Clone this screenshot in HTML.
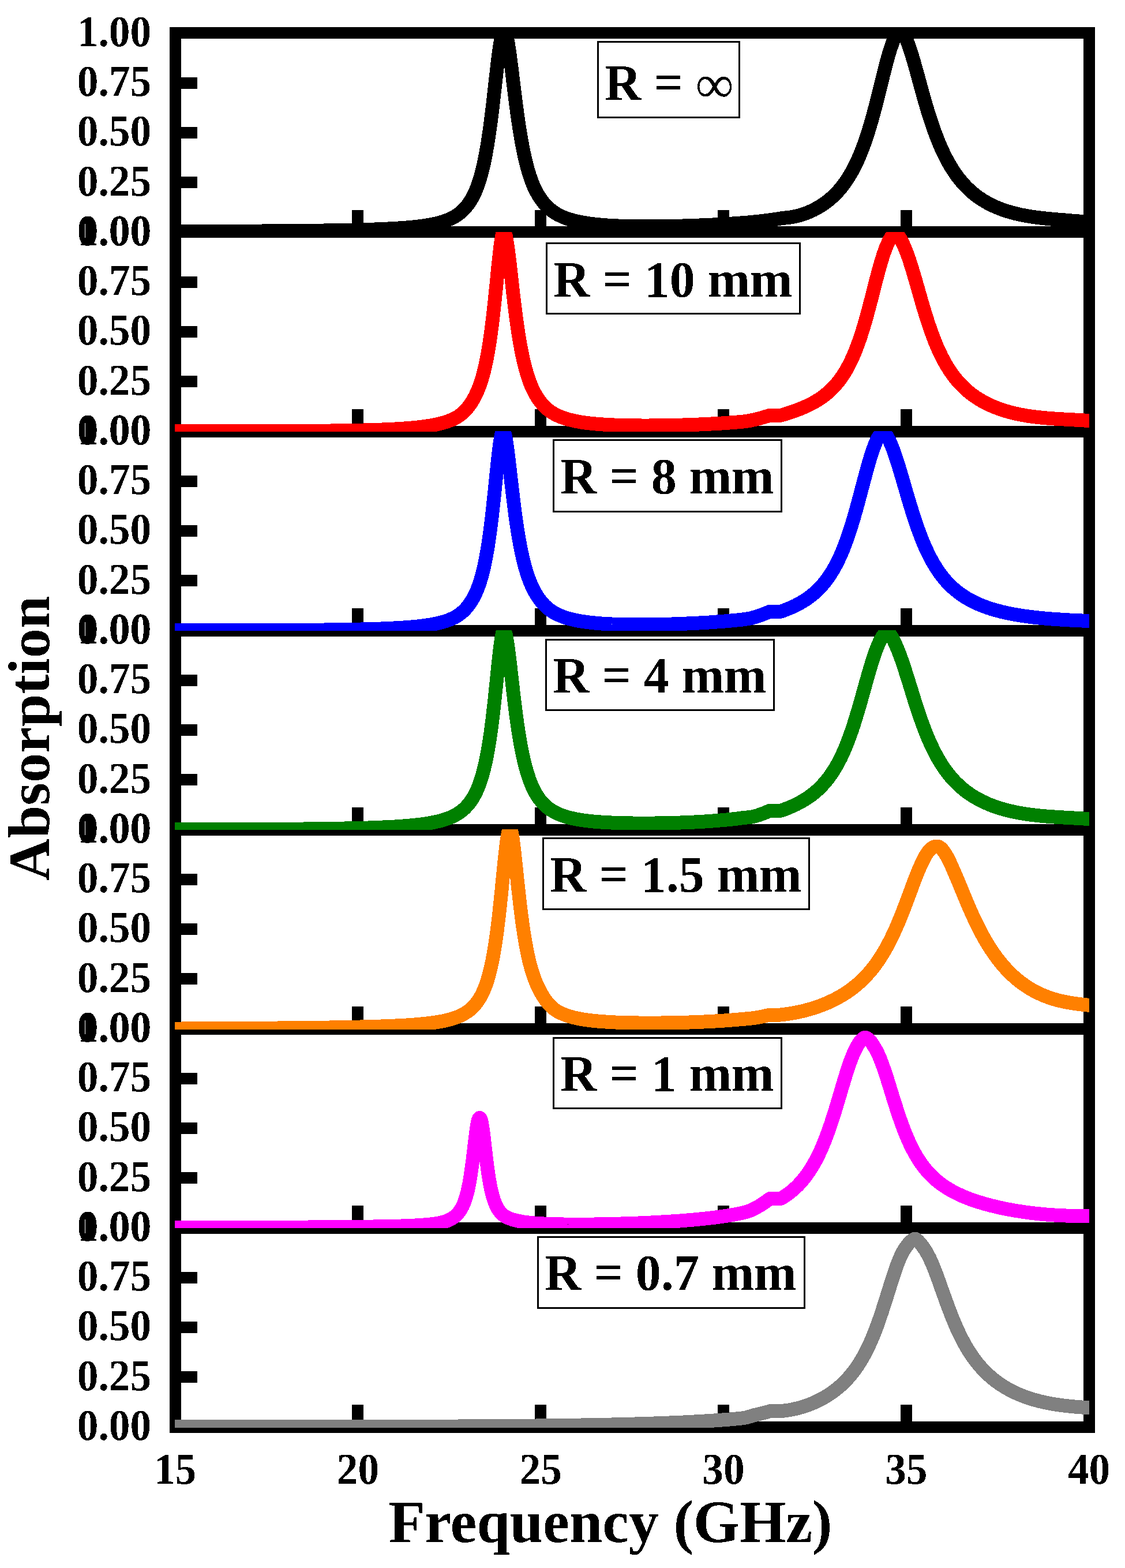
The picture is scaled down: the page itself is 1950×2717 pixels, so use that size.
<!DOCTYPE html>
<html lang="en"><head><meta charset="utf-8"><title>Absorption vs Frequency</title>
<style>html,body{margin:0;padding:0;background:#fff}svg{display:block}text{font-family:"Liberation Serif",serif;font-weight:bold;fill:#000}</style>
</head><body>
<svg width="1950" height="2717" viewBox="0 0 1950 2717">
<rect width="1950" height="2717" fill="#fff"/>
<defs>
<filter id="bin" x="-5%" y="-5%" width="110%" height="110%"><feComponentTransfer><feFuncA type="discrete" tableValues="0 1"/></feComponentTransfer></filter>
<clipPath id="c0"><rect x="303" y="57" width="1585" height="346"/></clipPath>
<clipPath id="c1"><rect x="303" y="402" width="1585" height="346"/></clipPath>
<clipPath id="c2"><rect x="303" y="747" width="1585" height="346"/></clipPath>
<clipPath id="c3"><rect x="303" y="1092" width="1585" height="346"/></clipPath>
<clipPath id="c4"><rect x="303" y="1437" width="1585" height="347"/></clipPath>
<clipPath id="c5"><rect x="303" y="1782" width="1585" height="346"/></clipPath>
<clipPath id="c6"><rect x="303" y="2127" width="1585" height="347"/></clipPath>
</defs>
<g fill="#000" shape-rendering="crispEdges">
<rect x="294" y="47" width="20" height="2436"/>
<rect x="1878" y="47" width="20" height="2436"/>
<rect x="294" y="47" width="1604" height="20"/>
<rect x="294" y="392" width="1604" height="20"/>
<rect x="314" y="134" width="28" height="20"/>
<rect x="314" y="220" width="28" height="20"/>
<rect x="314" y="306" width="28" height="20"/>
<rect x="610" y="364" width="20" height="30"/>
<rect x="927" y="364" width="20" height="30"/>
<rect x="1244" y="364" width="20" height="30"/>
<rect x="1561" y="364" width="20" height="30"/>
<rect x="294" y="738" width="1604" height="20"/>
<rect x="314" y="479" width="28" height="20"/>
<rect x="314" y="565" width="28" height="20"/>
<rect x="314" y="651" width="28" height="20"/>
<rect x="610" y="709" width="20" height="30"/>
<rect x="927" y="709" width="20" height="30"/>
<rect x="1244" y="709" width="20" height="30"/>
<rect x="1561" y="709" width="20" height="30"/>
<rect x="294" y="1083" width="1604" height="20"/>
<rect x="314" y="824" width="28" height="20"/>
<rect x="314" y="910" width="28" height="20"/>
<rect x="314" y="996" width="28" height="20"/>
<rect x="610" y="1054" width="20" height="30"/>
<rect x="927" y="1054" width="20" height="30"/>
<rect x="1244" y="1054" width="20" height="30"/>
<rect x="1561" y="1054" width="20" height="30"/>
<rect x="294" y="1428" width="1604" height="20"/>
<rect x="314" y="1169" width="28" height="20"/>
<rect x="314" y="1255" width="28" height="20"/>
<rect x="314" y="1341" width="28" height="20"/>
<rect x="610" y="1399" width="20" height="30"/>
<rect x="927" y="1399" width="20" height="30"/>
<rect x="1244" y="1399" width="20" height="30"/>
<rect x="1561" y="1399" width="20" height="30"/>
<rect x="294" y="1773" width="1604" height="20"/>
<rect x="314" y="1514" width="28" height="20"/>
<rect x="314" y="1600" width="28" height="20"/>
<rect x="314" y="1686" width="28" height="20"/>
<rect x="610" y="1744" width="20" height="30"/>
<rect x="927" y="1744" width="20" height="30"/>
<rect x="1244" y="1744" width="20" height="30"/>
<rect x="1561" y="1744" width="20" height="30"/>
<rect x="294" y="2118" width="1604" height="20"/>
<rect x="314" y="1859" width="28" height="20"/>
<rect x="314" y="1945" width="28" height="20"/>
<rect x="314" y="2031" width="28" height="20"/>
<rect x="610" y="2089" width="20" height="30"/>
<rect x="927" y="2089" width="20" height="30"/>
<rect x="1244" y="2089" width="20" height="30"/>
<rect x="1561" y="2089" width="20" height="30"/>
<rect x="294" y="2463" width="1604" height="20"/>
<rect x="314" y="2204" width="28" height="20"/>
<rect x="314" y="2290" width="28" height="20"/>
<rect x="314" y="2376" width="28" height="20"/>
<rect x="610" y="2434" width="20" height="30"/>
<rect x="927" y="2434" width="20" height="30"/>
<rect x="1244" y="2434" width="20" height="30"/>
<rect x="1561" y="2434" width="20" height="30"/>
</g>
<g fill="none" stroke-width="24" stroke-linejoin="round" stroke-linecap="butt" shape-rendering="crispEdges">
<g clip-path="url(#c0)"><path stroke="#000000" d="M298.0,401.1 L304.0,401.1 L305.3,401.1 L306.5,401.1 L307.8,401.1 L309.1,401.1 L310.3,401.1 L311.6,401.1 L312.9,401.1 L314.1,401.1 L315.4,401.1 L316.7,401.0 L317.9,401.0 L319.2,401.0 L320.5,401.0 L321.7,401.0 L323.0,401.0 L324.3,401.0 L325.5,401.0 L326.8,401.0 L328.1,401.0 L329.3,401.0 L330.6,401.0 L331.9,401.0 L333.1,401.0 L334.4,401.0 L335.7,401.0 L336.9,401.0 L338.2,401.0 L339.5,401.0 L340.7,401.0 L342.0,401.0 L343.3,401.0 L344.6,401.0 L345.8,401.0 L347.1,401.0 L348.4,400.9 L349.6,400.9 L350.9,400.9 L352.2,400.9 L353.4,400.9 L354.7,400.9 L356.0,400.9 L357.2,400.9 L358.5,400.9 L359.8,400.9 L361.0,400.9 L362.3,400.9 L363.6,400.9 L364.8,400.9 L366.1,400.9 L367.4,400.9 L368.6,400.9 L369.9,400.9 L371.2,400.9 L372.4,400.9 L373.7,400.9 L375.0,400.8 L376.2,400.8 L377.5,400.8 L378.8,400.8 L380.0,400.8 L381.3,400.8 L382.6,400.8 L383.8,400.8 L385.1,400.8 L386.4,400.8 L387.6,400.8 L388.9,400.8 L390.2,400.8 L391.4,400.8 L392.7,400.8 L394.0,400.8 L395.2,400.8 L396.5,400.8 L397.8,400.8 L399.0,400.7 L400.3,400.7 L401.6,400.7 L402.8,400.7 L404.1,400.7 L405.4,400.7 L406.6,400.7 L407.9,400.7 L409.2,400.7 L410.4,400.7 L411.7,400.7 L413.0,400.7 L414.2,400.7 L415.5,400.7 L416.8,400.7 L418.0,400.7 L419.3,400.7 L420.6,400.6 L421.8,400.6 L423.1,400.6 L424.4,400.6 L425.7,400.6 L426.9,400.6 L428.2,400.6 L429.5,400.6 L430.7,400.6 L432.0,400.6 L433.3,400.6 L434.5,400.6 L435.8,400.6 L437.1,400.6 L438.3,400.5 L439.6,400.5 L440.9,400.5 L442.1,400.5 L443.4,400.5 L444.7,400.5 L445.9,400.5 L447.2,400.5 L448.5,400.5 L449.7,400.5 L451.0,400.5 L452.3,400.5 L453.5,400.5 L454.8,400.5 L456.1,400.4 L457.3,400.4 L458.6,400.4 L459.9,400.4 L461.1,400.4 L462.4,400.4 L463.7,400.4 L464.9,400.4 L466.2,400.4 L467.5,400.4 L468.7,400.4 L470.0,400.4 L471.3,400.3 L472.5,400.3 L473.8,400.3 L475.1,400.3 L476.3,400.3 L477.6,400.3 L478.9,400.3 L480.1,400.3 L481.4,400.3 L482.7,400.3 L483.9,400.3 L485.2,400.2 L486.5,400.2 L487.7,400.2 L489.0,400.2 L490.3,400.2 L491.5,400.2 L492.8,400.2 L494.1,400.2 L495.3,400.2 L496.6,400.2 L497.9,400.1 L499.1,400.1 L500.4,400.1 L501.7,400.1 L503.0,400.1 L504.2,400.1 L505.5,400.1 L506.8,400.1 L508.0,400.1 L509.3,400.0 L510.6,400.0 L511.8,400.0 L513.1,400.0 L514.4,400.0 L515.6,400.0 L516.9,400.0 L518.2,400.0 L519.4,399.9 L520.7,399.9 L522.0,399.9 L523.2,399.9 L524.5,399.9 L525.8,399.9 L527.0,399.9 L528.3,399.9 L529.6,399.8 L530.8,399.8 L532.1,399.8 L533.4,399.8 L534.6,399.8 L535.9,399.8 L537.2,399.8 L538.4,399.7 L539.7,399.7 L541.0,399.7 L542.2,399.7 L543.5,399.7 L544.8,399.7 L546.0,399.7 L547.3,399.6 L548.6,399.6 L549.8,399.6 L551.1,399.6 L552.4,399.6 L553.6,399.6 L554.9,399.5 L556.2,399.5 L557.4,399.5 L558.7,399.5 L560.0,399.5 L561.2,399.5 L562.5,399.4 L563.8,399.4 L565.0,399.4 L566.3,399.4 L567.6,399.4 L568.8,399.3 L570.1,399.3 L571.4,399.3 L572.6,399.3 L573.9,399.3 L575.2,399.2 L576.4,399.2 L577.7,399.2 L579.0,399.2 L580.2,399.2 L581.5,399.1 L582.8,399.1 L584.1,399.1 L585.3,399.1 L586.6,399.1 L587.9,399.0 L589.1,399.0 L590.4,399.0 L591.7,399.0 L592.9,398.9 L594.2,398.9 L595.5,398.9 L596.7,398.9 L598.0,398.8 L599.3,398.8 L600.5,398.8 L601.8,398.8 L603.1,398.7 L604.3,398.7 L605.6,398.7 L606.9,398.7 L608.1,398.6 L609.4,398.6 L610.7,398.6 L611.9,398.5 L613.2,398.5 L614.5,398.5 L615.7,398.5 L617.0,398.4 L618.3,398.4 L619.5,398.4 L620.8,398.3 L622.1,398.3 L623.3,398.3 L624.6,398.2 L625.9,398.2 L627.1,398.2 L628.4,398.1 L629.7,398.1 L630.9,398.1 L632.2,398.0 L633.5,398.0 L634.7,398.0 L636.0,397.9 L637.3,397.9 L638.5,397.8 L639.8,397.8 L641.1,397.8 L642.3,397.7 L643.6,397.7 L644.9,397.6 L646.1,397.6 L647.4,397.5 L648.7,397.5 L649.9,397.5 L651.2,397.4 L652.5,397.4 L653.7,397.3 L655.0,397.3 L656.3,397.2 L657.5,397.2 L658.8,397.1 L660.1,397.1 L661.4,397.0 L662.6,397.0 L663.9,396.9 L665.2,396.8 L666.4,396.8 L667.7,396.7 L669.0,396.7 L670.2,396.6 L671.5,396.6 L672.8,396.5 L674.0,396.4 L675.3,396.4 L676.6,396.3 L677.8,396.2 L679.1,396.2 L680.4,396.1 L681.6,396.0 L682.9,396.0 L684.2,395.9 L685.4,395.8 L686.7,395.7 L688.0,395.7 L689.2,395.6 L690.5,395.5 L691.8,395.4 L693.0,395.3 L694.3,395.2 L695.6,395.2 L696.8,395.1 L698.1,395.0 L699.4,394.9 L700.6,394.8 L701.9,394.7 L703.2,394.6 L704.4,394.5 L705.7,394.4 L707.0,394.3 L708.2,394.2 L709.5,394.1 L710.8,393.9 L712.0,393.8 L713.3,393.7 L714.6,393.6 L715.8,393.5 L717.1,393.3 L718.4,393.2 L719.6,393.1 L720.9,392.9 L722.2,392.8 L723.4,392.7 L724.7,392.5 L726.0,392.4 L727.2,392.2 L728.5,392.0 L729.8,391.9 L731.0,391.7 L732.3,391.5 L733.6,391.4 L734.8,391.2 L736.1,391.0 L737.4,390.8 L738.6,390.6 L739.9,390.4 L741.2,390.2 L742.5,390.0 L743.7,389.8 L745.0,389.5 L746.3,389.3 L747.5,389.1 L748.8,388.8 L750.1,388.6 L751.3,388.3 L752.6,388.0 L753.9,387.8 L755.1,387.5 L756.4,387.2 L757.7,386.9 L758.9,386.6 L760.2,386.2 L761.5,385.9 L762.7,385.6 L764.0,385.2 L765.3,384.8 L766.5,384.5 L767.8,384.1 L769.1,383.7 L770.3,383.2 L771.6,382.8 L772.9,382.3 L774.1,381.9 L775.4,381.4 L776.7,380.9 L777.9,380.4 L779.2,379.8 L780.5,379.3 L781.7,378.7 L783.0,378.1 L784.3,377.4 L785.5,376.8 L786.8,376.1 L788.1,375.4 L789.3,374.6 L790.6,373.8 L791.9,373.0 L793.1,372.1 L794.4,371.2 L795.7,370.3 L796.9,369.3 L798.2,368.2 L799.5,367.1 L800.7,366.0 L802.0,364.8 L803.3,363.6 L804.5,362.3 L805.8,360.9 L807.1,359.5 L808.3,358.0 L809.6,356.4 L810.9,354.8 L812.1,353.0 L813.4,351.2 L814.7,349.3 L815.9,347.3 L817.2,345.2 L818.5,342.9 L819.8,340.6 L821.0,338.1 L822.3,335.5 L823.6,332.7 L824.8,329.8 L826.1,326.7 L827.4,323.4 L828.6,319.9 L829.9,316.2 L831.2,312.3 L832.4,308.1 L833.7,303.7 L835.0,299.0 L836.2,294.0 L837.5,288.6 L838.8,283.0 L840.0,277.0 L841.3,270.6 L842.6,263.9 L843.8,256.7 L845.1,249.1 L846.4,241.1 L847.6,232.7 L848.9,223.8 L850.2,214.5 L851.4,204.7 L852.7,194.5 L854.0,184.0 L855.2,173.1 L856.5,162.0 L857.8,150.7 L859.0,139.4 L860.3,128.1 L861.6,117.0 L862.8,106.3 L864.1,96.1 L865.4,86.7 L866.6,78.2 L867.9,70.9 L869.2,64.7 L870.4,60.0 L871.7,56.7 L873.0,54.9 L874.2,54.5 L875.5,55.7 L876.8,58.4 L878.0,62.6 L879.3,68.1 L880.6,74.8 L881.8,82.5 L883.1,91.1 L884.4,100.3 L885.6,110.1 L886.9,120.2 L888.2,130.6 L889.4,141.0 L890.7,151.4 L892.0,161.8 L893.2,171.9 L894.5,181.8 L895.8,191.4 L897.0,200.6 L898.3,209.5 L899.6,218.1 L900.9,226.3 L902.1,234.1 L903.4,241.5 L904.7,248.5 L905.9,255.3 L907.2,261.6 L908.5,267.7 L909.7,273.4 L911.0,278.8 L912.3,283.9 L913.5,288.8 L914.8,293.4 L916.1,297.7 L917.3,301.8 L918.6,305.7 L919.9,309.4 L921.1,312.9 L922.4,316.2 L923.7,319.4 L924.9,322.4 L926.2,325.2 L927.5,327.9 L928.7,330.5 L930.0,332.9 L931.3,335.2 L932.5,337.4 L933.8,339.5 L935.1,341.5 L936.3,343.4 L937.6,345.3 L938.9,347.0 L940.1,348.7 L941.4,350.3 L942.7,351.8 L943.9,353.3 L945.2,354.7 L946.5,356.1 L947.7,357.4 L949.0,358.6 L950.3,359.8 L951.5,361.0 L952.8,362.1 L954.1,363.1 L955.3,364.1 L956.6,365.1 L957.9,366.1 L959.1,367.0 L960.4,367.8 L961.7,368.7 L962.9,369.5 L964.2,370.2 L965.5,371.0 L966.7,371.7 L968.0,372.3 L969.3,373.0 L970.5,373.6 L971.8,374.2 L973.1,374.8 L974.3,375.4 L975.6,375.9 L976.9,376.5 L978.2,377.0 L979.4,377.5 L980.7,377.9 L982.0,378.4 L983.2,378.8 L984.5,379.3 L985.8,379.7 L987.0,380.1 L988.3,380.5 L989.6,380.9 L990.8,381.2 L992.1,381.6 L993.4,381.9 L994.6,382.3 L995.9,382.6 L997.2,382.9 L998.4,383.2 L999.7,383.5 L1001.0,383.8 L1002.2,384.1 L1003.5,384.3 L1004.8,384.6 L1006.0,384.9 L1007.3,385.1 L1008.6,385.3 L1009.8,385.6 L1011.1,385.8 L1012.4,386.0 L1013.6,386.2 L1014.9,386.4 L1016.2,386.6 L1017.4,386.8 L1018.7,387.0 L1020.0,387.2 L1021.2,387.4 L1022.5,387.5 L1023.8,387.7 L1025.0,387.9 L1026.3,388.0 L1027.6,388.2 L1028.8,388.3 L1030.1,388.5 L1031.4,388.6 L1032.6,388.8 L1033.9,388.9 L1035.2,389.0 L1036.4,389.2 L1037.7,389.3 L1039.0,389.4 L1040.2,389.5 L1041.5,389.6 L1042.8,389.7 L1044.0,389.8 L1045.3,389.9 L1046.6,390.0 L1047.8,390.1 L1049.1,390.2 L1050.4,390.3 L1051.6,390.4 L1052.9,390.5 L1054.2,390.6 L1055.4,390.7 L1056.7,390.7 L1058.0,390.8 L1059.3,390.9 L1060.5,391.0 L1061.8,391.0 L1063.1,391.1 L1064.3,391.2 L1065.6,391.2 L1066.9,391.3 L1068.1,391.3 L1069.4,391.4 L1070.7,391.4 L1071.9,391.5 L1073.2,391.6 L1074.5,391.6 L1075.7,391.6 L1077.0,391.7 L1078.3,391.7 L1079.5,391.8 L1080.8,391.8 L1082.1,391.9 L1083.3,391.9 L1084.6,391.9 L1085.9,392.0 L1087.1,392.0 L1088.4,392.0 L1089.7,392.1 L1090.9,392.1 L1092.2,392.1 L1093.5,392.1 L1094.7,392.2 L1096.0,392.2 L1097.3,392.2 L1098.5,392.2 L1099.8,392.2 L1101.1,392.3 L1102.3,392.3 L1103.6,392.3 L1104.9,392.3 L1106.1,392.3 L1107.4,392.3 L1108.7,392.3 L1109.9,392.4 L1111.2,392.4 L1112.5,392.4 L1113.7,392.4 L1115.0,392.4 L1116.3,392.4 L1117.5,392.4 L1118.8,392.4 L1120.1,392.4 L1121.3,392.4 L1122.6,392.4 L1123.9,392.4 L1125.1,392.4 L1126.4,392.4 L1127.7,392.4 L1128.9,392.4 L1130.2,392.4 L1131.5,392.4 L1132.7,392.4 L1134.0,392.4 L1135.3,392.4 L1136.6,392.3 L1137.8,392.3 L1139.1,392.3 L1140.4,392.3 L1141.6,392.3 L1142.9,392.3 L1144.2,392.3 L1145.4,392.3 L1146.7,392.2 L1148.0,392.2 L1149.2,392.2 L1150.5,392.2 L1151.8,392.2 L1153.0,392.1 L1154.3,392.1 L1155.6,392.1 L1156.8,392.1 L1158.1,392.1 L1159.4,392.0 L1160.6,392.0 L1161.9,392.0 L1163.2,392.0 L1164.4,391.9 L1165.7,391.9 L1167.0,391.9 L1168.2,391.9 L1169.5,391.8 L1170.8,391.8 L1172.0,391.8 L1173.3,391.7 L1174.6,391.7 L1175.8,391.7 L1177.1,391.6 L1178.4,391.6 L1179.6,391.6 L1180.9,391.5 L1182.2,391.5 L1183.4,391.5 L1184.7,391.4 L1186.0,391.4 L1187.2,391.4 L1188.5,391.3 L1189.8,391.3 L1191.0,391.3 L1192.3,391.2 L1193.6,391.2 L1194.8,391.1 L1196.1,391.1 L1197.4,391.1 L1198.6,391.0 L1199.9,391.0 L1201.2,390.9 L1202.4,390.9 L1203.7,390.8 L1205.0,390.8 L1206.2,390.7 L1207.5,390.7 L1208.8,390.6 L1210.0,390.6 L1211.3,390.5 L1212.6,390.5 L1213.8,390.4 L1215.1,390.4 L1216.4,390.3 L1217.7,390.3 L1218.9,390.2 L1220.2,390.2 L1221.5,390.1 L1222.7,390.1 L1224.0,390.0 L1225.3,390.0 L1226.5,389.9 L1227.8,389.9 L1229.1,389.8 L1230.3,389.7 L1231.6,389.7 L1232.9,389.6 L1234.1,389.6 L1235.4,389.5 L1236.7,389.4 L1237.9,389.4 L1239.2,389.3 L1240.5,389.2 L1241.7,389.2 L1243.0,389.1 L1244.3,389.0 L1245.5,389.0 L1246.8,388.9 L1248.1,388.8 L1249.3,388.8 L1250.6,388.7 L1251.9,388.6 L1253.1,388.5 L1254.4,388.5 L1255.7,388.4 L1256.9,388.3 L1258.2,388.2 L1259.5,388.2 L1260.7,388.1 L1262.0,388.0 L1263.3,387.9 L1264.5,387.9 L1265.8,387.8 L1267.1,387.7 L1268.3,387.6 L1269.6,387.5 L1270.9,387.4 L1272.1,387.3 L1273.4,387.3 L1274.7,387.2 L1275.9,387.1 L1277.2,387.0 L1278.5,386.9 L1279.7,386.8 L1281.0,386.7 L1282.3,386.6 L1283.5,386.5 L1284.8,386.4 L1286.1,386.3 L1287.3,386.2 L1288.6,386.1 L1289.9,386.0 L1291.1,385.9 L1292.4,385.8 L1293.7,385.7 L1295.0,385.6 L1296.2,385.5 L1297.5,385.4 L1298.8,385.2 L1300.0,385.1 L1301.3,385.0 L1302.6,384.9 L1303.8,384.8 L1305.1,384.7 L1306.4,384.5 L1307.6,384.4 L1308.9,384.3 L1310.2,384.2 L1311.4,384.0 L1312.7,383.9 L1314.0,383.8 L1315.2,383.6 L1316.5,383.5 L1317.8,383.3 L1319.0,383.2 L1320.3,383.1 L1321.6,382.9 L1322.8,382.8 L1324.1,382.6 L1325.4,382.5 L1326.6,382.3 L1327.9,382.1 L1329.2,382.0 L1330.4,381.8 L1331.7,381.7 L1333.0,381.5 L1334.2,381.3 L1335.5,381.1 L1336.8,381.0 L1338.0,380.8 L1339.3,380.6 L1340.6,380.4 L1341.8,380.2 L1343.1,380.0 L1344.4,379.9 L1345.6,379.7 L1346.9,379.5 L1348.2,379.2 L1349.4,379.0 L1350.7,378.8 L1352.0,378.6 L1353.2,378.4 L1354.5,378.2 L1355.8,377.9 L1357.0,377.9 L1358.3,377.8 L1359.6,377.7 L1360.8,377.6 L1362.1,377.4 L1363.4,377.3 L1364.6,377.2 L1365.9,377.0 L1367.2,376.8 L1368.4,376.7 L1369.7,376.5 L1371.0,376.3 L1372.2,376.1 L1373.5,375.9 L1374.8,375.6 L1376.1,375.4 L1377.3,375.1 L1378.6,374.9 L1379.9,374.6 L1381.1,374.3 L1382.4,374.0 L1383.7,373.7 L1384.9,373.4 L1386.2,373.1 L1387.5,372.7 L1388.7,372.3 L1390.0,371.9 L1391.3,371.5 L1392.5,371.1 L1393.8,370.7 L1395.1,370.2 L1396.3,369.7 L1397.6,369.2 L1398.9,368.7 L1400.1,368.2 L1401.4,367.7 L1402.7,367.2 L1403.9,366.6 L1405.2,366.1 L1406.5,365.5 L1407.7,364.9 L1409.0,364.3 L1410.3,363.7 L1411.5,363.0 L1412.8,362.4 L1414.1,361.7 L1415.3,361.0 L1416.6,360.3 L1417.9,359.6 L1419.1,358.9 L1420.4,358.1 L1421.7,357.3 L1422.9,356.6 L1424.2,355.7 L1425.5,354.9 L1426.7,354.1 L1428.0,353.2 L1429.3,352.3 L1430.5,351.4 L1431.8,350.5 L1433.1,349.5 L1434.3,348.5 L1435.6,347.5 L1436.9,346.5 L1438.1,345.4 L1439.4,344.4 L1440.7,343.3 L1441.9,342.1 L1443.2,341.0 L1444.5,339.8 L1445.7,338.6 L1447.0,337.3 L1448.3,336.1 L1449.5,334.8 L1450.8,333.4 L1452.1,332.1 L1453.4,330.6 L1454.6,329.2 L1455.9,327.7 L1457.2,326.2 L1458.4,324.7 L1459.7,323.1 L1461.0,321.4 L1462.2,319.8 L1463.5,318.1 L1464.8,316.3 L1466.0,314.5 L1467.3,312.6 L1468.6,310.7 L1469.8,308.8 L1471.1,306.8 L1472.4,304.7 L1473.6,302.6 L1474.9,300.5 L1476.2,298.2 L1477.4,296.0 L1478.7,293.6 L1480.0,291.2 L1481.2,288.7 L1482.5,286.2 L1483.8,283.6 L1485.0,280.9 L1486.3,278.2 L1487.6,275.4 L1488.8,272.5 L1490.1,269.5 L1491.4,266.4 L1492.6,263.3 L1493.9,260.1 L1495.2,256.8 L1496.4,253.4 L1497.7,250.0 L1499.0,246.4 L1500.2,242.8 L1501.5,239.0 L1502.8,235.2 L1504.0,231.3 L1505.3,227.3 L1506.6,223.2 L1507.8,219.0 L1509.1,214.7 L1510.4,210.4 L1511.6,205.9 L1512.9,201.4 L1514.2,196.8 L1515.4,192.1 L1516.7,187.3 L1518.0,182.5 L1519.2,177.6 L1520.5,172.6 L1521.8,167.6 L1523.0,162.5 L1524.3,157.4 L1525.6,152.3 L1526.8,147.1 L1528.1,142.0 L1529.4,136.8 L1530.6,131.7 L1531.9,126.6 L1533.2,121.6 L1534.5,116.6 L1535.7,111.7 L1537.0,106.9 L1538.3,102.2 L1539.5,97.7 L1540.8,93.3 L1542.1,89.1 L1543.3,85.1 L1544.6,81.3 L1545.9,77.6 L1547.1,74.1 L1548.4,70.9 L1549.7,67.9 L1550.9,65.3 L1552.2,63.0 L1553.5,61.0 L1554.7,59.3 L1556.0,57.9 L1557.3,56.9 L1558.5,56.2 L1559.8,55.9 L1561.1,55.8 L1562.3,56.2 L1563.6,57.1 L1564.9,58.2 L1566.1,59.8 L1567.4,61.6 L1568.7,63.8 L1569.9,66.2 L1571.2,68.9 L1572.5,71.8 L1573.7,75.0 L1575.0,78.4 L1576.3,82.0 L1577.5,85.8 L1578.8,89.7 L1580.1,93.7 L1581.3,97.8 L1582.6,102.0 L1583.9,106.4 L1585.1,110.8 L1586.4,115.3 L1587.7,119.8 L1588.9,124.4 L1590.2,129.0 L1591.5,133.6 L1592.7,138.3 L1594.0,142.9 L1595.3,147.5 L1596.5,152.1 L1597.8,156.7 L1599.1,161.3 L1600.3,165.8 L1601.6,170.2 L1602.9,174.7 L1604.1,179.0 L1605.4,183.3 L1606.7,187.6 L1607.9,191.8 L1609.2,195.9 L1610.5,199.9 L1611.8,203.9 L1613.0,207.8 L1614.3,211.7 L1615.6,215.4 L1616.8,219.1 L1618.1,222.7 L1619.4,226.3 L1620.6,229.8 L1621.9,233.2 L1623.2,236.5 L1624.4,239.8 L1625.7,243.0 L1627.0,246.1 L1628.2,249.1 L1629.5,252.1 L1630.8,255.0 L1632.0,257.9 L1633.3,260.7 L1634.6,263.4 L1635.8,266.0 L1637.1,268.6 L1638.4,271.2 L1639.6,273.7 L1640.9,276.1 L1642.2,278.5 L1643.4,280.8 L1644.7,283.0 L1646.0,285.2 L1647.2,287.4 L1648.5,289.5 L1649.8,291.5 L1651.0,293.6 L1652.3,295.5 L1653.6,297.4 L1654.8,299.3 L1656.1,301.1 L1657.4,302.9 L1658.6,304.7 L1659.9,306.4 L1661.2,308.1 L1662.4,309.7 L1663.7,311.3 L1665.0,312.8 L1666.2,314.4 L1667.5,315.8 L1668.8,317.3 L1670.0,318.7 L1671.3,320.1 L1672.6,321.5 L1673.8,322.8 L1675.1,324.1 L1676.4,325.4 L1677.6,326.6 L1678.9,327.8 L1680.2,329.0 L1681.4,330.2 L1682.7,331.3 L1684.0,332.4 L1685.2,333.5 L1686.5,334.6 L1687.8,335.6 L1689.0,336.7 L1690.3,337.7 L1691.6,338.6 L1692.9,339.6 L1694.1,340.5 L1695.4,341.5 L1696.7,342.4 L1697.9,343.2 L1699.2,344.1 L1700.5,344.9 L1701.7,345.8 L1703.0,346.6 L1704.3,347.4 L1705.5,348.1 L1706.8,348.9 L1708.1,349.6 L1709.3,350.4 L1710.6,351.1 L1711.9,351.8 L1713.1,352.5 L1714.4,353.1 L1715.7,353.8 L1716.9,354.4 L1718.2,355.1 L1719.5,355.7 L1720.7,356.3 L1722.0,356.9 L1723.3,357.5 L1724.5,358.0 L1725.8,358.6 L1727.1,359.1 L1728.3,359.7 L1729.6,360.2 L1730.9,360.7 L1732.1,361.2 L1733.4,361.7 L1734.7,362.2 L1735.9,362.7 L1737.2,363.1 L1738.5,363.6 L1739.7,364.0 L1741.0,364.4 L1742.3,364.9 L1743.5,365.3 L1744.8,365.7 L1746.1,366.1 L1747.3,366.5 L1748.6,366.9 L1749.9,367.2 L1751.1,367.6 L1752.4,368.0 L1753.7,368.3 L1754.9,368.7 L1756.2,369.0 L1757.5,369.3 L1758.7,369.7 L1760.0,370.0 L1761.3,370.3 L1762.5,370.6 L1763.8,370.9 L1765.1,371.2 L1766.3,371.5 L1767.6,371.7 L1768.9,372.0 L1770.2,372.3 L1771.4,372.5 L1772.7,372.8 L1774.0,373.0 L1775.2,373.3 L1776.5,373.5 L1777.8,373.8 L1779.0,374.0 L1780.3,374.2 L1781.6,374.4 L1782.8,374.7 L1784.1,374.9 L1785.4,375.1 L1786.6,375.3 L1787.9,375.5 L1789.2,375.7 L1790.4,375.9 L1791.7,376.0 L1793.0,376.2 L1794.2,376.4 L1795.5,376.6 L1796.8,376.7 L1798.0,376.9 L1799.3,377.1 L1800.6,377.2 L1801.8,377.4 L1803.1,377.5 L1804.4,377.7 L1805.6,377.8 L1806.9,378.0 L1808.2,378.1 L1809.4,378.3 L1810.7,378.4 L1812.0,378.5 L1813.2,378.7 L1814.5,378.8 L1815.8,378.9 L1817.0,379.1 L1818.3,379.2 L1819.6,379.3 L1820.8,379.4 L1822.1,379.5 L1823.4,379.7 L1824.6,379.8 L1825.9,379.9 L1827.2,380.0 L1828.4,380.1 L1829.7,380.2 L1831.0,380.3 L1832.2,380.4 L1833.5,380.5 L1834.8,380.6 L1836.0,380.7 L1837.3,380.8 L1838.6,380.9 L1839.8,381.0 L1841.1,381.1 L1842.4,381.2 L1843.6,381.3 L1844.9,381.4 L1846.2,381.5 L1847.4,381.6 L1848.7,381.8 L1850.0,381.9 L1851.3,382.0 L1852.5,382.1 L1853.8,382.2 L1855.1,382.3 L1856.3,382.4 L1857.6,382.5 L1858.9,382.6 L1860.1,382.7 L1861.4,382.8 L1862.7,382.9 L1863.9,383.0 L1865.2,383.1 L1866.5,383.2 L1867.7,383.3 L1869.0,383.4 L1870.3,383.6 L1871.5,383.7 L1872.8,383.8 L1874.1,383.9 L1875.3,384.0 L1876.6,384.2 L1877.9,384.3 L1879.1,384.4 L1880.4,384.6 L1881.7,384.7 L1882.9,384.8 L1884.2,385.0 L1885.5,385.1 L1886.7,385.3 L1888.0,385.4 L1892.0,385.4"/></g>
<g clip-path="url(#c1)"><path stroke="#ff0000" d="M298.0,747.0 L304.0,747.0 L305.3,747.0 L306.5,747.0 L307.8,747.0 L309.1,747.0 L310.3,747.0 L311.6,747.0 L312.9,747.0 L314.1,747.0 L315.4,747.0 L316.7,747.0 L317.9,747.0 L319.2,747.0 L320.5,747.0 L321.7,747.0 L323.0,747.0 L324.3,747.0 L325.5,747.0 L326.8,747.0 L328.1,747.0 L329.3,747.0 L330.6,747.0 L331.9,747.0 L333.1,747.0 L334.4,747.0 L335.7,747.0 L336.9,747.0 L338.2,747.0 L339.5,747.0 L340.7,747.0 L342.0,747.1 L343.3,747.1 L344.6,747.1 L345.8,747.1 L347.1,747.1 L348.4,747.1 L349.6,747.1 L350.9,747.1 L352.2,747.1 L353.4,747.1 L354.7,747.1 L356.0,747.1 L357.2,747.1 L358.5,747.1 L359.8,747.1 L361.0,747.1 L362.3,747.1 L363.6,747.1 L364.8,747.1 L366.1,747.1 L367.4,747.1 L368.6,747.1 L369.9,747.1 L371.2,747.1 L372.4,747.1 L373.7,747.1 L375.0,747.1 L376.2,747.1 L377.5,747.1 L378.8,747.1 L380.0,747.1 L381.3,747.1 L382.6,747.1 L383.8,747.1 L385.1,747.1 L386.4,747.1 L387.6,747.1 L388.9,747.1 L390.2,747.1 L391.4,747.1 L392.7,747.1 L394.0,747.1 L395.2,747.1 L396.5,747.1 L397.8,747.1 L399.0,747.1 L400.3,747.1 L401.6,747.1 L402.8,747.1 L404.1,747.1 L405.4,747.1 L406.6,747.1 L407.9,747.1 L409.2,747.1 L410.4,747.1 L411.7,747.1 L413.0,747.1 L414.2,747.1 L415.5,747.1 L416.8,747.1 L418.0,747.1 L419.3,747.1 L420.6,747.1 L421.8,747.1 L423.1,747.1 L424.4,747.1 L425.7,747.1 L426.9,747.1 L428.2,747.1 L429.5,747.1 L430.7,747.1 L432.0,747.1 L433.3,747.1 L434.5,747.1 L435.8,747.1 L437.1,747.1 L438.3,747.1 L439.6,747.1 L440.9,747.1 L442.1,747.1 L443.4,747.1 L444.7,747.1 L445.9,747.1 L447.2,747.1 L448.5,747.1 L449.7,747.1 L451.0,747.1 L452.3,747.1 L453.5,747.1 L454.8,747.1 L456.1,747.1 L457.3,747.1 L458.6,747.1 L459.9,747.1 L461.1,747.1 L462.4,747.1 L463.7,747.1 L464.9,747.1 L466.2,747.1 L467.5,747.1 L468.7,747.1 L470.0,747.1 L471.3,747.1 L472.5,747.1 L473.8,747.1 L475.1,747.1 L476.3,747.1 L477.6,747.1 L478.9,747.1 L480.1,747.1 L481.4,747.1 L482.7,747.1 L483.9,747.1 L485.2,747.1 L486.5,747.0 L487.7,747.0 L489.0,747.0 L490.3,747.0 L491.5,747.0 L492.8,747.0 L494.1,747.0 L495.3,747.0 L496.6,747.0 L497.9,747.0 L499.1,747.0 L500.4,747.0 L501.7,747.0 L503.0,747.0 L504.2,747.0 L505.5,747.0 L506.8,747.0 L508.0,747.0 L509.3,747.0 L510.6,747.0 L511.8,746.9 L513.1,746.9 L514.4,746.9 L515.6,746.9 L516.9,746.9 L518.2,746.9 L519.4,746.9 L520.7,746.9 L522.0,746.9 L523.2,746.9 L524.5,746.9 L525.8,746.9 L527.0,746.9 L528.3,746.9 L529.6,746.9 L530.8,746.8 L532.1,746.8 L533.4,746.8 L534.6,746.8 L535.9,746.8 L537.2,746.8 L538.4,746.8 L539.7,746.8 L541.0,746.8 L542.2,746.8 L543.5,746.8 L544.8,746.7 L546.0,746.7 L547.3,746.7 L548.6,746.7 L549.8,746.7 L551.1,746.7 L552.4,746.7 L553.6,746.7 L554.9,746.7 L556.2,746.6 L557.4,746.6 L558.7,746.6 L560.0,746.6 L561.2,746.6 L562.5,746.6 L563.8,746.6 L565.0,746.6 L566.3,746.5 L567.6,746.5 L568.8,746.5 L570.1,746.5 L571.4,746.5 L572.6,746.5 L573.9,746.5 L575.2,746.4 L576.4,746.4 L577.7,746.4 L579.0,746.4 L580.2,746.4 L581.5,746.4 L582.8,746.4 L584.1,746.3 L585.3,746.3 L586.6,746.3 L587.9,746.3 L589.1,746.3 L590.4,746.2 L591.7,746.2 L592.9,746.2 L594.2,746.2 L595.5,746.2 L596.7,746.2 L598.0,746.1 L599.3,746.1 L600.5,746.1 L601.8,746.1 L603.1,746.0 L604.3,746.0 L605.6,746.0 L606.9,746.0 L608.1,746.0 L609.4,745.9 L610.7,745.9 L611.9,745.9 L613.2,745.9 L614.5,745.8 L615.7,745.8 L617.0,745.8 L618.3,745.8 L619.5,745.7 L620.8,745.7 L622.1,745.7 L623.3,745.7 L624.6,745.6 L625.9,745.6 L627.1,745.6 L628.4,745.5 L629.7,745.5 L630.9,745.5 L632.2,745.4 L633.5,745.4 L634.7,745.4 L636.0,745.3 L637.3,745.3 L638.5,745.3 L639.8,745.2 L641.1,745.2 L642.3,745.2 L643.6,745.1 L644.9,745.1 L646.1,745.1 L647.4,745.0 L648.7,745.0 L649.9,744.9 L651.2,744.9 L652.5,744.9 L653.7,744.8 L655.0,744.8 L656.3,744.7 L657.5,744.7 L658.8,744.6 L660.1,744.6 L661.4,744.5 L662.6,744.5 L663.9,744.4 L665.2,744.4 L666.4,744.3 L667.7,744.3 L669.0,744.2 L670.2,744.2 L671.5,744.1 L672.8,744.1 L674.0,744.0 L675.3,743.9 L676.6,743.9 L677.8,743.8 L679.1,743.8 L680.4,743.7 L681.6,743.6 L682.9,743.6 L684.2,743.5 L685.4,743.4 L686.7,743.4 L688.0,743.3 L689.2,743.2 L690.5,743.1 L691.8,743.1 L693.0,743.0 L694.3,742.9 L695.6,742.8 L696.8,742.7 L698.1,742.7 L699.4,742.6 L700.6,742.5 L701.9,742.4 L703.2,742.3 L704.4,742.2 L705.7,742.1 L707.0,742.0 L708.2,741.9 L709.5,741.8 L710.8,741.7 L712.0,741.6 L713.3,741.5 L714.6,741.4 L715.8,741.3 L717.1,741.1 L718.4,741.0 L719.6,740.9 L720.9,740.8 L722.2,740.6 L723.4,740.5 L724.7,740.4 L726.0,740.2 L727.2,740.1 L728.5,739.9 L729.8,739.8 L731.0,739.6 L732.3,739.5 L733.6,739.3 L734.8,739.1 L736.1,739.0 L737.4,738.8 L738.6,738.6 L739.9,738.4 L741.2,738.2 L742.5,738.1 L743.7,737.8 L745.0,737.6 L746.3,737.4 L747.5,737.2 L748.8,737.0 L750.1,736.8 L751.3,736.5 L752.6,736.3 L753.9,736.0 L755.1,735.8 L756.4,735.5 L757.7,735.2 L758.9,734.9 L760.2,734.6 L761.5,734.3 L762.7,734.0 L764.0,733.7 L765.3,733.4 L766.5,733.0 L767.8,732.7 L769.1,732.3 L770.3,731.9 L771.6,731.6 L772.9,731.2 L774.1,730.7 L775.4,730.3 L776.7,729.9 L777.9,729.4 L779.2,728.9 L780.5,728.4 L781.7,727.9 L783.0,727.4 L784.3,726.8 L785.5,726.2 L786.8,725.6 L788.1,725.0 L789.3,724.3 L790.6,723.7 L791.9,723.0 L793.1,722.2 L794.4,721.4 L795.7,720.6 L796.9,719.7 L798.2,718.7 L799.5,717.7 L800.7,716.7 L802.0,715.6 L803.3,714.4 L804.5,713.2 L805.8,711.9 L807.1,710.6 L808.3,709.2 L809.6,707.7 L810.9,706.2 L812.1,704.6 L813.4,702.9 L814.7,701.1 L815.9,699.3 L817.2,697.4 L818.5,695.4 L819.8,693.3 L821.0,691.1 L822.3,688.8 L823.6,686.3 L824.8,683.8 L826.1,681.1 L827.4,678.3 L828.6,675.3 L829.9,672.2 L831.2,668.8 L832.4,665.3 L833.7,661.5 L835.0,657.5 L836.2,653.3 L837.5,648.7 L838.8,643.9 L840.0,638.7 L841.3,633.1 L842.6,627.2 L843.8,620.9 L845.1,614.2 L846.4,607.0 L847.6,599.4 L848.9,591.2 L850.2,582.5 L851.4,573.3 L852.7,563.5 L854.0,553.2 L855.2,542.3 L856.5,531.0 L857.8,519.1 L859.0,506.9 L860.3,494.4 L861.6,481.7 L862.8,469.0 L864.1,456.6 L865.4,444.6 L866.6,433.4 L867.9,423.3 L869.2,414.7 L870.4,407.8 L871.7,403.0 L873.0,400.8 L874.2,401.4 L875.5,404.2 L876.8,409.0 L878.0,415.4 L879.3,423.2 L880.6,432.1 L881.8,442.0 L883.1,452.5 L884.4,463.4 L885.6,474.7 L886.9,486.0 L888.2,497.2 L889.4,508.3 L890.7,519.2 L892.0,529.7 L893.2,539.9 L894.5,549.6 L895.8,559.0 L897.0,567.9 L898.3,576.3 L899.6,584.4 L900.9,592.0 L902.1,599.2 L903.4,606.0 L904.7,612.4 L905.9,618.4 L907.2,624.1 L908.5,629.5 L909.7,634.6 L911.0,639.4 L912.3,643.9 L913.5,648.2 L914.8,652.2 L916.1,656.0 L917.3,659.6 L918.6,663.0 L919.9,666.2 L921.1,669.2 L922.4,672.1 L923.7,674.8 L924.9,677.4 L926.2,679.9 L927.5,682.2 L928.7,684.5 L930.0,686.6 L931.3,688.6 L932.5,690.6 L933.8,692.4 L935.1,694.2 L936.3,695.9 L937.6,697.5 L938.9,699.0 L940.1,700.5 L941.4,701.9 L942.7,703.2 L943.9,704.5 L945.2,705.8 L946.5,706.9 L947.7,708.1 L949.0,709.2 L950.3,710.2 L951.5,711.2 L952.8,712.1 L954.1,713.0 L955.3,713.9 L956.6,714.7 L957.9,715.5 L959.1,716.3 L960.4,717.0 L961.7,717.7 L962.9,718.4 L964.2,719.0 L965.5,719.6 L966.7,720.2 L968.0,720.8 L969.3,721.3 L970.5,721.9 L971.8,722.4 L973.1,722.9 L974.3,723.3 L975.6,723.8 L976.9,724.2 L978.2,724.7 L979.4,725.1 L980.7,725.5 L982.0,725.9 L983.2,726.2 L984.5,726.6 L985.8,727.0 L987.0,727.3 L988.3,727.6 L989.6,727.9 L990.8,728.2 L992.1,728.5 L993.4,728.8 L994.6,729.1 L995.9,729.4 L997.2,729.6 L998.4,729.9 L999.7,730.1 L1001.0,730.4 L1002.2,730.6 L1003.5,730.8 L1004.8,731.1 L1006.0,731.3 L1007.3,731.5 L1008.6,731.7 L1009.8,731.9 L1011.1,732.1 L1012.4,732.2 L1013.6,732.4 L1014.9,732.6 L1016.2,732.8 L1017.4,732.9 L1018.7,733.1 L1020.0,733.2 L1021.2,733.4 L1022.5,733.5 L1023.8,733.7 L1025.0,733.8 L1026.3,733.9 L1027.6,734.1 L1028.8,734.2 L1030.1,734.3 L1031.4,734.4 L1032.6,734.5 L1033.9,734.6 L1035.2,734.8 L1036.4,734.9 L1037.7,735.0 L1039.0,735.1 L1040.2,735.1 L1041.5,735.2 L1042.8,735.3 L1044.0,735.4 L1045.3,735.5 L1046.6,735.6 L1047.8,735.7 L1049.1,735.7 L1050.4,735.8 L1051.6,735.9 L1052.9,736.0 L1054.2,736.0 L1055.4,736.1 L1056.7,736.2 L1058.0,736.2 L1059.3,736.3 L1060.5,736.3 L1061.8,736.4 L1063.1,736.4 L1064.3,736.5 L1065.6,736.6 L1066.9,736.6 L1068.1,736.6 L1069.4,736.7 L1070.7,736.7 L1071.9,736.8 L1073.2,736.8 L1074.5,736.9 L1075.7,736.9 L1077.0,736.9 L1078.3,737.0 L1079.5,737.0 L1080.8,737.0 L1082.1,737.1 L1083.3,737.1 L1084.6,737.1 L1085.9,737.1 L1087.1,737.2 L1088.4,737.2 L1089.7,737.2 L1090.9,737.2 L1092.2,737.3 L1093.5,737.3 L1094.7,737.3 L1096.0,737.3 L1097.3,737.3 L1098.5,737.4 L1099.8,737.4 L1101.1,737.4 L1102.3,737.4 L1103.6,737.4 L1104.9,737.4 L1106.1,737.4 L1107.4,737.4 L1108.7,737.4 L1109.9,737.4 L1111.2,737.5 L1112.5,737.5 L1113.7,737.5 L1115.0,737.5 L1116.3,737.5 L1117.5,737.5 L1118.8,737.5 L1120.1,737.5 L1121.3,737.5 L1122.6,737.5 L1123.9,737.5 L1125.1,737.5 L1126.4,737.4 L1127.7,737.4 L1128.9,737.4 L1130.2,737.4 L1131.5,737.4 L1132.7,737.4 L1134.0,737.4 L1135.3,737.4 L1136.6,737.4 L1137.8,737.4 L1139.1,737.4 L1140.4,737.3 L1141.6,737.3 L1142.9,737.3 L1144.2,737.3 L1145.4,737.3 L1146.7,737.3 L1148.0,737.2 L1149.2,737.2 L1150.5,737.2 L1151.8,737.2 L1153.0,737.2 L1154.3,737.2 L1155.6,737.1 L1156.8,737.1 L1158.1,737.1 L1159.4,737.1 L1160.6,737.0 L1161.9,737.0 L1163.2,737.0 L1164.4,737.0 L1165.7,736.9 L1167.0,736.9 L1168.2,736.9 L1169.5,736.8 L1170.8,736.8 L1172.0,736.8 L1173.3,736.8 L1174.6,736.7 L1175.8,736.7 L1177.1,736.7 L1178.4,736.6 L1179.6,736.6 L1180.9,736.6 L1182.2,736.5 L1183.4,736.5 L1184.7,736.4 L1186.0,736.4 L1187.2,736.4 L1188.5,736.3 L1189.8,736.3 L1191.0,736.2 L1192.3,736.2 L1193.6,736.2 L1194.8,736.1 L1196.1,736.1 L1197.4,736.0 L1198.6,736.0 L1199.9,735.9 L1201.2,735.9 L1202.4,735.9 L1203.7,735.8 L1205.0,735.8 L1206.2,735.7 L1207.5,735.7 L1208.8,735.6 L1210.0,735.6 L1211.3,735.5 L1212.6,735.4 L1213.8,735.4 L1215.1,735.3 L1216.4,735.3 L1217.7,735.2 L1218.9,735.2 L1220.2,735.1 L1221.5,735.1 L1222.7,735.0 L1224.0,734.9 L1225.3,734.9 L1226.5,734.8 L1227.8,734.8 L1229.1,734.7 L1230.3,734.6 L1231.6,734.6 L1232.9,734.5 L1234.1,734.4 L1235.4,734.4 L1236.7,734.3 L1237.9,734.2 L1239.2,734.2 L1240.5,734.1 L1241.7,734.0 L1243.0,733.9 L1244.3,733.9 L1245.5,733.8 L1246.8,733.7 L1248.1,733.6 L1249.3,733.6 L1250.6,733.5 L1251.9,733.4 L1253.1,733.3 L1254.4,733.2 L1255.7,733.1 L1256.9,733.1 L1258.2,733.0 L1259.5,732.9 L1260.7,732.8 L1262.0,732.7 L1263.3,732.6 L1264.5,732.5 L1265.8,732.4 L1267.1,732.3 L1268.3,732.2 L1269.6,732.1 L1270.9,732.0 L1272.1,731.9 L1273.4,731.8 L1274.7,731.7 L1275.9,731.6 L1277.2,731.5 L1278.5,731.4 L1279.7,731.3 L1281.0,731.2 L1282.3,731.1 L1283.5,731.0 L1284.8,730.9 L1286.1,730.8 L1287.3,730.6 L1288.6,730.5 L1289.9,730.4 L1291.1,730.2 L1292.4,730.0 L1293.7,729.8 L1295.0,729.7 L1296.2,729.5 L1297.5,729.3 L1298.8,729.0 L1300.0,728.8 L1301.3,728.5 L1302.6,728.3 L1303.8,728.0 L1305.1,727.7 L1306.4,727.4 L1307.6,727.1 L1308.9,726.8 L1310.2,726.5 L1311.4,726.2 L1312.7,725.9 L1314.0,725.6 L1315.2,725.3 L1316.5,724.9 L1317.8,724.6 L1319.0,724.3 L1320.3,723.9 L1321.6,723.6 L1322.8,723.2 L1324.1,722.9 L1325.4,722.5 L1326.6,722.1 L1327.9,721.7 L1329.2,721.3 L1330.4,720.9 L1331.7,720.5 L1333.0,720.1 L1334.2,719.7 L1335.5,719.7 L1336.8,719.7 L1338.0,719.7 L1339.3,719.7 L1340.6,719.7 L1341.8,719.7 L1343.1,719.7 L1344.4,719.7 L1345.6,719.7 L1346.9,719.7 L1348.2,719.7 L1349.4,719.7 L1350.7,719.7 L1352.0,719.7 L1353.2,719.7 L1354.5,719.4 L1355.8,719.1 L1357.0,718.7 L1358.3,718.3 L1359.6,717.9 L1360.8,717.5 L1362.1,717.1 L1363.4,716.7 L1364.6,716.3 L1365.9,715.9 L1367.2,715.5 L1368.4,715.1 L1369.7,714.7 L1371.0,714.3 L1372.2,713.8 L1373.5,713.4 L1374.8,713.0 L1376.1,712.5 L1377.3,712.1 L1378.6,711.6 L1379.9,711.2 L1381.1,710.7 L1382.4,710.2 L1383.7,709.7 L1384.9,709.2 L1386.2,708.7 L1387.5,708.2 L1388.7,707.7 L1390.0,707.2 L1391.3,706.7 L1392.5,706.1 L1393.8,705.6 L1395.1,705.0 L1396.3,704.5 L1397.6,703.9 L1398.9,703.3 L1400.1,702.7 L1401.4,702.1 L1402.7,701.5 L1403.9,700.8 L1405.2,700.2 L1406.5,699.5 L1407.7,698.9 L1409.0,698.2 L1410.3,697.5 L1411.5,696.8 L1412.8,696.1 L1414.1,695.3 L1415.3,694.6 L1416.6,693.8 L1417.9,693.0 L1419.1,692.2 L1420.4,691.4 L1421.7,690.5 L1422.9,689.7 L1424.2,688.8 L1425.5,687.9 L1426.7,687.0 L1428.0,686.0 L1429.3,685.0 L1430.5,684.0 L1431.8,683.0 L1433.1,682.0 L1434.3,680.9 L1435.6,679.8 L1436.9,678.7 L1438.1,677.5 L1439.4,676.4 L1440.7,675.2 L1441.9,673.9 L1443.2,672.6 L1444.5,671.3 L1445.7,670.0 L1447.0,668.6 L1448.3,667.2 L1449.5,665.7 L1450.8,664.2 L1452.1,662.7 L1453.4,661.1 L1454.6,659.4 L1455.9,657.7 L1457.2,656.0 L1458.4,654.2 L1459.7,652.4 L1461.0,650.5 L1462.2,648.6 L1463.5,646.6 L1464.8,644.5 L1466.0,642.4 L1467.3,640.2 L1468.6,638.0 L1469.8,635.7 L1471.1,633.3 L1472.4,630.8 L1473.6,628.3 L1474.9,625.7 L1476.2,623.0 L1477.4,620.3 L1478.7,617.4 L1480.0,614.5 L1481.2,611.5 L1482.5,608.4 L1483.8,605.2 L1485.0,601.9 L1486.3,598.6 L1487.6,595.1 L1488.8,591.6 L1490.1,587.9 L1491.4,584.2 L1492.6,580.3 L1493.9,576.4 L1495.2,572.4 L1496.4,568.3 L1497.7,564.1 L1499.0,559.8 L1500.2,555.4 L1501.5,550.9 L1502.8,546.4 L1504.0,541.7 L1505.3,537.0 L1506.6,532.3 L1507.8,527.5 L1509.1,522.6 L1510.4,517.7 L1511.6,512.8 L1512.9,507.8 L1514.2,502.8 L1515.4,497.9 L1516.7,492.9 L1518.0,488.0 L1519.2,483.1 L1520.5,478.3 L1521.8,473.5 L1523.0,468.9 L1524.3,464.3 L1525.6,459.8 L1526.8,455.4 L1528.1,451.1 L1529.4,447.0 L1530.6,443.1 L1531.9,439.3 L1533.2,435.6 L1534.5,432.1 L1535.7,428.8 L1537.0,425.7 L1538.3,422.8 L1539.5,420.0 L1540.8,417.4 L1542.1,415.1 L1543.3,412.9 L1544.6,410.9 L1545.9,409.1 L1547.1,407.5 L1548.4,406.2 L1549.7,405.1 L1550.9,404.4 L1552.2,404.0 L1553.5,404.6 L1554.7,405.6 L1556.0,407.0 L1557.3,408.5 L1558.5,410.3 L1559.8,412.3 L1561.1,414.4 L1562.3,416.8 L1563.6,419.2 L1564.9,421.9 L1566.1,424.6 L1567.4,427.4 L1568.7,430.3 L1569.9,433.4 L1571.2,436.6 L1572.5,439.9 L1573.7,443.4 L1575.0,447.0 L1576.3,450.7 L1577.5,454.6 L1578.8,458.5 L1580.1,462.5 L1581.3,466.7 L1582.6,470.9 L1583.9,475.1 L1585.1,479.4 L1586.4,483.8 L1587.7,488.2 L1588.9,492.6 L1590.2,497.1 L1591.5,501.5 L1592.7,506.0 L1594.0,510.4 L1595.3,514.8 L1596.5,519.2 L1597.8,523.6 L1599.1,527.9 L1600.3,532.2 L1601.6,536.5 L1602.9,540.6 L1604.1,544.8 L1605.4,548.8 L1606.7,552.8 L1607.9,556.7 L1609.2,560.6 L1610.5,564.4 L1611.8,568.1 L1613.0,571.7 L1614.3,575.3 L1615.6,578.8 L1616.8,582.2 L1618.1,585.5 L1619.4,588.8 L1620.6,592.0 L1621.9,595.1 L1623.2,598.1 L1624.4,601.1 L1625.7,604.0 L1627.0,606.8 L1628.2,609.5 L1629.5,612.2 L1630.8,614.8 L1632.0,617.4 L1633.3,619.9 L1634.6,622.3 L1635.8,624.7 L1637.1,627.0 L1638.4,629.3 L1639.6,631.5 L1640.9,633.6 L1642.2,635.7 L1643.4,637.7 L1644.7,639.7 L1646.0,641.7 L1647.2,643.6 L1648.5,645.4 L1649.8,647.2 L1651.0,649.0 L1652.3,650.7 L1653.6,652.4 L1654.8,654.0 L1656.1,655.6 L1657.4,657.2 L1658.6,658.7 L1659.9,660.2 L1661.2,661.6 L1662.4,663.0 L1663.7,664.4 L1665.0,665.8 L1666.2,667.1 L1667.5,668.4 L1668.8,669.7 L1670.0,670.9 L1671.3,672.1 L1672.6,673.3 L1673.8,674.5 L1675.1,675.6 L1676.4,676.7 L1677.6,677.8 L1678.9,678.9 L1680.2,679.9 L1681.4,680.9 L1682.7,681.9 L1684.0,682.9 L1685.2,683.9 L1686.5,684.8 L1687.8,685.7 L1689.0,686.6 L1690.3,687.5 L1691.6,688.4 L1692.9,689.2 L1694.1,690.0 L1695.4,690.8 L1696.7,691.6 L1697.9,692.4 L1699.2,693.2 L1700.5,693.9 L1701.7,694.7 L1703.0,695.4 L1704.3,696.1 L1705.5,696.8 L1706.8,697.4 L1708.1,698.1 L1709.3,698.8 L1710.6,699.4 L1711.9,700.0 L1713.1,700.6 L1714.4,701.2 L1715.7,701.8 L1716.9,702.4 L1718.2,703.0 L1719.5,703.5 L1720.7,704.1 L1722.0,704.6 L1723.3,705.1 L1724.5,705.6 L1725.8,706.2 L1727.1,706.6 L1728.3,707.1 L1729.6,707.6 L1730.9,708.1 L1732.1,708.5 L1733.4,709.0 L1734.7,709.4 L1735.9,709.9 L1737.2,710.3 L1738.5,710.7 L1739.7,711.1 L1741.0,711.5 L1742.3,711.9 L1743.5,712.3 L1744.8,712.6 L1746.1,713.0 L1747.3,713.4 L1748.6,713.7 L1749.9,714.1 L1751.1,714.4 L1752.4,714.7 L1753.7,715.1 L1754.9,715.4 L1756.2,715.7 L1757.5,716.0 L1758.7,716.3 L1760.0,716.6 L1761.3,716.9 L1762.5,717.1 L1763.8,717.4 L1765.1,717.7 L1766.3,717.9 L1767.6,718.2 L1768.9,718.5 L1770.2,718.7 L1771.4,718.9 L1772.7,719.2 L1774.0,719.4 L1775.2,719.6 L1776.5,719.8 L1777.8,720.1 L1779.0,720.3 L1780.3,720.5 L1781.6,720.7 L1782.8,720.9 L1784.1,721.1 L1785.4,721.3 L1786.6,721.4 L1787.9,721.6 L1789.2,721.8 L1790.4,722.0 L1791.7,722.1 L1793.0,722.3 L1794.2,722.4 L1795.5,722.6 L1796.8,722.7 L1798.0,722.9 L1799.3,723.0 L1800.6,723.2 L1801.8,723.3 L1803.1,723.4 L1804.4,723.6 L1805.6,723.7 L1806.9,723.8 L1808.2,723.9 L1809.4,724.1 L1810.7,724.2 L1812.0,724.3 L1813.2,724.4 L1814.5,724.5 L1815.8,724.6 L1817.0,724.7 L1818.3,724.8 L1819.6,724.9 L1820.8,725.0 L1822.1,725.1 L1823.4,725.2 L1824.6,725.3 L1825.9,725.4 L1827.2,725.5 L1828.4,725.5 L1829.7,725.6 L1831.0,725.7 L1832.2,725.8 L1833.5,725.9 L1834.8,725.9 L1836.0,726.0 L1837.3,726.1 L1838.6,726.2 L1839.8,726.2 L1841.1,726.3 L1842.4,726.4 L1843.6,726.5 L1844.9,726.5 L1846.2,726.6 L1847.4,726.7 L1848.7,726.7 L1850.0,726.8 L1851.3,726.9 L1852.5,726.9 L1853.8,727.0 L1855.1,727.1 L1856.3,727.1 L1857.6,727.2 L1858.9,727.3 L1860.1,727.3 L1861.4,727.4 L1862.7,727.5 L1863.9,727.6 L1865.2,727.6 L1866.5,727.7 L1867.7,727.8 L1869.0,727.9 L1870.3,727.9 L1871.5,728.0 L1872.8,728.1 L1874.1,728.2 L1875.3,728.3 L1876.6,728.3 L1877.9,728.4 L1879.1,728.5 L1880.4,728.6 L1881.7,728.7 L1882.9,728.8 L1884.2,728.9 L1885.5,729.0 L1886.7,729.1 L1888.0,729.2 L1892.0,729.2"/></g>
<g clip-path="url(#c2)"><path stroke="#0000ff" d="M298.0,1092.0 L304.0,1092.0 L305.3,1092.0 L306.5,1092.0 L307.8,1092.0 L309.1,1092.0 L310.3,1092.1 L311.6,1092.1 L312.9,1092.1 L314.1,1092.1 L315.4,1092.1 L316.7,1092.1 L317.9,1092.1 L319.2,1092.1 L320.5,1092.1 L321.7,1092.1 L323.0,1092.1 L324.3,1092.1 L325.5,1092.1 L326.8,1092.1 L328.1,1092.1 L329.3,1092.1 L330.6,1092.1 L331.9,1092.1 L333.1,1092.1 L334.4,1092.1 L335.7,1092.1 L336.9,1092.1 L338.2,1092.1 L339.5,1092.1 L340.7,1092.1 L342.0,1092.1 L343.3,1092.1 L344.6,1092.1 L345.8,1092.1 L347.1,1092.1 L348.4,1092.1 L349.6,1092.1 L350.9,1092.1 L352.2,1092.1 L353.4,1092.1 L354.7,1092.1 L356.0,1092.1 L357.2,1092.1 L358.5,1092.1 L359.8,1092.1 L361.0,1092.1 L362.3,1092.1 L363.6,1092.1 L364.8,1092.1 L366.1,1092.1 L367.4,1092.1 L368.6,1092.1 L369.9,1092.1 L371.2,1092.1 L372.4,1092.1 L373.7,1092.1 L375.0,1092.1 L376.2,1092.1 L377.5,1092.1 L378.8,1092.1 L380.0,1092.1 L381.3,1092.1 L382.6,1092.1 L383.8,1092.1 L385.1,1092.1 L386.4,1092.1 L387.6,1092.1 L388.9,1092.1 L390.2,1092.1 L391.4,1092.1 L392.7,1092.1 L394.0,1092.1 L395.2,1092.1 L396.5,1092.1 L397.8,1092.1 L399.0,1092.1 L400.3,1092.1 L401.6,1092.1 L402.8,1092.1 L404.1,1092.1 L405.4,1092.1 L406.6,1092.1 L407.9,1092.1 L409.2,1092.1 L410.4,1092.1 L411.7,1092.1 L413.0,1092.1 L414.2,1092.1 L415.5,1092.1 L416.8,1092.1 L418.0,1092.1 L419.3,1092.1 L420.6,1092.1 L421.8,1092.1 L423.1,1092.1 L424.4,1092.1 L425.7,1092.1 L426.9,1092.1 L428.2,1092.1 L429.5,1092.1 L430.7,1092.1 L432.0,1092.1 L433.3,1092.1 L434.5,1092.1 L435.8,1092.1 L437.1,1092.1 L438.3,1092.1 L439.6,1092.1 L440.9,1092.1 L442.1,1092.1 L443.4,1092.1 L444.7,1092.1 L445.9,1092.1 L447.2,1092.1 L448.5,1092.1 L449.7,1092.1 L451.0,1092.1 L452.3,1092.0 L453.5,1092.0 L454.8,1092.0 L456.1,1092.0 L457.3,1092.0 L458.6,1092.0 L459.9,1092.0 L461.1,1092.0 L462.4,1092.0 L463.7,1092.0 L464.9,1092.0 L466.2,1092.0 L467.5,1092.0 L468.7,1092.0 L470.0,1092.0 L471.3,1092.0 L472.5,1092.0 L473.8,1092.0 L475.1,1092.0 L476.3,1092.0 L477.6,1092.0 L478.9,1092.0 L480.1,1092.0 L481.4,1092.0 L482.7,1092.0 L483.9,1092.0 L485.2,1092.0 L486.5,1092.0 L487.7,1091.9 L489.0,1091.9 L490.3,1091.9 L491.5,1091.9 L492.8,1091.9 L494.1,1091.9 L495.3,1091.9 L496.6,1091.9 L497.9,1091.9 L499.1,1091.9 L500.4,1091.9 L501.7,1091.9 L503.0,1091.9 L504.2,1091.9 L505.5,1091.9 L506.8,1091.9 L508.0,1091.9 L509.3,1091.8 L510.6,1091.8 L511.8,1091.8 L513.1,1091.8 L514.4,1091.8 L515.6,1091.8 L516.9,1091.8 L518.2,1091.8 L519.4,1091.8 L520.7,1091.8 L522.0,1091.8 L523.2,1091.8 L524.5,1091.8 L525.8,1091.8 L527.0,1091.7 L528.3,1091.7 L529.6,1091.7 L530.8,1091.7 L532.1,1091.7 L533.4,1091.7 L534.6,1091.7 L535.9,1091.7 L537.2,1091.7 L538.4,1091.7 L539.7,1091.7 L541.0,1091.6 L542.2,1091.6 L543.5,1091.6 L544.8,1091.6 L546.0,1091.6 L547.3,1091.6 L548.6,1091.6 L549.8,1091.6 L551.1,1091.6 L552.4,1091.6 L553.6,1091.5 L554.9,1091.5 L556.2,1091.5 L557.4,1091.5 L558.7,1091.5 L560.0,1091.5 L561.2,1091.5 L562.5,1091.5 L563.8,1091.4 L565.0,1091.4 L566.3,1091.4 L567.6,1091.4 L568.8,1091.4 L570.1,1091.4 L571.4,1091.4 L572.6,1091.3 L573.9,1091.3 L575.2,1091.3 L576.4,1091.3 L577.7,1091.3 L579.0,1091.3 L580.2,1091.3 L581.5,1091.2 L582.8,1091.2 L584.1,1091.2 L585.3,1091.2 L586.6,1091.2 L587.9,1091.1 L589.1,1091.1 L590.4,1091.1 L591.7,1091.1 L592.9,1091.1 L594.2,1091.1 L595.5,1091.0 L596.7,1091.0 L598.0,1091.0 L599.3,1091.0 L600.5,1091.0 L601.8,1090.9 L603.1,1090.9 L604.3,1090.9 L605.6,1090.9 L606.9,1090.8 L608.1,1090.8 L609.4,1090.8 L610.7,1090.8 L611.9,1090.8 L613.2,1090.7 L614.5,1090.7 L615.7,1090.7 L617.0,1090.7 L618.3,1090.6 L619.5,1090.6 L620.8,1090.6 L622.1,1090.6 L623.3,1090.5 L624.6,1090.5 L625.9,1090.5 L627.1,1090.4 L628.4,1090.4 L629.7,1090.4 L630.9,1090.3 L632.2,1090.3 L633.5,1090.3 L634.7,1090.3 L636.0,1090.2 L637.3,1090.2 L638.5,1090.2 L639.8,1090.1 L641.1,1090.1 L642.3,1090.0 L643.6,1090.0 L644.9,1090.0 L646.1,1089.9 L647.4,1089.9 L648.7,1089.9 L649.9,1089.8 L651.2,1089.8 L652.5,1089.7 L653.7,1089.7 L655.0,1089.7 L656.3,1089.6 L657.5,1089.6 L658.8,1089.5 L660.1,1089.5 L661.4,1089.4 L662.6,1089.4 L663.9,1089.3 L665.2,1089.3 L666.4,1089.2 L667.7,1089.2 L669.0,1089.1 L670.2,1089.1 L671.5,1089.0 L672.8,1089.0 L674.0,1088.9 L675.3,1088.9 L676.6,1088.8 L677.8,1088.7 L679.1,1088.7 L680.4,1088.6 L681.6,1088.6 L682.9,1088.5 L684.2,1088.4 L685.4,1088.4 L686.7,1088.3 L688.0,1088.2 L689.2,1088.1 L690.5,1088.1 L691.8,1088.0 L693.0,1087.9 L694.3,1087.8 L695.6,1087.8 L696.8,1087.7 L698.1,1087.6 L699.4,1087.5 L700.6,1087.4 L701.9,1087.3 L703.2,1087.3 L704.4,1087.2 L705.7,1087.1 L707.0,1087.0 L708.2,1086.9 L709.5,1086.8 L710.8,1086.7 L712.0,1086.6 L713.3,1086.5 L714.6,1086.3 L715.8,1086.2 L717.1,1086.1 L718.4,1086.0 L719.6,1085.9 L720.9,1085.7 L722.2,1085.6 L723.4,1085.5 L724.7,1085.4 L726.0,1085.2 L727.2,1085.1 L728.5,1084.9 L729.8,1084.8 L731.0,1084.6 L732.3,1084.5 L733.6,1084.3 L734.8,1084.1 L736.1,1084.0 L737.4,1083.8 L738.6,1083.6 L739.9,1083.4 L741.2,1083.2 L742.5,1083.1 L743.7,1082.9 L745.0,1082.6 L746.3,1082.4 L747.5,1082.2 L748.8,1082.0 L750.1,1081.8 L751.3,1081.5 L752.6,1081.3 L753.9,1081.0 L755.1,1080.8 L756.4,1080.5 L757.7,1080.2 L758.9,1079.9 L760.2,1079.6 L761.5,1079.3 L762.7,1079.0 L764.0,1078.7 L765.3,1078.4 L766.5,1078.0 L767.8,1077.7 L769.1,1077.3 L770.3,1076.9 L771.6,1076.5 L772.9,1076.1 L774.1,1075.7 L775.4,1075.2 L776.7,1074.8 L777.9,1074.3 L779.2,1073.8 L780.5,1073.3 L781.7,1072.7 L783.0,1072.2 L784.3,1071.6 L785.5,1071.0 L786.8,1070.4 L788.1,1069.8 L789.3,1069.1 L790.6,1068.4 L791.9,1067.6 L793.1,1066.8 L794.4,1066.0 L795.7,1065.1 L796.9,1064.2 L798.2,1063.2 L799.5,1062.2 L800.7,1061.1 L802.0,1060.0 L803.3,1058.9 L804.5,1057.6 L805.8,1056.3 L807.1,1055.0 L808.3,1053.6 L809.6,1052.1 L810.9,1050.5 L812.1,1048.9 L813.4,1047.2 L814.7,1045.4 L815.9,1043.5 L817.2,1041.5 L818.5,1039.4 L819.8,1037.2 L821.0,1034.9 L822.3,1032.5 L823.6,1029.9 L824.8,1027.1 L826.1,1024.3 L827.4,1021.2 L828.6,1018.0 L829.9,1014.5 L831.2,1010.9 L832.4,1007.0 L833.7,1002.8 L835.0,998.4 L836.2,993.6 L837.5,988.6 L838.8,983.2 L840.0,977.5 L841.3,971.3 L842.6,964.7 L843.8,957.7 L845.1,950.3 L846.4,942.3 L847.6,933.9 L848.9,924.9 L850.2,915.4 L851.4,905.3 L852.7,894.8 L854.0,883.7 L855.2,872.1 L856.5,860.2 L857.8,847.9 L859.0,835.5 L860.3,823.0 L861.6,810.6 L862.8,798.6 L864.1,787.1 L865.4,776.6 L866.6,767.2 L867.9,759.3 L869.2,753.0 L870.4,748.7 L871.7,746.5 L873.0,746.7 L874.2,749.4 L875.5,754.1 L876.8,760.5 L878.0,768.3 L879.3,777.2 L880.6,787.0 L881.8,797.4 L883.1,808.2 L884.4,819.2 L885.6,830.3 L886.9,841.4 L888.2,852.2 L889.4,862.9 L890.7,873.2 L892.0,883.1 L893.2,892.7 L894.5,901.8 L895.8,910.6 L897.0,918.9 L898.3,926.8 L899.6,934.2 L900.9,941.3 L902.1,948.0 L903.4,954.4 L904.7,960.4 L905.9,966.0 L907.2,971.4 L908.5,976.4 L909.7,981.2 L911.0,985.7 L912.3,990.0 L913.5,994.0 L914.8,997.8 L916.1,1001.4 L917.3,1004.8 L918.6,1008.1 L919.9,1011.1 L921.1,1014.0 L922.4,1016.8 L923.7,1019.4 L924.9,1021.9 L926.2,1024.3 L927.5,1026.6 L928.7,1028.8 L930.0,1030.9 L931.3,1032.9 L932.5,1034.8 L933.8,1036.6 L935.1,1038.4 L936.3,1040.1 L937.6,1041.7 L938.9,1043.2 L940.1,1044.7 L941.4,1046.2 L942.7,1047.5 L943.9,1048.9 L945.2,1050.1 L946.5,1051.3 L947.7,1052.5 L949.0,1053.6 L950.3,1054.7 L951.5,1055.7 L952.8,1056.7 L954.1,1057.6 L955.3,1058.5 L956.6,1059.3 L957.9,1060.1 L959.1,1060.9 L960.4,1061.6 L961.7,1062.3 L962.9,1063.0 L964.2,1063.7 L965.5,1064.3 L966.7,1064.9 L968.0,1065.5 L969.3,1066.0 L970.5,1066.6 L971.8,1067.1 L973.1,1067.6 L974.3,1068.1 L975.6,1068.6 L976.9,1069.0 L978.2,1069.5 L979.4,1069.9 L980.7,1070.3 L982.0,1070.7 L983.2,1071.1 L984.5,1071.5 L985.8,1071.8 L987.0,1072.2 L988.3,1072.5 L989.6,1072.9 L990.8,1073.2 L992.1,1073.5 L993.4,1073.8 L994.6,1074.1 L995.9,1074.4 L997.2,1074.6 L998.4,1074.9 L999.7,1075.1 L1001.0,1075.4 L1002.2,1075.6 L1003.5,1075.9 L1004.8,1076.1 L1006.0,1076.3 L1007.3,1076.5 L1008.6,1076.7 L1009.8,1076.9 L1011.1,1077.1 L1012.4,1077.3 L1013.6,1077.5 L1014.9,1077.7 L1016.2,1077.8 L1017.4,1078.0 L1018.7,1078.2 L1020.0,1078.3 L1021.2,1078.5 L1022.5,1078.6 L1023.8,1078.8 L1025.0,1078.9 L1026.3,1079.1 L1027.6,1079.2 L1028.8,1079.3 L1030.1,1079.4 L1031.4,1079.6 L1032.6,1079.7 L1033.9,1079.8 L1035.2,1079.9 L1036.4,1080.0 L1037.7,1080.1 L1039.0,1080.2 L1040.2,1080.3 L1041.5,1080.4 L1042.8,1080.5 L1044.0,1080.6 L1045.3,1080.7 L1046.6,1080.7 L1047.8,1080.8 L1049.1,1080.9 L1050.4,1081.0 L1051.6,1081.0 L1052.9,1081.1 L1054.2,1081.2 L1055.4,1081.2 L1056.7,1081.3 L1058.0,1081.4 L1059.3,1081.4 L1060.5,1081.5 L1061.8,1081.5 L1063.1,1081.6 L1064.3,1081.6 L1065.6,1081.7 L1066.9,1081.7 L1068.1,1081.8 L1069.4,1081.8 L1070.7,1081.9 L1071.9,1081.9 L1073.2,1081.9 L1074.5,1082.0 L1075.7,1082.0 L1077.0,1082.0 L1078.3,1082.1 L1079.5,1082.1 L1080.8,1082.1 L1082.1,1082.1 L1083.3,1082.2 L1084.6,1082.2 L1085.9,1082.2 L1087.1,1082.2 L1088.4,1082.2 L1089.7,1082.3 L1090.9,1082.3 L1092.2,1082.3 L1093.5,1082.3 L1094.7,1082.3 L1096.0,1082.3 L1097.3,1082.3 L1098.5,1082.4 L1099.8,1082.4 L1101.1,1082.4 L1102.3,1082.4 L1103.6,1082.4 L1104.9,1082.4 L1106.1,1082.4 L1107.4,1082.4 L1108.7,1082.4 L1109.9,1082.4 L1111.2,1082.4 L1112.5,1082.4 L1113.7,1082.4 L1115.0,1082.4 L1116.3,1082.4 L1117.5,1082.3 L1118.8,1082.3 L1120.1,1082.3 L1121.3,1082.3 L1122.6,1082.3 L1123.9,1082.3 L1125.1,1082.3 L1126.4,1082.3 L1127.7,1082.3 L1128.9,1082.2 L1130.2,1082.2 L1131.5,1082.2 L1132.7,1082.2 L1134.0,1082.2 L1135.3,1082.1 L1136.6,1082.1 L1137.8,1082.1 L1139.1,1082.1 L1140.4,1082.1 L1141.6,1082.0 L1142.9,1082.0 L1144.2,1082.0 L1145.4,1082.0 L1146.7,1081.9 L1148.0,1081.9 L1149.2,1081.9 L1150.5,1081.8 L1151.8,1081.8 L1153.0,1081.8 L1154.3,1081.7 L1155.6,1081.7 L1156.8,1081.7 L1158.1,1081.6 L1159.4,1081.6 L1160.6,1081.6 L1161.9,1081.5 L1163.2,1081.5 L1164.4,1081.5 L1165.7,1081.4 L1167.0,1081.4 L1168.2,1081.3 L1169.5,1081.3 L1170.8,1081.3 L1172.0,1081.2 L1173.3,1081.2 L1174.6,1081.1 L1175.8,1081.1 L1177.1,1081.0 L1178.4,1081.0 L1179.6,1080.9 L1180.9,1080.9 L1182.2,1080.8 L1183.4,1080.8 L1184.7,1080.7 L1186.0,1080.7 L1187.2,1080.6 L1188.5,1080.6 L1189.8,1080.5 L1191.0,1080.5 L1192.3,1080.4 L1193.6,1080.4 L1194.8,1080.3 L1196.1,1080.3 L1197.4,1080.2 L1198.6,1080.1 L1199.9,1080.1 L1201.2,1080.0 L1202.4,1080.0 L1203.7,1079.9 L1205.0,1079.8 L1206.2,1079.8 L1207.5,1079.7 L1208.8,1079.6 L1210.0,1079.6 L1211.3,1079.5 L1212.6,1079.4 L1213.8,1079.4 L1215.1,1079.3 L1216.4,1079.2 L1217.7,1079.2 L1218.9,1079.1 L1220.2,1079.0 L1221.5,1078.9 L1222.7,1078.9 L1224.0,1078.8 L1225.3,1078.7 L1226.5,1078.6 L1227.8,1078.6 L1229.1,1078.5 L1230.3,1078.4 L1231.6,1078.3 L1232.9,1078.2 L1234.1,1078.1 L1235.4,1078.1 L1236.7,1078.0 L1237.9,1077.9 L1239.2,1077.8 L1240.5,1077.7 L1241.7,1077.6 L1243.0,1077.5 L1244.3,1077.4 L1245.5,1077.3 L1246.8,1077.2 L1248.1,1077.2 L1249.3,1077.1 L1250.6,1077.0 L1251.9,1076.9 L1253.1,1076.8 L1254.4,1076.7 L1255.7,1076.5 L1256.9,1076.4 L1258.2,1076.3 L1259.5,1076.2 L1260.7,1076.1 L1262.0,1076.0 L1263.3,1075.9 L1264.5,1075.8 L1265.8,1075.7 L1267.1,1075.5 L1268.3,1075.4 L1269.6,1075.3 L1270.9,1075.2 L1272.1,1075.1 L1273.4,1074.9 L1274.7,1074.8 L1275.9,1074.7 L1277.2,1074.5 L1278.5,1074.4 L1279.7,1074.3 L1281.0,1074.1 L1282.3,1074.0 L1283.5,1073.9 L1284.8,1073.7 L1286.1,1073.6 L1287.3,1073.4 L1288.6,1073.3 L1289.9,1073.1 L1291.1,1072.9 L1292.4,1072.8 L1293.7,1072.6 L1295.0,1072.4 L1296.2,1072.2 L1297.5,1072.0 L1298.8,1071.8 L1300.0,1071.5 L1301.3,1071.2 L1302.6,1070.9 L1303.8,1070.6 L1305.1,1070.2 L1306.4,1069.9 L1307.6,1069.5 L1308.9,1069.1 L1310.2,1068.8 L1311.4,1068.4 L1312.7,1068.0 L1314.0,1067.6 L1315.2,1067.2 L1316.5,1066.7 L1317.8,1066.3 L1319.0,1065.8 L1320.3,1065.4 L1321.6,1064.9 L1322.8,1064.4 L1324.1,1063.9 L1325.4,1063.4 L1326.6,1062.9 L1327.9,1062.4 L1329.2,1061.9 L1330.4,1061.3 L1331.7,1060.8 L1333.0,1060.2 L1334.2,1059.7 L1335.5,1059.7 L1336.8,1059.7 L1338.0,1059.7 L1339.3,1059.7 L1340.6,1059.7 L1341.8,1059.7 L1343.1,1059.7 L1344.4,1059.7 L1345.6,1059.7 L1346.9,1059.7 L1348.2,1059.7 L1349.4,1059.7 L1350.7,1059.7 L1352.0,1059.7 L1353.2,1059.7 L1354.5,1059.3 L1355.8,1058.8 L1357.0,1058.4 L1358.3,1057.9 L1359.6,1057.5 L1360.8,1057.0 L1362.1,1056.5 L1363.4,1056.0 L1364.6,1055.5 L1365.9,1055.0 L1367.2,1054.5 L1368.4,1054.0 L1369.7,1053.4 L1371.0,1052.9 L1372.2,1052.3 L1373.5,1051.8 L1374.8,1051.2 L1376.1,1050.6 L1377.3,1050.0 L1378.6,1049.4 L1379.9,1048.7 L1381.1,1048.1 L1382.4,1047.4 L1383.7,1046.8 L1384.9,1046.1 L1386.2,1045.4 L1387.5,1044.7 L1388.7,1043.9 L1390.0,1043.2 L1391.3,1042.4 L1392.5,1041.7 L1393.8,1040.9 L1395.1,1040.1 L1396.3,1039.2 L1397.6,1038.4 L1398.9,1037.5 L1400.1,1036.6 L1401.4,1035.7 L1402.7,1034.8 L1403.9,1033.9 L1405.2,1032.9 L1406.5,1031.9 L1407.7,1030.9 L1409.0,1029.8 L1410.3,1028.8 L1411.5,1027.7 L1412.8,1026.6 L1414.1,1025.4 L1415.3,1024.2 L1416.6,1023.0 L1417.9,1021.8 L1419.1,1020.5 L1420.4,1019.3 L1421.7,1017.9 L1422.9,1016.6 L1424.2,1015.2 L1425.5,1013.7 L1426.7,1012.3 L1428.0,1010.7 L1429.3,1009.2 L1430.5,1007.6 L1431.8,1006.0 L1433.1,1004.3 L1434.3,1002.6 L1435.6,1000.8 L1436.9,999.0 L1438.1,997.1 L1439.4,995.2 L1440.7,993.2 L1441.9,991.2 L1443.2,989.1 L1444.5,986.9 L1445.7,984.7 L1447.0,982.5 L1448.3,980.1 L1449.5,977.7 L1450.8,975.3 L1452.1,972.8 L1453.4,970.2 L1454.6,967.5 L1455.9,964.7 L1457.2,961.9 L1458.4,959.0 L1459.7,956.1 L1461.0,953.0 L1462.2,949.9 L1463.5,946.7 L1464.8,943.4 L1466.0,940.0 L1467.3,936.5 L1468.6,933.0 L1469.8,929.3 L1471.1,925.6 L1472.4,921.8 L1473.6,917.9 L1474.9,913.9 L1476.2,909.9 L1477.4,905.7 L1478.7,901.5 L1480.0,897.2 L1481.2,892.9 L1482.5,888.4 L1483.8,883.9 L1485.0,879.4 L1486.3,874.8 L1487.6,870.1 L1488.8,865.4 L1490.1,860.7 L1491.4,855.9 L1492.6,851.1 L1493.9,846.3 L1495.2,841.5 L1496.4,836.7 L1497.7,831.9 L1499.0,827.2 L1500.2,822.5 L1501.5,817.8 L1502.8,813.2 L1504.0,808.7 L1505.3,804.2 L1506.6,799.9 L1507.8,795.7 L1509.1,791.5 L1510.4,787.5 L1511.6,783.7 L1512.9,780.0 L1514.2,776.4 L1515.4,773.0 L1516.7,769.8 L1518.0,766.8 L1519.2,763.9 L1520.5,761.2 L1521.8,758.7 L1523.0,756.5 L1524.3,754.5 L1525.6,752.8 L1526.8,751.3 L1528.1,750.2 L1529.4,749.4 L1530.6,749.0 L1531.9,749.4 L1533.2,750.4 L1534.5,751.7 L1535.7,753.2 L1537.0,755.0 L1538.3,757.1 L1539.5,759.4 L1540.8,761.8 L1542.1,764.5 L1543.3,767.3 L1544.6,770.2 L1545.9,773.3 L1547.1,776.6 L1548.4,779.9 L1549.7,783.4 L1550.9,787.0 L1552.2,790.7 L1553.5,794.5 L1554.7,798.4 L1556.0,802.4 L1557.3,806.4 L1558.5,810.6 L1559.8,814.7 L1561.1,819.0 L1562.3,823.2 L1563.6,827.5 L1564.9,831.8 L1566.1,836.2 L1567.4,840.5 L1568.7,844.9 L1569.9,849.2 L1571.2,853.6 L1572.5,857.9 L1573.7,862.2 L1575.0,866.5 L1576.3,870.7 L1577.5,874.9 L1578.8,879.0 L1580.1,883.1 L1581.3,887.2 L1582.6,891.2 L1583.9,895.1 L1585.1,899.0 L1586.4,902.8 L1587.7,906.6 L1588.9,910.3 L1590.2,913.9 L1591.5,917.4 L1592.7,920.9 L1594.0,924.3 L1595.3,927.7 L1596.5,931.0 L1597.8,934.2 L1599.1,937.3 L1600.3,940.4 L1601.6,943.4 L1602.9,946.3 L1604.1,949.1 L1605.4,951.9 L1606.7,954.7 L1607.9,957.3 L1609.2,959.9 L1610.5,962.5 L1611.8,965.0 L1613.0,967.4 L1614.3,969.7 L1615.6,972.0 L1616.8,974.3 L1618.1,976.5 L1619.4,978.6 L1620.6,980.7 L1621.9,982.7 L1623.2,984.7 L1624.4,986.7 L1625.7,988.6 L1627.0,990.4 L1628.2,992.2 L1629.5,994.0 L1630.8,995.7 L1632.0,997.3 L1633.3,999.0 L1634.6,1000.6 L1635.8,1002.1 L1637.1,1003.6 L1638.4,1005.1 L1639.6,1006.6 L1640.9,1008.0 L1642.2,1009.4 L1643.4,1010.7 L1644.7,1012.0 L1646.0,1013.3 L1647.2,1014.6 L1648.5,1015.8 L1649.8,1017.0 L1651.0,1018.1 L1652.3,1019.3 L1653.6,1020.4 L1654.8,1021.5 L1656.1,1022.6 L1657.4,1023.6 L1658.6,1024.6 L1659.9,1025.6 L1661.2,1026.6 L1662.4,1027.6 L1663.7,1028.5 L1665.0,1029.4 L1666.2,1030.3 L1667.5,1031.2 L1668.8,1032.1 L1670.0,1032.9 L1671.3,1033.7 L1672.6,1034.5 L1673.8,1035.3 L1675.1,1036.1 L1676.4,1036.9 L1677.6,1037.6 L1678.9,1038.3 L1680.2,1039.0 L1681.4,1039.7 L1682.7,1040.4 L1684.0,1041.1 L1685.2,1041.7 L1686.5,1042.4 L1687.8,1043.0 L1689.0,1043.6 L1690.3,1044.2 L1691.6,1044.8 L1692.9,1045.4 L1694.1,1046.0 L1695.4,1046.6 L1696.7,1047.1 L1697.9,1047.7 L1699.2,1048.2 L1700.5,1048.7 L1701.7,1049.2 L1703.0,1049.7 L1704.3,1050.2 L1705.5,1050.7 L1706.8,1051.2 L1708.1,1051.6 L1709.3,1052.1 L1710.6,1052.5 L1711.9,1053.0 L1713.1,1053.4 L1714.4,1053.8 L1715.7,1054.2 L1716.9,1054.7 L1718.2,1055.1 L1719.5,1055.4 L1720.7,1055.8 L1722.0,1056.2 L1723.3,1056.6 L1724.5,1057.0 L1725.8,1057.3 L1727.1,1057.7 L1728.3,1058.0 L1729.6,1058.4 L1730.9,1058.7 L1732.1,1059.0 L1733.4,1059.4 L1734.7,1059.7 L1735.9,1060.0 L1737.2,1060.3 L1738.5,1060.6 L1739.7,1060.9 L1741.0,1061.2 L1742.3,1061.5 L1743.5,1061.8 L1744.8,1062.0 L1746.1,1062.3 L1747.3,1062.6 L1748.6,1062.8 L1749.9,1063.1 L1751.1,1063.4 L1752.4,1063.6 L1753.7,1063.9 L1754.9,1064.1 L1756.2,1064.3 L1757.5,1064.6 L1758.7,1064.8 L1760.0,1065.0 L1761.3,1065.2 L1762.5,1065.5 L1763.8,1065.7 L1765.1,1065.9 L1766.3,1066.1 L1767.6,1066.3 L1768.9,1066.5 L1770.2,1066.7 L1771.4,1066.9 L1772.7,1067.1 L1774.0,1067.3 L1775.2,1067.5 L1776.5,1067.6 L1777.8,1067.8 L1779.0,1068.0 L1780.3,1068.2 L1781.6,1068.3 L1782.8,1068.5 L1784.1,1068.7 L1785.4,1068.8 L1786.6,1069.0 L1787.9,1069.1 L1789.2,1069.3 L1790.4,1069.4 L1791.7,1069.6 L1793.0,1069.7 L1794.2,1069.9 L1795.5,1070.0 L1796.8,1070.1 L1798.0,1070.3 L1799.3,1070.4 L1800.6,1070.5 L1801.8,1070.7 L1803.1,1070.8 L1804.4,1070.9 L1805.6,1071.0 L1806.9,1071.2 L1808.2,1071.3 L1809.4,1071.4 L1810.7,1071.5 L1812.0,1071.6 L1813.2,1071.7 L1814.5,1071.8 L1815.8,1072.0 L1817.0,1072.1 L1818.3,1072.2 L1819.6,1072.3 L1820.8,1072.4 L1822.1,1072.5 L1823.4,1072.6 L1824.6,1072.7 L1825.9,1072.7 L1827.2,1072.8 L1828.4,1072.9 L1829.7,1073.0 L1831.0,1073.1 L1832.2,1073.2 L1833.5,1073.3 L1834.8,1073.4 L1836.0,1073.4 L1837.3,1073.5 L1838.6,1073.6 L1839.8,1073.7 L1841.1,1073.8 L1842.4,1073.8 L1843.6,1073.9 L1844.9,1074.0 L1846.2,1074.1 L1847.4,1074.1 L1848.7,1074.2 L1850.0,1074.3 L1851.3,1074.3 L1852.5,1074.4 L1853.8,1074.5 L1855.1,1074.5 L1856.3,1074.6 L1857.6,1074.7 L1858.9,1074.7 L1860.1,1074.8 L1861.4,1074.8 L1862.7,1074.9 L1863.9,1075.0 L1865.2,1075.0 L1866.5,1075.1 L1867.7,1075.1 L1869.0,1075.2 L1870.3,1075.3 L1871.5,1075.3 L1872.8,1075.4 L1874.1,1075.4 L1875.3,1075.5 L1876.6,1075.5 L1877.9,1075.6 L1879.1,1075.6 L1880.4,1075.7 L1881.7,1075.7 L1882.9,1075.8 L1884.2,1075.9 L1885.5,1075.9 L1886.7,1076.0 L1888.0,1076.0 L1892.0,1076.0"/></g>
<g clip-path="url(#c3)"><path stroke="#008000" d="M298.0,1437.2 L304.0,1437.2 L305.3,1437.2 L306.5,1437.2 L307.8,1437.2 L309.1,1437.2 L310.3,1437.2 L311.6,1437.2 L312.9,1437.2 L314.1,1437.2 L315.4,1437.2 L316.7,1437.2 L317.9,1437.2 L319.2,1437.2 L320.5,1437.2 L321.7,1437.2 L323.0,1437.2 L324.3,1437.2 L325.5,1437.2 L326.8,1437.2 L328.1,1437.2 L329.3,1437.2 L330.6,1437.2 L331.9,1437.2 L333.1,1437.2 L334.4,1437.2 L335.7,1437.2 L336.9,1437.2 L338.2,1437.2 L339.5,1437.2 L340.7,1437.2 L342.0,1437.2 L343.3,1437.2 L344.6,1437.2 L345.8,1437.2 L347.1,1437.2 L348.4,1437.2 L349.6,1437.2 L350.9,1437.2 L352.2,1437.2 L353.4,1437.2 L354.7,1437.2 L356.0,1437.2 L357.2,1437.2 L358.5,1437.2 L359.8,1437.2 L361.0,1437.2 L362.3,1437.2 L363.6,1437.2 L364.8,1437.2 L366.1,1437.2 L367.4,1437.2 L368.6,1437.2 L369.9,1437.2 L371.2,1437.2 L372.4,1437.2 L373.7,1437.2 L375.0,1437.2 L376.2,1437.1 L377.5,1437.1 L378.8,1437.1 L380.0,1437.1 L381.3,1437.1 L382.6,1437.1 L383.8,1437.1 L385.1,1437.1 L386.4,1437.1 L387.6,1437.1 L388.9,1437.1 L390.2,1437.1 L391.4,1437.1 L392.7,1437.1 L394.0,1437.1 L395.2,1437.1 L396.5,1437.1 L397.8,1437.1 L399.0,1437.1 L400.3,1437.1 L401.6,1437.1 L402.8,1437.1 L404.1,1437.1 L405.4,1437.1 L406.6,1437.1 L407.9,1437.1 L409.2,1437.1 L410.4,1437.1 L411.7,1437.1 L413.0,1437.1 L414.2,1437.1 L415.5,1437.1 L416.8,1437.1 L418.0,1437.1 L419.3,1437.1 L420.6,1437.1 L421.8,1437.0 L423.1,1437.0 L424.4,1437.0 L425.7,1437.0 L426.9,1437.0 L428.2,1437.0 L429.5,1437.0 L430.7,1437.0 L432.0,1437.0 L433.3,1437.0 L434.5,1437.0 L435.8,1437.0 L437.1,1437.0 L438.3,1437.0 L439.6,1437.0 L440.9,1437.0 L442.1,1437.0 L443.4,1437.0 L444.7,1437.0 L445.9,1437.0 L447.2,1437.0 L448.5,1437.0 L449.7,1436.9 L451.0,1436.9 L452.3,1436.9 L453.5,1436.9 L454.8,1436.9 L456.1,1436.9 L457.3,1436.9 L458.6,1436.9 L459.9,1436.9 L461.1,1436.9 L462.4,1436.9 L463.7,1436.9 L464.9,1436.9 L466.2,1436.9 L467.5,1436.9 L468.7,1436.9 L470.0,1436.9 L471.3,1436.8 L472.5,1436.8 L473.8,1436.8 L475.1,1436.8 L476.3,1436.8 L477.6,1436.8 L478.9,1436.8 L480.1,1436.8 L481.4,1436.8 L482.7,1436.8 L483.9,1436.8 L485.2,1436.8 L486.5,1436.8 L487.7,1436.8 L489.0,1436.7 L490.3,1436.7 L491.5,1436.7 L492.8,1436.7 L494.1,1436.7 L495.3,1436.7 L496.6,1436.7 L497.9,1436.7 L499.1,1436.7 L500.4,1436.7 L501.7,1436.7 L503.0,1436.7 L504.2,1436.6 L505.5,1436.6 L506.8,1436.6 L508.0,1436.6 L509.3,1436.6 L510.6,1436.6 L511.8,1436.6 L513.1,1436.6 L514.4,1436.6 L515.6,1436.6 L516.9,1436.5 L518.2,1436.5 L519.4,1436.5 L520.7,1436.5 L522.0,1436.5 L523.2,1436.5 L524.5,1436.5 L525.8,1436.5 L527.0,1436.5 L528.3,1436.4 L529.6,1436.4 L530.8,1436.4 L532.1,1436.4 L533.4,1436.4 L534.6,1436.4 L535.9,1436.4 L537.2,1436.4 L538.4,1436.3 L539.7,1436.3 L541.0,1436.3 L542.2,1436.3 L543.5,1436.3 L544.8,1436.3 L546.0,1436.3 L547.3,1436.2 L548.6,1436.2 L549.8,1436.2 L551.1,1436.2 L552.4,1436.2 L553.6,1436.2 L554.9,1436.2 L556.2,1436.1 L557.4,1436.1 L558.7,1436.1 L560.0,1436.1 L561.2,1436.1 L562.5,1436.1 L563.8,1436.0 L565.0,1436.0 L566.3,1436.0 L567.6,1436.0 L568.8,1436.0 L570.1,1435.9 L571.4,1435.9 L572.6,1435.9 L573.9,1435.9 L575.2,1435.9 L576.4,1435.9 L577.7,1435.8 L579.0,1435.8 L580.2,1435.8 L581.5,1435.8 L582.8,1435.8 L584.1,1435.7 L585.3,1435.7 L586.6,1435.7 L587.9,1435.7 L589.1,1435.6 L590.4,1435.6 L591.7,1435.6 L592.9,1435.6 L594.2,1435.5 L595.5,1435.5 L596.7,1435.5 L598.0,1435.5 L599.3,1435.4 L600.5,1435.4 L601.8,1435.4 L603.1,1435.4 L604.3,1435.3 L605.6,1435.3 L606.9,1435.3 L608.1,1435.3 L609.4,1435.2 L610.7,1435.2 L611.9,1435.2 L613.2,1435.1 L614.5,1435.1 L615.7,1435.1 L617.0,1435.1 L618.3,1435.0 L619.5,1435.0 L620.8,1435.0 L622.1,1434.9 L623.3,1434.9 L624.6,1434.9 L625.9,1434.8 L627.1,1434.8 L628.4,1434.8 L629.7,1434.7 L630.9,1434.7 L632.2,1434.6 L633.5,1434.6 L634.7,1434.6 L636.0,1434.5 L637.3,1434.5 L638.5,1434.5 L639.8,1434.4 L641.1,1434.4 L642.3,1434.3 L643.6,1434.3 L644.9,1434.2 L646.1,1434.2 L647.4,1434.2 L648.7,1434.1 L649.9,1434.1 L651.2,1434.0 L652.5,1434.0 L653.7,1433.9 L655.0,1433.9 L656.3,1433.8 L657.5,1433.8 L658.8,1433.7 L660.1,1433.7 L661.4,1433.6 L662.6,1433.6 L663.9,1433.5 L665.2,1433.4 L666.4,1433.4 L667.7,1433.3 L669.0,1433.3 L670.2,1433.2 L671.5,1433.1 L672.8,1433.1 L674.0,1433.0 L675.3,1433.0 L676.6,1432.9 L677.8,1432.8 L679.1,1432.7 L680.4,1432.7 L681.6,1432.6 L682.9,1432.5 L684.2,1432.5 L685.4,1432.4 L686.7,1432.3 L688.0,1432.2 L689.2,1432.1 L690.5,1432.1 L691.8,1432.0 L693.0,1431.9 L694.3,1431.8 L695.6,1431.7 L696.8,1431.6 L698.1,1431.5 L699.4,1431.4 L700.6,1431.4 L701.9,1431.3 L703.2,1431.2 L704.4,1431.0 L705.7,1430.9 L707.0,1430.8 L708.2,1430.7 L709.5,1430.6 L710.8,1430.5 L712.0,1430.4 L713.3,1430.3 L714.6,1430.1 L715.8,1430.0 L717.1,1429.9 L718.4,1429.8 L719.6,1429.6 L720.9,1429.5 L722.2,1429.4 L723.4,1429.2 L724.7,1429.1 L726.0,1428.9 L727.2,1428.8 L728.5,1428.6 L729.8,1428.5 L731.0,1428.3 L732.3,1428.1 L733.6,1427.9 L734.8,1427.8 L736.1,1427.6 L737.4,1427.4 L738.6,1427.2 L739.9,1427.0 L741.2,1426.8 L742.5,1426.6 L743.7,1426.4 L745.0,1426.2 L746.3,1426.0 L747.5,1425.7 L748.8,1425.5 L750.1,1425.2 L751.3,1425.0 L752.6,1424.7 L753.9,1424.5 L755.1,1424.2 L756.4,1423.9 L757.7,1423.6 L758.9,1423.3 L760.2,1423.0 L761.5,1422.7 L762.7,1422.4 L764.0,1422.0 L765.3,1421.7 L766.5,1421.3 L767.8,1421.0 L769.1,1420.6 L770.3,1420.2 L771.6,1419.8 L772.9,1419.4 L774.1,1418.9 L775.4,1418.5 L776.7,1418.0 L777.9,1417.5 L779.2,1417.0 L780.5,1416.5 L781.7,1416.0 L783.0,1415.4 L784.3,1414.8 L785.5,1414.2 L786.8,1413.6 L788.1,1413.0 L789.3,1412.3 L790.6,1411.6 L791.9,1410.9 L793.1,1410.1 L794.4,1409.3 L795.7,1408.5 L796.9,1407.6 L798.2,1406.7 L799.5,1405.7 L800.7,1404.7 L802.0,1403.7 L803.3,1402.6 L804.5,1401.5 L805.8,1400.3 L807.1,1399.0 L808.3,1397.7 L809.6,1396.3 L810.9,1394.9 L812.1,1393.4 L813.4,1391.8 L814.7,1390.1 L815.9,1388.4 L817.2,1386.5 L818.5,1384.6 L819.8,1382.6 L821.0,1380.4 L822.3,1378.1 L823.6,1375.7 L824.8,1373.2 L826.1,1370.5 L827.4,1367.7 L828.6,1364.7 L829.9,1361.6 L831.2,1358.2 L832.4,1354.6 L833.7,1350.8 L835.0,1346.8 L836.2,1342.5 L837.5,1337.9 L838.8,1333.0 L840.0,1327.8 L841.3,1322.2 L842.6,1316.3 L843.8,1310.0 L845.1,1303.3 L846.4,1296.1 L847.6,1288.5 L848.9,1280.3 L850.2,1271.7 L851.4,1262.5 L852.7,1252.8 L854.0,1242.6 L855.2,1231.9 L856.5,1220.6 L857.8,1208.9 L859.0,1196.9 L860.3,1184.5 L861.6,1172.0 L862.8,1159.6 L864.1,1147.3 L865.4,1135.5 L866.6,1124.5 L867.9,1114.6 L869.2,1106.0 L870.4,1099.2 L871.7,1094.4 L873.0,1092.1 L874.2,1092.7 L875.5,1095.4 L876.8,1099.9 L878.0,1106.1 L879.3,1113.6 L880.6,1122.3 L881.8,1131.9 L883.1,1142.1 L884.4,1152.9 L885.6,1164.0 L886.9,1175.1 L888.2,1186.3 L889.4,1197.3 L890.7,1208.2 L892.0,1218.7 L893.2,1228.9 L894.5,1238.6 L895.8,1248.0 L897.0,1257.0 L898.3,1265.5 L899.6,1273.6 L900.9,1281.3 L902.1,1288.5 L903.4,1295.4 L904.7,1301.9 L905.9,1308.0 L907.2,1313.8 L908.5,1319.3 L909.7,1324.4 L911.0,1329.3 L912.3,1333.9 L913.5,1338.2 L914.8,1342.3 L916.1,1346.2 L917.3,1349.8 L918.6,1353.3 L919.9,1356.5 L921.1,1359.6 L922.4,1362.5 L923.7,1365.3 L924.9,1367.9 L926.2,1370.4 L927.5,1372.8 L928.7,1375.0 L930.0,1377.1 L931.3,1379.2 L932.5,1381.1 L933.8,1382.9 L935.1,1384.7 L936.3,1386.3 L937.6,1387.9 L938.9,1389.4 L940.1,1390.9 L941.4,1392.2 L942.7,1393.5 L943.9,1394.8 L945.2,1396.0 L946.5,1397.1 L947.7,1398.2 L949.0,1399.2 L950.3,1400.2 L951.5,1401.2 L952.8,1402.1 L954.1,1402.9 L955.3,1403.8 L956.6,1404.6 L957.9,1405.3 L959.1,1406.1 L960.4,1406.8 L961.7,1407.4 L962.9,1408.1 L964.2,1408.7 L965.5,1409.3 L966.7,1409.9 L968.0,1410.5 L969.3,1411.0 L970.5,1411.5 L971.8,1412.0 L973.1,1412.5 L974.3,1413.0 L975.6,1413.4 L976.9,1413.9 L978.2,1414.3 L979.4,1414.7 L980.7,1415.1 L982.0,1415.5 L983.2,1415.8 L984.5,1416.2 L985.8,1416.5 L987.0,1416.8 L988.3,1417.2 L989.6,1417.5 L990.8,1417.8 L992.1,1418.1 L993.4,1418.3 L994.6,1418.6 L995.9,1418.9 L997.2,1419.1 L998.4,1419.4 L999.7,1419.6 L1001.0,1419.8 L1002.2,1420.1 L1003.5,1420.3 L1004.8,1420.5 L1006.0,1420.7 L1007.3,1420.9 L1008.6,1421.1 L1009.8,1421.3 L1011.1,1421.5 L1012.4,1421.6 L1013.6,1421.8 L1014.9,1422.0 L1016.2,1422.1 L1017.4,1422.3 L1018.7,1422.4 L1020.0,1422.6 L1021.2,1422.7 L1022.5,1422.9 L1023.8,1423.0 L1025.0,1423.1 L1026.3,1423.2 L1027.6,1423.4 L1028.8,1423.5 L1030.1,1423.6 L1031.4,1423.7 L1032.6,1423.8 L1033.9,1423.9 L1035.2,1424.0 L1036.4,1424.1 L1037.7,1424.2 L1039.0,1424.3 L1040.2,1424.4 L1041.5,1424.5 L1042.8,1424.6 L1044.0,1424.7 L1045.3,1424.7 L1046.6,1424.8 L1047.8,1424.9 L1049.1,1425.0 L1050.4,1425.0 L1051.6,1425.1 L1052.9,1425.2 L1054.2,1425.2 L1055.4,1425.3 L1056.7,1425.4 L1058.0,1425.4 L1059.3,1425.5 L1060.5,1425.5 L1061.8,1425.6 L1063.1,1425.6 L1064.3,1425.7 L1065.6,1425.7 L1066.9,1425.8 L1068.1,1425.8 L1069.4,1425.9 L1070.7,1425.9 L1071.9,1426.0 L1073.2,1426.0 L1074.5,1426.0 L1075.7,1426.1 L1077.0,1426.1 L1078.3,1426.1 L1079.5,1426.2 L1080.8,1426.2 L1082.1,1426.2 L1083.3,1426.3 L1084.6,1426.3 L1085.9,1426.3 L1087.1,1426.3 L1088.4,1426.3 L1089.7,1426.4 L1090.9,1426.4 L1092.2,1426.4 L1093.5,1426.4 L1094.7,1426.4 L1096.0,1426.5 L1097.3,1426.5 L1098.5,1426.5 L1099.8,1426.5 L1101.1,1426.5 L1102.3,1426.5 L1103.6,1426.5 L1104.9,1426.5 L1106.1,1426.5 L1107.4,1426.6 L1108.7,1426.6 L1109.9,1426.6 L1111.2,1426.6 L1112.5,1426.6 L1113.7,1426.6 L1115.0,1426.6 L1116.3,1426.6 L1117.5,1426.6 L1118.8,1426.6 L1120.1,1426.6 L1121.3,1426.6 L1122.6,1426.6 L1123.9,1426.6 L1125.1,1426.5 L1126.4,1426.5 L1127.7,1426.5 L1128.9,1426.5 L1130.2,1426.5 L1131.5,1426.5 L1132.7,1426.5 L1134.0,1426.5 L1135.3,1426.5 L1136.6,1426.4 L1137.8,1426.4 L1139.1,1426.4 L1140.4,1426.4 L1141.6,1426.4 L1142.9,1426.4 L1144.2,1426.3 L1145.4,1426.3 L1146.7,1426.3 L1148.0,1426.3 L1149.2,1426.3 L1150.5,1426.2 L1151.8,1426.2 L1153.0,1426.2 L1154.3,1426.2 L1155.6,1426.1 L1156.8,1426.1 L1158.1,1426.1 L1159.4,1426.0 L1160.6,1426.0 L1161.9,1426.0 L1163.2,1426.0 L1164.4,1425.9 L1165.7,1425.9 L1167.0,1425.9 L1168.2,1425.8 L1169.5,1425.8 L1170.8,1425.7 L1172.0,1425.7 L1173.3,1425.7 L1174.6,1425.6 L1175.8,1425.6 L1177.1,1425.5 L1178.4,1425.5 L1179.6,1425.5 L1180.9,1425.4 L1182.2,1425.4 L1183.4,1425.3 L1184.7,1425.3 L1186.0,1425.2 L1187.2,1425.2 L1188.5,1425.1 L1189.8,1425.1 L1191.0,1425.0 L1192.3,1425.0 L1193.6,1424.9 L1194.8,1424.9 L1196.1,1424.8 L1197.4,1424.8 L1198.6,1424.7 L1199.9,1424.6 L1201.2,1424.6 L1202.4,1424.5 L1203.7,1424.5 L1205.0,1424.4 L1206.2,1424.3 L1207.5,1424.3 L1208.8,1424.2 L1210.0,1424.1 L1211.3,1424.1 L1212.6,1424.0 L1213.8,1423.9 L1215.1,1423.8 L1216.4,1423.8 L1217.7,1423.7 L1218.9,1423.6 L1220.2,1423.5 L1221.5,1423.5 L1222.7,1423.4 L1224.0,1423.3 L1225.3,1423.2 L1226.5,1423.1 L1227.8,1423.1 L1229.1,1423.0 L1230.3,1422.9 L1231.6,1422.8 L1232.9,1422.7 L1234.1,1422.6 L1235.4,1422.5 L1236.7,1422.4 L1237.9,1422.3 L1239.2,1422.2 L1240.5,1422.1 L1241.7,1422.0 L1243.0,1421.9 L1244.3,1421.8 L1245.5,1421.7 L1246.8,1421.6 L1248.1,1421.5 L1249.3,1421.4 L1250.6,1421.3 L1251.9,1421.2 L1253.1,1421.1 L1254.4,1421.0 L1255.7,1420.8 L1256.9,1420.7 L1258.2,1420.6 L1259.5,1420.5 L1260.7,1420.4 L1262.0,1420.2 L1263.3,1420.1 L1264.5,1420.0 L1265.8,1419.8 L1267.1,1419.7 L1268.3,1419.6 L1269.6,1419.4 L1270.9,1419.3 L1272.1,1419.1 L1273.4,1419.0 L1274.7,1418.9 L1275.9,1418.7 L1277.2,1418.6 L1278.5,1418.4 L1279.7,1418.2 L1281.0,1418.1 L1282.3,1417.9 L1283.5,1417.8 L1284.8,1417.6 L1286.1,1417.4 L1287.3,1417.3 L1288.6,1417.1 L1289.9,1417.0 L1291.1,1416.8 L1292.4,1416.7 L1293.7,1416.6 L1295.0,1416.5 L1296.2,1416.4 L1297.5,1416.3 L1298.8,1416.1 L1300.0,1416.0 L1301.3,1415.8 L1302.6,1415.6 L1303.8,1415.4 L1305.1,1415.1 L1306.4,1414.8 L1307.6,1414.5 L1308.9,1414.2 L1310.2,1413.9 L1311.4,1413.5 L1312.7,1413.1 L1314.0,1412.7 L1315.2,1412.3 L1316.5,1411.8 L1317.8,1411.4 L1319.0,1410.9 L1320.3,1410.5 L1321.6,1410.0 L1322.8,1409.5 L1324.1,1409.0 L1325.4,1408.5 L1326.6,1408.0 L1327.9,1407.5 L1329.2,1407.0 L1330.4,1406.4 L1331.7,1405.9 L1333.0,1405.3 L1334.2,1404.7 L1335.5,1404.7 L1336.8,1404.7 L1338.0,1404.7 L1339.3,1404.7 L1340.6,1404.7 L1341.8,1404.7 L1343.1,1404.7 L1344.4,1404.7 L1345.6,1404.7 L1346.9,1404.7 L1348.2,1404.7 L1349.4,1404.7 L1350.7,1404.7 L1352.0,1404.7 L1353.2,1404.7 L1354.5,1404.3 L1355.8,1403.9 L1357.0,1403.5 L1358.3,1403.0 L1359.6,1402.5 L1360.8,1402.1 L1362.1,1401.6 L1363.4,1401.1 L1364.6,1400.6 L1365.9,1400.1 L1367.2,1399.6 L1368.4,1399.0 L1369.7,1398.5 L1371.0,1398.0 L1372.2,1397.4 L1373.5,1396.9 L1374.8,1396.3 L1376.1,1395.7 L1377.3,1395.1 L1378.6,1394.5 L1379.9,1393.9 L1381.1,1393.3 L1382.4,1392.6 L1383.7,1392.0 L1384.9,1391.3 L1386.2,1390.6 L1387.5,1390.0 L1388.7,1389.3 L1390.0,1388.5 L1391.3,1387.8 L1392.5,1387.1 L1393.8,1386.3 L1395.1,1385.5 L1396.3,1384.7 L1397.6,1383.9 L1398.9,1383.1 L1400.1,1382.3 L1401.4,1381.4 L1402.7,1380.5 L1403.9,1379.6 L1405.2,1378.7 L1406.5,1377.8 L1407.7,1376.8 L1409.0,1375.8 L1410.3,1374.8 L1411.5,1373.8 L1412.8,1372.7 L1414.1,1371.6 L1415.3,1370.5 L1416.6,1369.4 L1417.9,1368.3 L1419.1,1367.1 L1420.4,1365.9 L1421.7,1364.6 L1422.9,1363.4 L1424.2,1362.1 L1425.5,1360.7 L1426.7,1359.3 L1428.0,1357.9 L1429.3,1356.5 L1430.5,1355.0 L1431.8,1353.5 L1433.1,1352.0 L1434.3,1350.4 L1435.6,1348.7 L1436.9,1347.1 L1438.1,1345.4 L1439.4,1343.6 L1440.7,1341.8 L1441.9,1339.9 L1443.2,1338.0 L1444.5,1336.1 L1445.7,1334.1 L1447.0,1332.0 L1448.3,1329.9 L1449.5,1327.7 L1450.8,1325.5 L1452.1,1323.2 L1453.4,1320.8 L1454.6,1318.4 L1455.9,1315.9 L1457.2,1313.4 L1458.4,1310.8 L1459.7,1308.1 L1461.0,1305.4 L1462.2,1302.5 L1463.5,1299.6 L1464.8,1296.7 L1466.0,1293.6 L1467.3,1290.5 L1468.6,1287.3 L1469.8,1284.1 L1471.1,1280.7 L1472.4,1277.3 L1473.6,1273.8 L1474.9,1270.2 L1476.2,1266.6 L1477.4,1262.9 L1478.7,1259.0 L1480.0,1255.2 L1481.2,1251.2 L1482.5,1247.2 L1483.8,1243.1 L1485.0,1239.0 L1486.3,1234.7 L1487.6,1230.5 L1488.8,1226.2 L1490.1,1221.8 L1491.4,1217.4 L1492.6,1212.9 L1493.9,1208.4 L1495.2,1203.9 L1496.4,1199.4 L1497.7,1194.8 L1499.0,1190.3 L1500.2,1185.8 L1501.5,1181.2 L1502.8,1176.8 L1504.0,1172.3 L1505.3,1167.9 L1506.6,1163.5 L1507.8,1159.2 L1509.1,1154.9 L1510.4,1150.8 L1511.6,1146.7 L1512.9,1142.7 L1514.2,1138.9 L1515.4,1135.1 L1516.7,1131.5 L1518.0,1128.0 L1519.2,1124.6 L1520.5,1121.4 L1521.8,1118.4 L1523.0,1115.5 L1524.3,1112.7 L1525.6,1110.1 L1526.8,1107.6 L1528.1,1105.4 L1529.4,1103.3 L1530.6,1101.4 L1531.9,1099.8 L1533.2,1098.3 L1534.5,1097.1 L1535.7,1096.2 L1537.0,1095.6 L1538.3,1095.4 L1539.5,1096.1 L1540.8,1097.1 L1542.1,1098.5 L1543.3,1100.1 L1544.6,1101.9 L1545.9,1103.9 L1547.1,1106.1 L1548.4,1108.5 L1549.7,1111.0 L1550.9,1113.6 L1552.2,1116.4 L1553.5,1119.3 L1554.7,1122.2 L1556.0,1125.3 L1557.3,1128.4 L1558.5,1131.7 L1559.8,1135.0 L1561.1,1138.5 L1562.3,1142.0 L1563.6,1145.6 L1564.9,1149.3 L1566.1,1153.1 L1567.4,1156.9 L1568.7,1160.8 L1569.9,1164.8 L1571.2,1168.7 L1572.5,1172.8 L1573.7,1176.8 L1575.0,1180.9 L1576.3,1184.9 L1577.5,1189.0 L1578.8,1193.1 L1580.1,1197.2 L1581.3,1201.3 L1582.6,1205.3 L1583.9,1209.4 L1585.1,1213.4 L1586.4,1217.3 L1587.7,1221.3 L1588.9,1225.2 L1590.2,1229.1 L1591.5,1232.9 L1592.7,1236.6 L1594.0,1240.3 L1595.3,1244.0 L1596.5,1247.6 L1597.8,1251.2 L1599.1,1254.6 L1600.3,1258.1 L1601.6,1261.4 L1602.9,1264.8 L1604.1,1268.0 L1605.4,1271.2 L1606.7,1274.3 L1607.9,1277.4 L1609.2,1280.4 L1610.5,1283.3 L1611.8,1286.2 L1613.0,1289.0 L1614.3,1291.7 L1615.6,1294.4 L1616.8,1297.1 L1618.1,1299.6 L1619.4,1302.2 L1620.6,1304.6 L1621.9,1307.0 L1623.2,1309.4 L1624.4,1311.7 L1625.7,1313.9 L1627.0,1316.1 L1628.2,1318.3 L1629.5,1320.4 L1630.8,1322.4 L1632.0,1324.4 L1633.3,1326.4 L1634.6,1328.3 L1635.8,1330.2 L1637.1,1332.0 L1638.4,1333.8 L1639.6,1335.6 L1640.9,1337.3 L1642.2,1338.9 L1643.4,1340.6 L1644.7,1342.2 L1646.0,1343.7 L1647.2,1345.3 L1648.5,1346.8 L1649.8,1348.2 L1651.0,1349.7 L1652.3,1351.1 L1653.6,1352.4 L1654.8,1353.8 L1656.1,1355.1 L1657.4,1356.4 L1658.6,1357.6 L1659.9,1358.8 L1661.2,1360.1 L1662.4,1361.2 L1663.7,1362.4 L1665.0,1363.5 L1666.2,1364.6 L1667.5,1365.7 L1668.8,1366.8 L1670.0,1367.8 L1671.3,1368.8 L1672.6,1369.8 L1673.8,1370.8 L1675.1,1371.8 L1676.4,1372.7 L1677.6,1373.6 L1678.9,1374.5 L1680.2,1375.4 L1681.4,1376.3 L1682.7,1377.1 L1684.0,1377.9 L1685.2,1378.8 L1686.5,1379.6 L1687.8,1380.4 L1689.0,1381.1 L1690.3,1381.9 L1691.6,1382.6 L1692.9,1383.3 L1694.1,1384.1 L1695.4,1384.8 L1696.7,1385.4 L1697.9,1386.1 L1699.2,1386.8 L1700.5,1387.4 L1701.7,1388.1 L1703.0,1388.7 L1704.3,1389.3 L1705.5,1389.9 L1706.8,1390.5 L1708.1,1391.1 L1709.3,1391.6 L1710.6,1392.2 L1711.9,1392.7 L1713.1,1393.3 L1714.4,1393.8 L1715.7,1394.3 L1716.9,1394.8 L1718.2,1395.3 L1719.5,1395.8 L1720.7,1396.3 L1722.0,1396.7 L1723.3,1397.2 L1724.5,1397.6 L1725.8,1398.1 L1727.1,1398.5 L1728.3,1398.9 L1729.6,1399.4 L1730.9,1399.8 L1732.1,1400.2 L1733.4,1400.6 L1734.7,1401.0 L1735.9,1401.3 L1737.2,1401.7 L1738.5,1402.1 L1739.7,1402.4 L1741.0,1402.8 L1742.3,1403.1 L1743.5,1403.5 L1744.8,1403.8 L1746.1,1404.1 L1747.3,1404.4 L1748.6,1404.8 L1749.9,1405.1 L1751.1,1405.4 L1752.4,1405.7 L1753.7,1405.9 L1754.9,1406.2 L1756.2,1406.5 L1757.5,1406.8 L1758.7,1407.0 L1760.0,1407.3 L1761.3,1407.6 L1762.5,1407.8 L1763.8,1408.1 L1765.1,1408.3 L1766.3,1408.5 L1767.6,1408.8 L1768.9,1409.0 L1770.2,1409.2 L1771.4,1409.4 L1772.7,1409.6 L1774.0,1409.8 L1775.2,1410.0 L1776.5,1410.2 L1777.8,1410.4 L1779.0,1410.6 L1780.3,1410.8 L1781.6,1411.0 L1782.8,1411.2 L1784.1,1411.4 L1785.4,1411.5 L1786.6,1411.7 L1787.9,1411.9 L1789.2,1412.0 L1790.4,1412.2 L1791.7,1412.3 L1793.0,1412.5 L1794.2,1412.6 L1795.5,1412.8 L1796.8,1412.9 L1798.0,1413.0 L1799.3,1413.2 L1800.6,1413.3 L1801.8,1413.4 L1803.1,1413.6 L1804.4,1413.7 L1805.6,1413.8 L1806.9,1413.9 L1808.2,1414.0 L1809.4,1414.1 L1810.7,1414.3 L1812.0,1414.4 L1813.2,1414.5 L1814.5,1414.6 L1815.8,1414.7 L1817.0,1414.8 L1818.3,1414.9 L1819.6,1415.0 L1820.8,1415.1 L1822.1,1415.1 L1823.4,1415.2 L1824.6,1415.3 L1825.9,1415.4 L1827.2,1415.5 L1828.4,1415.6 L1829.7,1415.7 L1831.0,1415.7 L1832.2,1415.8 L1833.5,1415.9 L1834.8,1416.0 L1836.0,1416.1 L1837.3,1416.1 L1838.6,1416.2 L1839.8,1416.3 L1841.1,1416.4 L1842.4,1416.4 L1843.6,1416.5 L1844.9,1416.6 L1846.2,1416.6 L1847.4,1416.7 L1848.7,1416.8 L1850.0,1416.9 L1851.3,1416.9 L1852.5,1417.0 L1853.8,1417.1 L1855.1,1417.1 L1856.3,1417.2 L1857.6,1417.3 L1858.9,1417.3 L1860.1,1417.4 L1861.4,1417.5 L1862.7,1417.6 L1863.9,1417.6 L1865.2,1417.7 L1866.5,1417.8 L1867.7,1417.9 L1869.0,1417.9 L1870.3,1418.0 L1871.5,1418.1 L1872.8,1418.2 L1874.1,1418.3 L1875.3,1418.3 L1876.6,1418.4 L1877.9,1418.5 L1879.1,1418.6 L1880.4,1418.7 L1881.7,1418.8 L1882.9,1418.9 L1884.2,1419.0 L1885.5,1419.1 L1886.7,1419.2 L1888.0,1419.3 L1892.0,1419.3"/></g>
<g clip-path="url(#c4)"><path stroke="#ff8000" d="M298.0,1782.5 L304.0,1782.5 L305.3,1782.5 L306.5,1782.5 L307.8,1782.5 L309.1,1782.5 L310.3,1782.5 L311.6,1782.5 L312.9,1782.5 L314.1,1782.5 L315.4,1782.5 L316.7,1782.4 L317.9,1782.4 L319.2,1782.4 L320.5,1782.4 L321.7,1782.4 L323.0,1782.4 L324.3,1782.4 L325.5,1782.4 L326.8,1782.4 L328.1,1782.4 L329.3,1782.4 L330.6,1782.4 L331.9,1782.4 L333.1,1782.4 L334.4,1782.4 L335.7,1782.4 L336.9,1782.4 L338.2,1782.4 L339.5,1782.3 L340.7,1782.3 L342.0,1782.3 L343.3,1782.3 L344.6,1782.3 L345.8,1782.3 L347.1,1782.3 L348.4,1782.3 L349.6,1782.3 L350.9,1782.3 L352.2,1782.3 L353.4,1782.3 L354.7,1782.3 L356.0,1782.3 L357.2,1782.3 L358.5,1782.3 L359.8,1782.2 L361.0,1782.2 L362.3,1782.2 L363.6,1782.2 L364.8,1782.2 L366.1,1782.2 L367.4,1782.2 L368.6,1782.2 L369.9,1782.2 L371.2,1782.2 L372.4,1782.2 L373.7,1782.2 L375.0,1782.2 L376.2,1782.2 L377.5,1782.2 L378.8,1782.1 L380.0,1782.1 L381.3,1782.1 L382.6,1782.1 L383.8,1782.1 L385.1,1782.1 L386.4,1782.1 L387.6,1782.1 L388.9,1782.1 L390.2,1782.1 L391.4,1782.1 L392.7,1782.1 L394.0,1782.1 L395.2,1782.1 L396.5,1782.0 L397.8,1782.0 L399.0,1782.0 L400.3,1782.0 L401.6,1782.0 L402.8,1782.0 L404.1,1782.0 L405.4,1782.0 L406.6,1782.0 L407.9,1782.0 L409.2,1782.0 L410.4,1782.0 L411.7,1782.0 L413.0,1781.9 L414.2,1781.9 L415.5,1781.9 L416.8,1781.9 L418.0,1781.9 L419.3,1781.9 L420.6,1781.9 L421.8,1781.9 L423.1,1781.9 L424.4,1781.9 L425.7,1781.9 L426.9,1781.9 L428.2,1781.8 L429.5,1781.8 L430.7,1781.8 L432.0,1781.8 L433.3,1781.8 L434.5,1781.8 L435.8,1781.8 L437.1,1781.8 L438.3,1781.8 L439.6,1781.8 L440.9,1781.8 L442.1,1781.8 L443.4,1781.7 L444.7,1781.7 L445.9,1781.7 L447.2,1781.7 L448.5,1781.7 L449.7,1781.7 L451.0,1781.7 L452.3,1781.7 L453.5,1781.7 L454.8,1781.7 L456.1,1781.7 L457.3,1781.6 L458.6,1781.6 L459.9,1781.6 L461.1,1781.6 L462.4,1781.6 L463.7,1781.6 L464.9,1781.6 L466.2,1781.6 L467.5,1781.6 L468.7,1781.6 L470.0,1781.5 L471.3,1781.5 L472.5,1781.5 L473.8,1781.5 L475.1,1781.5 L476.3,1781.5 L477.6,1781.5 L478.9,1781.5 L480.1,1781.5 L481.4,1781.5 L482.7,1781.4 L483.9,1781.4 L485.2,1781.4 L486.5,1781.4 L487.7,1781.4 L489.0,1781.4 L490.3,1781.4 L491.5,1781.4 L492.8,1781.4 L494.1,1781.3 L495.3,1781.3 L496.6,1781.3 L497.9,1781.3 L499.1,1781.3 L500.4,1781.3 L501.7,1781.3 L503.0,1781.3 L504.2,1781.2 L505.5,1781.2 L506.8,1781.2 L508.0,1781.2 L509.3,1781.2 L510.6,1781.2 L511.8,1781.2 L513.1,1781.2 L514.4,1781.1 L515.6,1781.1 L516.9,1781.1 L518.2,1781.1 L519.4,1781.1 L520.7,1781.1 L522.0,1781.1 L523.2,1781.1 L524.5,1781.0 L525.8,1781.0 L527.0,1781.0 L528.3,1781.0 L529.6,1781.0 L530.8,1781.0 L532.1,1781.0 L533.4,1780.9 L534.6,1780.9 L535.9,1780.9 L537.2,1780.9 L538.4,1780.9 L539.7,1780.9 L541.0,1780.9 L542.2,1780.8 L543.5,1780.8 L544.8,1780.8 L546.0,1780.8 L547.3,1780.8 L548.6,1780.8 L549.8,1780.7 L551.1,1780.7 L552.4,1780.7 L553.6,1780.7 L554.9,1780.7 L556.2,1780.7 L557.4,1780.6 L558.7,1780.6 L560.0,1780.6 L561.2,1780.6 L562.5,1780.6 L563.8,1780.6 L565.0,1780.5 L566.3,1780.5 L567.6,1780.5 L568.8,1780.5 L570.1,1780.5 L571.4,1780.5 L572.6,1780.4 L573.9,1780.4 L575.2,1780.4 L576.4,1780.4 L577.7,1780.4 L579.0,1780.3 L580.2,1780.3 L581.5,1780.3 L582.8,1780.3 L584.1,1780.3 L585.3,1780.2 L586.6,1780.2 L587.9,1780.2 L589.1,1780.2 L590.4,1780.1 L591.7,1780.1 L592.9,1780.1 L594.2,1780.1 L595.5,1780.1 L596.7,1780.0 L598.0,1780.0 L599.3,1780.0 L600.5,1780.0 L601.8,1779.9 L603.1,1779.9 L604.3,1779.9 L605.6,1779.9 L606.9,1779.8 L608.1,1779.8 L609.4,1779.8 L610.7,1779.8 L611.9,1779.7 L613.2,1779.7 L614.5,1779.7 L615.7,1779.7 L617.0,1779.6 L618.3,1779.6 L619.5,1779.6 L620.8,1779.6 L622.1,1779.5 L623.3,1779.5 L624.6,1779.5 L625.9,1779.4 L627.1,1779.4 L628.4,1779.4 L629.7,1779.3 L630.9,1779.3 L632.2,1779.3 L633.5,1779.3 L634.7,1779.2 L636.0,1779.2 L637.3,1779.2 L638.5,1779.1 L639.8,1779.1 L641.1,1779.1 L642.3,1779.0 L643.6,1779.0 L644.9,1778.9 L646.1,1778.9 L647.4,1778.9 L648.7,1778.8 L649.9,1778.8 L651.2,1778.8 L652.5,1778.7 L653.7,1778.7 L655.0,1778.6 L656.3,1778.6 L657.5,1778.6 L658.8,1778.5 L660.1,1778.5 L661.4,1778.4 L662.6,1778.4 L663.9,1778.3 L665.2,1778.3 L666.4,1778.3 L667.7,1778.2 L669.0,1778.2 L670.2,1778.1 L671.5,1778.1 L672.8,1778.0 L674.0,1778.0 L675.3,1777.9 L676.6,1777.9 L677.8,1777.8 L679.1,1777.8 L680.4,1777.7 L681.6,1777.6 L682.9,1777.6 L684.2,1777.5 L685.4,1777.5 L686.7,1777.4 L688.0,1777.4 L689.2,1777.3 L690.5,1777.2 L691.8,1777.2 L693.0,1777.1 L694.3,1777.0 L695.6,1777.0 L696.8,1776.9 L698.1,1776.8 L699.4,1776.8 L700.6,1776.7 L701.9,1776.6 L703.2,1776.5 L704.4,1776.5 L705.7,1776.4 L707.0,1776.3 L708.2,1776.2 L709.5,1776.1 L710.8,1776.1 L712.0,1776.0 L713.3,1775.9 L714.6,1775.8 L715.8,1775.7 L717.1,1775.6 L718.4,1775.5 L719.6,1775.4 L720.9,1775.3 L722.2,1775.2 L723.4,1775.1 L724.7,1775.0 L726.0,1774.9 L727.2,1774.8 L728.5,1774.7 L729.8,1774.6 L731.0,1774.4 L732.3,1774.3 L733.6,1774.2 L734.8,1774.1 L736.1,1773.9 L737.4,1773.8 L738.6,1773.7 L739.9,1773.5 L741.2,1773.4 L742.5,1773.2 L743.7,1773.1 L745.0,1772.9 L746.3,1772.8 L747.5,1772.6 L748.8,1772.4 L750.1,1772.3 L751.3,1772.1 L752.6,1771.9 L753.9,1771.7 L755.1,1771.5 L756.4,1771.3 L757.7,1771.1 L758.9,1770.9 L760.2,1770.7 L761.5,1770.5 L762.7,1770.3 L764.0,1770.1 L765.3,1769.8 L766.5,1769.6 L767.8,1769.3 L769.1,1769.1 L770.3,1768.8 L771.6,1768.5 L772.9,1768.2 L774.1,1767.9 L775.4,1767.6 L776.7,1767.3 L777.9,1767.0 L779.2,1766.6 L780.5,1766.3 L781.7,1765.9 L783.0,1765.6 L784.3,1765.2 L785.5,1764.8 L786.8,1764.4 L788.1,1763.9 L789.3,1763.5 L790.6,1763.0 L791.9,1762.5 L793.1,1762.0 L794.4,1761.5 L795.7,1761.0 L796.9,1760.4 L798.2,1759.9 L799.5,1759.2 L800.7,1758.6 L802.0,1758.0 L803.3,1757.3 L804.5,1756.6 L805.8,1755.8 L807.1,1755.0 L808.3,1754.2 L809.6,1753.4 L810.9,1752.5 L812.1,1751.6 L813.4,1750.6 L814.7,1749.6 L815.9,1748.5 L817.2,1747.4 L818.5,1746.2 L819.8,1744.9 L821.0,1743.6 L822.3,1742.3 L823.6,1740.8 L824.8,1739.3 L826.1,1737.7 L827.4,1736.0 L828.6,1734.2 L829.9,1732.3 L831.2,1730.3 L832.4,1728.2 L833.7,1725.9 L835.0,1723.5 L836.2,1721.0 L837.5,1718.3 L838.8,1715.4 L840.0,1712.3 L841.3,1709.1 L842.6,1705.6 L843.8,1701.9 L845.1,1697.9 L846.4,1693.7 L847.6,1689.2 L848.9,1684.4 L850.2,1679.2 L851.4,1673.7 L852.7,1667.7 L854.0,1661.4 L855.2,1654.6 L856.5,1647.4 L857.8,1639.6 L859.0,1631.4 L860.3,1622.6 L861.6,1613.2 L862.8,1603.2 L864.1,1592.7 L865.4,1581.7 L866.6,1570.1 L867.9,1558.0 L869.2,1545.6 L870.4,1532.8 L871.7,1519.9 L873.0,1507.1 L874.2,1494.5 L875.5,1482.4 L876.8,1471.0 L878.0,1460.8 L879.3,1451.9 L880.6,1444.7 L881.8,1439.5 L883.1,1436.3 L884.4,1435.3 L885.6,1437.6 L886.9,1442.6 L888.2,1449.8 L889.4,1458.7 L890.7,1468.9 L892.0,1480.0 L893.2,1491.7 L894.5,1503.8 L895.8,1516.0 L897.0,1528.1 L898.3,1540.0 L899.6,1551.5 L900.9,1562.7 L902.1,1573.4 L903.4,1583.7 L904.7,1593.5 L905.9,1602.7 L907.2,1611.4 L908.5,1619.7 L909.7,1627.5 L911.0,1634.8 L912.3,1641.7 L913.5,1648.2 L914.8,1654.3 L916.1,1660.0 L917.3,1665.4 L918.6,1670.5 L919.9,1675.2 L921.1,1679.7 L922.4,1683.9 L923.7,1687.9 L924.9,1691.7 L926.2,1695.2 L927.5,1698.5 L928.7,1701.7 L930.0,1704.7 L931.3,1707.5 L932.5,1710.3 L933.8,1712.9 L935.1,1715.4 L936.3,1717.8 L937.6,1720.1 L938.9,1722.4 L940.1,1724.5 L941.4,1726.5 L942.7,1728.5 L943.9,1730.4 L945.2,1732.2 L946.5,1733.9 L947.7,1735.5 L949.0,1737.1 L950.3,1738.6 L951.5,1740.1 L952.8,1741.5 L954.1,1742.8 L955.3,1744.0 L956.6,1745.2 L957.9,1746.4 L959.1,1747.4 L960.4,1748.5 L961.7,1749.4 L962.9,1750.3 L964.2,1751.2 L965.5,1752.0 L966.7,1752.7 L968.0,1753.4 L969.3,1754.0 L970.5,1754.7 L971.8,1755.3 L973.1,1755.9 L974.3,1756.5 L975.6,1757.0 L976.9,1757.5 L978.2,1758.0 L979.4,1758.5 L980.7,1759.0 L982.0,1759.4 L983.2,1759.9 L984.5,1760.3 L985.8,1760.7 L987.0,1761.1 L988.3,1761.5 L989.6,1761.8 L990.8,1762.2 L992.1,1762.5 L993.4,1762.9 L994.6,1763.2 L995.9,1763.5 L997.2,1763.8 L998.4,1764.1 L999.7,1764.3 L1001.0,1764.6 L1002.2,1764.9 L1003.5,1765.1 L1004.8,1765.4 L1006.0,1765.6 L1007.3,1765.8 L1008.6,1766.1 L1009.8,1766.3 L1011.1,1766.5 L1012.4,1766.7 L1013.6,1766.9 L1014.9,1767.1 L1016.2,1767.3 L1017.4,1767.4 L1018.7,1767.6 L1020.0,1767.8 L1021.2,1767.9 L1022.5,1768.1 L1023.8,1768.3 L1025.0,1768.4 L1026.3,1768.5 L1027.6,1768.7 L1028.8,1768.8 L1030.1,1769.0 L1031.4,1769.1 L1032.6,1769.2 L1033.9,1769.3 L1035.2,1769.4 L1036.4,1769.6 L1037.7,1769.7 L1039.0,1769.8 L1040.2,1769.9 L1041.5,1770.0 L1042.8,1770.1 L1044.0,1770.2 L1045.3,1770.3 L1046.6,1770.4 L1047.8,1770.4 L1049.1,1770.5 L1050.4,1770.6 L1051.6,1770.7 L1052.9,1770.8 L1054.2,1770.8 L1055.4,1770.9 L1056.7,1771.0 L1058.0,1771.0 L1059.3,1771.1 L1060.5,1771.2 L1061.8,1771.2 L1063.1,1771.3 L1064.3,1771.4 L1065.6,1771.4 L1066.9,1771.5 L1068.1,1771.5 L1069.4,1771.6 L1070.7,1771.6 L1071.9,1771.7 L1073.2,1771.7 L1074.5,1771.8 L1075.7,1771.8 L1077.0,1771.8 L1078.3,1771.9 L1079.5,1771.9 L1080.8,1772.0 L1082.1,1772.0 L1083.3,1772.0 L1084.6,1772.1 L1085.9,1772.1 L1087.1,1772.1 L1088.4,1772.2 L1089.7,1772.2 L1090.9,1772.2 L1092.2,1772.2 L1093.5,1772.3 L1094.7,1772.3 L1096.0,1772.3 L1097.3,1772.3 L1098.5,1772.4 L1099.8,1772.4 L1101.1,1772.4 L1102.3,1772.4 L1103.6,1772.4 L1104.9,1772.4 L1106.1,1772.5 L1107.4,1772.5 L1108.7,1772.5 L1109.9,1772.5 L1111.2,1772.5 L1112.5,1772.5 L1113.7,1772.5 L1115.0,1772.5 L1116.3,1772.5 L1117.5,1772.5 L1118.8,1772.5 L1120.1,1772.6 L1121.3,1772.6 L1122.6,1772.6 L1123.9,1772.6 L1125.1,1772.6 L1126.4,1772.6 L1127.7,1772.6 L1128.9,1772.6 L1130.2,1772.6 L1131.5,1772.6 L1132.7,1772.5 L1134.0,1772.5 L1135.3,1772.5 L1136.6,1772.5 L1137.8,1772.5 L1139.1,1772.5 L1140.4,1772.5 L1141.6,1772.5 L1142.9,1772.5 L1144.2,1772.5 L1145.4,1772.5 L1146.7,1772.5 L1148.0,1772.4 L1149.2,1772.4 L1150.5,1772.4 L1151.8,1772.4 L1153.0,1772.4 L1154.3,1772.4 L1155.6,1772.4 L1156.8,1772.3 L1158.1,1772.3 L1159.4,1772.3 L1160.6,1772.3 L1161.9,1772.3 L1163.2,1772.2 L1164.4,1772.2 L1165.7,1772.2 L1167.0,1772.2 L1168.2,1772.1 L1169.5,1772.1 L1170.8,1772.1 L1172.0,1772.1 L1173.3,1772.0 L1174.6,1772.0 L1175.8,1772.0 L1177.1,1771.9 L1178.4,1771.9 L1179.6,1771.9 L1180.9,1771.9 L1182.2,1771.8 L1183.4,1771.8 L1184.7,1771.8 L1186.0,1771.7 L1187.2,1771.7 L1188.5,1771.6 L1189.8,1771.6 L1191.0,1771.6 L1192.3,1771.5 L1193.6,1771.5 L1194.8,1771.5 L1196.1,1771.4 L1197.4,1771.4 L1198.6,1771.3 L1199.9,1771.3 L1201.2,1771.2 L1202.4,1771.2 L1203.7,1771.1 L1205.0,1771.1 L1206.2,1771.1 L1207.5,1771.0 L1208.8,1771.0 L1210.0,1770.9 L1211.3,1770.9 L1212.6,1770.8 L1213.8,1770.7 L1215.1,1770.7 L1216.4,1770.6 L1217.7,1770.6 L1218.9,1770.5 L1220.2,1770.5 L1221.5,1770.4 L1222.7,1770.4 L1224.0,1770.3 L1225.3,1770.2 L1226.5,1770.2 L1227.8,1770.1 L1229.1,1770.0 L1230.3,1770.0 L1231.6,1769.9 L1232.9,1769.8 L1234.1,1769.8 L1235.4,1769.7 L1236.7,1769.6 L1237.9,1769.6 L1239.2,1769.5 L1240.5,1769.4 L1241.7,1769.4 L1243.0,1769.3 L1244.3,1769.2 L1245.5,1769.1 L1246.8,1769.0 L1248.1,1769.0 L1249.3,1768.9 L1250.6,1768.8 L1251.9,1768.7 L1253.1,1768.6 L1254.4,1768.6 L1255.7,1768.5 L1256.9,1768.4 L1258.2,1768.3 L1259.5,1768.2 L1260.7,1768.1 L1262.0,1768.0 L1263.3,1767.9 L1264.5,1767.8 L1265.8,1767.7 L1267.1,1767.6 L1268.3,1767.5 L1269.6,1767.4 L1270.9,1767.3 L1272.1,1767.2 L1273.4,1767.1 L1274.7,1767.0 L1275.9,1766.9 L1277.2,1766.8 L1278.5,1766.7 L1279.7,1766.6 L1281.0,1766.5 L1282.3,1766.4 L1283.5,1766.3 L1284.8,1766.1 L1286.1,1766.0 L1287.3,1765.9 L1288.6,1765.8 L1289.9,1765.7 L1291.1,1765.6 L1292.4,1765.4 L1293.7,1765.3 L1295.0,1765.2 L1296.2,1765.1 L1297.5,1765.0 L1298.8,1764.9 L1300.0,1764.8 L1301.3,1764.7 L1302.6,1764.5 L1303.8,1764.4 L1305.1,1764.2 L1306.4,1764.1 L1307.6,1763.9 L1308.9,1763.7 L1310.2,1763.5 L1311.4,1763.3 L1312.7,1763.1 L1314.0,1762.9 L1315.2,1762.6 L1316.5,1762.4 L1317.8,1762.1 L1319.0,1761.9 L1320.3,1761.6 L1321.6,1761.4 L1322.8,1761.1 L1324.1,1760.8 L1325.4,1760.6 L1326.6,1760.3 L1327.9,1760.0 L1329.2,1759.7 L1330.4,1759.4 L1331.7,1759.1 L1333.0,1758.8 L1334.2,1758.5 L1335.5,1758.5 L1336.8,1758.5 L1338.0,1758.5 L1339.3,1758.5 L1340.6,1758.5 L1341.8,1758.5 L1343.1,1758.5 L1344.4,1758.5 L1345.6,1758.5 L1346.9,1758.5 L1348.2,1758.5 L1349.4,1758.5 L1350.7,1758.5 L1352.0,1758.5 L1353.2,1758.5 L1354.5,1758.3 L1355.8,1758.1 L1357.0,1758.0 L1358.3,1757.8 L1359.6,1757.7 L1360.8,1757.5 L1362.1,1757.3 L1363.4,1757.2 L1364.6,1757.0 L1365.9,1756.8 L1367.2,1756.6 L1368.4,1756.4 L1369.7,1756.2 L1371.0,1756.0 L1372.2,1755.8 L1373.5,1755.6 L1374.8,1755.4 L1376.1,1755.2 L1377.3,1754.9 L1378.6,1754.7 L1379.9,1754.4 L1381.1,1754.2 L1382.4,1753.9 L1383.7,1753.7 L1384.9,1753.4 L1386.2,1753.1 L1387.5,1752.8 L1388.7,1752.5 L1390.0,1752.3 L1391.3,1752.0 L1392.5,1751.6 L1393.8,1751.3 L1395.1,1751.0 L1396.3,1750.7 L1397.6,1750.4 L1398.9,1750.0 L1400.1,1749.7 L1401.4,1749.3 L1402.7,1749.0 L1403.9,1748.6 L1405.2,1748.2 L1406.5,1747.9 L1407.7,1747.5 L1409.0,1747.1 L1410.3,1746.7 L1411.5,1746.3 L1412.8,1745.9 L1414.1,1745.5 L1415.3,1745.0 L1416.6,1744.6 L1417.9,1744.2 L1419.1,1743.7 L1420.4,1743.2 L1421.7,1742.8 L1422.9,1742.3 L1424.2,1741.8 L1425.5,1741.3 L1426.7,1740.8 L1428.0,1740.3 L1429.3,1739.8 L1430.5,1739.3 L1431.8,1738.8 L1433.1,1738.2 L1434.3,1737.7 L1435.6,1737.1 L1436.9,1736.6 L1438.1,1736.0 L1439.4,1735.4 L1440.7,1734.8 L1441.9,1734.2 L1443.2,1733.6 L1444.5,1733.0 L1445.7,1732.4 L1447.0,1731.7 L1448.3,1731.1 L1449.5,1730.4 L1450.8,1729.7 L1452.1,1729.0 L1453.4,1728.3 L1454.6,1727.6 L1455.9,1726.9 L1457.2,1726.2 L1458.4,1725.4 L1459.7,1724.7 L1461.0,1723.9 L1462.2,1723.1 L1463.5,1722.3 L1464.8,1721.5 L1466.0,1720.7 L1467.3,1719.9 L1468.6,1719.0 L1469.8,1718.1 L1471.1,1717.3 L1472.4,1716.4 L1473.6,1715.5 L1474.9,1714.5 L1476.2,1713.6 L1477.4,1712.6 L1478.7,1711.7 L1480.0,1710.7 L1481.2,1709.7 L1482.5,1708.6 L1483.8,1707.6 L1485.0,1706.5 L1486.3,1705.5 L1487.6,1704.4 L1488.8,1703.2 L1490.1,1702.1 L1491.4,1700.9 L1492.6,1699.8 L1493.9,1698.6 L1495.2,1697.3 L1496.4,1696.1 L1497.7,1694.8 L1499.0,1693.5 L1500.2,1692.2 L1501.5,1690.9 L1502.8,1689.5 L1504.0,1688.1 L1505.3,1686.7 L1506.6,1685.2 L1507.8,1683.8 L1509.1,1682.3 L1510.4,1680.7 L1511.6,1679.2 L1512.9,1677.6 L1514.2,1676.0 L1515.4,1674.3 L1516.7,1672.6 L1518.0,1670.9 L1519.2,1669.2 L1520.5,1667.4 L1521.8,1665.6 L1523.0,1663.7 L1524.3,1661.8 L1525.6,1659.9 L1526.8,1657.9 L1528.1,1655.9 L1529.4,1653.9 L1530.6,1651.8 L1531.9,1649.7 L1533.2,1647.5 L1534.5,1645.3 L1535.7,1643.1 L1537.0,1640.8 L1538.3,1638.5 L1539.5,1636.1 L1540.8,1633.7 L1542.1,1631.3 L1543.3,1628.8 L1544.6,1626.2 L1545.9,1623.6 L1547.1,1621.0 L1548.4,1618.3 L1549.7,1615.6 L1550.9,1612.8 L1552.2,1610.0 L1553.5,1607.1 L1554.7,1604.2 L1556.0,1601.3 L1557.3,1598.3 L1558.5,1595.3 L1559.8,1592.2 L1561.1,1589.1 L1562.3,1585.9 L1563.6,1582.8 L1564.9,1579.5 L1566.1,1576.3 L1567.4,1573.0 L1568.7,1569.7 L1569.9,1566.4 L1571.2,1563.0 L1572.5,1559.6 L1573.7,1556.2 L1575.0,1552.8 L1576.3,1549.4 L1577.5,1546.0 L1578.8,1542.6 L1580.1,1539.2 L1581.3,1535.8 L1582.6,1532.4 L1583.9,1529.0 L1585.1,1525.7 L1586.4,1522.4 L1587.7,1519.2 L1588.9,1516.0 L1590.2,1512.8 L1591.5,1509.7 L1592.7,1506.7 L1594.0,1503.8 L1595.3,1500.9 L1596.5,1498.2 L1597.8,1495.4 L1599.1,1492.7 L1600.3,1490.1 L1601.6,1487.6 L1602.9,1485.3 L1604.1,1483.0 L1605.4,1480.9 L1606.7,1479.0 L1607.9,1477.1 L1609.2,1475.4 L1610.5,1473.9 L1611.8,1472.5 L1613.0,1471.2 L1614.3,1470.1 L1615.6,1469.2 L1616.8,1468.4 L1618.1,1467.7 L1619.4,1467.2 L1620.6,1466.9 L1621.9,1466.6 L1623.2,1466.5 L1624.4,1466.5 L1625.7,1466.7 L1627.0,1467.1 L1628.2,1467.8 L1629.5,1468.6 L1630.8,1469.6 L1632.0,1470.8 L1633.3,1472.1 L1634.6,1473.6 L1635.8,1475.3 L1637.1,1477.1 L1638.4,1479.0 L1639.6,1481.1 L1640.9,1483.3 L1642.2,1485.6 L1643.4,1488.0 L1644.7,1490.5 L1646.0,1493.1 L1647.2,1495.8 L1648.5,1498.5 L1649.8,1501.3 L1651.0,1504.2 L1652.3,1507.1 L1653.6,1510.0 L1654.8,1512.9 L1656.1,1515.8 L1657.4,1518.8 L1658.6,1521.7 L1659.9,1524.8 L1661.2,1527.8 L1662.4,1530.8 L1663.7,1533.9 L1665.0,1537.0 L1666.2,1540.1 L1667.5,1543.2 L1668.8,1546.2 L1670.0,1549.3 L1671.3,1552.4 L1672.6,1555.4 L1673.8,1558.4 L1675.1,1561.5 L1676.4,1564.5 L1677.6,1567.4 L1678.9,1570.4 L1680.2,1573.3 L1681.4,1576.2 L1682.7,1579.1 L1684.0,1581.9 L1685.2,1584.7 L1686.5,1587.5 L1687.8,1590.3 L1689.0,1593.0 L1690.3,1595.7 L1691.6,1598.3 L1692.9,1600.9 L1694.1,1603.5 L1695.4,1606.0 L1696.7,1608.6 L1697.9,1611.0 L1699.2,1613.5 L1700.5,1615.9 L1701.7,1618.2 L1703.0,1620.6 L1704.3,1622.9 L1705.5,1625.1 L1706.8,1627.4 L1708.1,1629.6 L1709.3,1631.7 L1710.6,1633.8 L1711.9,1635.9 L1713.1,1638.0 L1714.4,1640.0 L1715.7,1642.0 L1716.9,1644.0 L1718.2,1645.9 L1719.5,1647.8 L1720.7,1649.7 L1722.0,1651.5 L1723.3,1653.3 L1724.5,1655.1 L1725.8,1656.9 L1727.1,1658.6 L1728.3,1660.3 L1729.6,1662.0 L1730.9,1663.6 L1732.1,1665.2 L1733.4,1666.8 L1734.7,1668.4 L1735.9,1669.9 L1737.2,1671.4 L1738.5,1672.9 L1739.7,1674.3 L1741.0,1675.8 L1742.3,1677.2 L1743.5,1678.6 L1744.8,1679.9 L1746.1,1681.3 L1747.3,1682.6 L1748.6,1683.9 L1749.9,1685.2 L1751.1,1686.4 L1752.4,1687.6 L1753.7,1688.9 L1754.9,1690.0 L1756.2,1691.2 L1757.5,1692.4 L1758.7,1693.5 L1760.0,1694.6 L1761.3,1695.7 L1762.5,1696.8 L1763.8,1697.8 L1765.1,1698.8 L1766.3,1699.9 L1767.6,1700.9 L1768.9,1701.8 L1770.2,1702.8 L1771.4,1703.7 L1772.7,1704.7 L1774.0,1705.6 L1775.2,1706.5 L1776.5,1707.4 L1777.8,1708.2 L1779.0,1709.1 L1780.3,1709.9 L1781.6,1710.7 L1782.8,1711.5 L1784.1,1712.3 L1785.4,1713.1 L1786.6,1713.8 L1787.9,1714.6 L1789.2,1715.3 L1790.4,1716.0 L1791.7,1716.7 L1793.0,1717.4 L1794.2,1718.1 L1795.5,1718.7 L1796.8,1719.4 L1798.0,1720.0 L1799.3,1720.6 L1800.6,1721.2 L1801.8,1721.8 L1803.1,1722.4 L1804.4,1723.0 L1805.6,1723.6 L1806.9,1724.1 L1808.2,1724.6 L1809.4,1725.2 L1810.7,1725.7 L1812.0,1726.2 L1813.2,1726.7 L1814.5,1727.1 L1815.8,1727.6 L1817.0,1728.1 L1818.3,1728.5 L1819.6,1729.0 L1820.8,1729.4 L1822.1,1729.8 L1823.4,1730.2 L1824.6,1730.6 L1825.9,1731.0 L1827.2,1731.4 L1828.4,1731.8 L1829.7,1732.1 L1831.0,1732.5 L1832.2,1732.8 L1833.5,1733.2 L1834.8,1733.5 L1836.0,1733.8 L1837.3,1734.1 L1838.6,1734.4 L1839.8,1734.7 L1841.1,1735.0 L1842.4,1735.3 L1843.6,1735.6 L1844.9,1735.8 L1846.2,1736.1 L1847.4,1736.3 L1848.7,1736.6 L1850.0,1736.8 L1851.3,1737.1 L1852.5,1737.3 L1853.8,1737.5 L1855.1,1737.7 L1856.3,1737.9 L1857.6,1738.1 L1858.9,1738.3 L1860.1,1738.5 L1861.4,1738.7 L1862.7,1738.9 L1863.9,1739.1 L1865.2,1739.3 L1866.5,1739.4 L1867.7,1739.6 L1869.0,1739.8 L1870.3,1739.9 L1871.5,1740.1 L1872.8,1740.2 L1874.1,1740.4 L1875.3,1740.5 L1876.6,1740.7 L1877.9,1740.8 L1879.1,1740.9 L1880.4,1741.1 L1881.7,1741.2 L1882.9,1741.3 L1884.2,1741.5 L1885.5,1741.6 L1886.7,1741.7 L1888.0,1741.8 L1892.0,1741.8"/></g>
<g clip-path="url(#c5)"><path stroke="#ff00ff" d="M298.0,2127.2 L304.0,2127.2 L305.3,2127.2 L306.5,2127.2 L307.8,2127.2 L309.1,2127.2 L310.3,2127.2 L311.6,2127.2 L312.9,2127.2 L314.1,2127.2 L315.4,2127.2 L316.7,2127.2 L317.9,2127.2 L319.2,2127.2 L320.5,2127.2 L321.7,2127.2 L323.0,2127.2 L324.3,2127.2 L325.5,2127.2 L326.8,2127.2 L328.1,2127.2 L329.3,2127.2 L330.6,2127.2 L331.9,2127.2 L333.1,2127.2 L334.4,2127.2 L335.7,2127.2 L336.9,2127.2 L338.2,2127.2 L339.5,2127.2 L340.7,2127.2 L342.0,2127.2 L343.3,2127.2 L344.6,2127.2 L345.8,2127.1 L347.1,2127.1 L348.4,2127.1 L349.6,2127.1 L350.9,2127.1 L352.2,2127.1 L353.4,2127.1 L354.7,2127.1 L356.0,2127.1 L357.2,2127.1 L358.5,2127.1 L359.8,2127.1 L361.0,2127.1 L362.3,2127.1 L363.6,2127.1 L364.8,2127.1 L366.1,2127.1 L367.4,2127.1 L368.6,2127.1 L369.9,2127.1 L371.2,2127.1 L372.4,2127.1 L373.7,2127.1 L375.0,2127.1 L376.2,2127.1 L377.5,2127.1 L378.8,2127.1 L380.0,2127.1 L381.3,2127.1 L382.6,2127.1 L383.8,2127.0 L385.1,2127.0 L386.4,2127.0 L387.6,2127.0 L388.9,2127.0 L390.2,2127.0 L391.4,2127.0 L392.7,2127.0 L394.0,2127.0 L395.2,2127.0 L396.5,2127.0 L397.8,2127.0 L399.0,2127.0 L400.3,2127.0 L401.6,2127.0 L402.8,2127.0 L404.1,2127.0 L405.4,2127.0 L406.6,2127.0 L407.9,2127.0 L409.2,2127.0 L410.4,2127.0 L411.7,2127.0 L413.0,2127.0 L414.2,2127.0 L415.5,2127.0 L416.8,2126.9 L418.0,2126.9 L419.3,2126.9 L420.6,2126.9 L421.8,2126.9 L423.1,2126.9 L424.4,2126.9 L425.7,2126.9 L426.9,2126.9 L428.2,2126.9 L429.5,2126.9 L430.7,2126.9 L432.0,2126.9 L433.3,2126.9 L434.5,2126.9 L435.8,2126.9 L437.1,2126.9 L438.3,2126.9 L439.6,2126.9 L440.9,2126.9 L442.1,2126.9 L443.4,2126.9 L444.7,2126.9 L445.9,2126.8 L447.2,2126.8 L448.5,2126.8 L449.7,2126.8 L451.0,2126.8 L452.3,2126.8 L453.5,2126.8 L454.8,2126.8 L456.1,2126.8 L457.3,2126.8 L458.6,2126.8 L459.9,2126.8 L461.1,2126.8 L462.4,2126.8 L463.7,2126.8 L464.9,2126.8 L466.2,2126.8 L467.5,2126.8 L468.7,2126.8 L470.0,2126.8 L471.3,2126.8 L472.5,2126.7 L473.8,2126.7 L475.1,2126.7 L476.3,2126.7 L477.6,2126.7 L478.9,2126.7 L480.1,2126.7 L481.4,2126.7 L482.7,2126.7 L483.9,2126.7 L485.2,2126.7 L486.5,2126.7 L487.7,2126.7 L489.0,2126.7 L490.3,2126.7 L491.5,2126.7 L492.8,2126.7 L494.1,2126.7 L495.3,2126.6 L496.6,2126.6 L497.9,2126.6 L499.1,2126.6 L500.4,2126.6 L501.7,2126.6 L503.0,2126.6 L504.2,2126.6 L505.5,2126.6 L506.8,2126.6 L508.0,2126.6 L509.3,2126.6 L510.6,2126.6 L511.8,2126.6 L513.1,2126.6 L514.4,2126.6 L515.6,2126.6 L516.9,2126.5 L518.2,2126.5 L519.4,2126.5 L520.7,2126.5 L522.0,2126.5 L523.2,2126.5 L524.5,2126.5 L525.8,2126.5 L527.0,2126.5 L528.3,2126.5 L529.6,2126.5 L530.8,2126.5 L532.1,2126.5 L533.4,2126.5 L534.6,2126.5 L535.9,2126.4 L537.2,2126.4 L538.4,2126.4 L539.7,2126.4 L541.0,2126.4 L542.2,2126.4 L543.5,2126.4 L544.8,2126.4 L546.0,2126.4 L547.3,2126.4 L548.6,2126.4 L549.8,2126.4 L551.1,2126.4 L552.4,2126.3 L553.6,2126.3 L554.9,2126.3 L556.2,2126.3 L557.4,2126.3 L558.7,2126.3 L560.0,2126.3 L561.2,2126.3 L562.5,2126.3 L563.8,2126.3 L565.0,2126.3 L566.3,2126.3 L567.6,2126.2 L568.8,2126.2 L570.1,2126.2 L571.4,2126.2 L572.6,2126.2 L573.9,2126.2 L575.2,2126.2 L576.4,2126.2 L577.7,2126.2 L579.0,2126.2 L580.2,2126.2 L581.5,2126.1 L582.8,2126.1 L584.1,2126.1 L585.3,2126.1 L586.6,2126.1 L587.9,2126.1 L589.1,2126.1 L590.4,2126.1 L591.7,2126.1 L592.9,2126.1 L594.2,2126.0 L595.5,2126.0 L596.7,2126.0 L598.0,2126.0 L599.3,2126.0 L600.5,2126.0 L601.8,2126.0 L603.1,2126.0 L604.3,2126.0 L605.6,2125.9 L606.9,2125.9 L608.1,2125.9 L609.4,2125.9 L610.7,2125.9 L611.9,2125.9 L613.2,2125.9 L614.5,2125.9 L615.7,2125.8 L617.0,2125.8 L618.3,2125.8 L619.5,2125.8 L620.8,2125.8 L622.1,2125.8 L623.3,2125.8 L624.6,2125.7 L625.9,2125.7 L627.1,2125.7 L628.4,2125.7 L629.7,2125.7 L630.9,2125.7 L632.2,2125.7 L633.5,2125.6 L634.7,2125.6 L636.0,2125.6 L637.3,2125.6 L638.5,2125.6 L639.8,2125.6 L641.1,2125.5 L642.3,2125.5 L643.6,2125.5 L644.9,2125.5 L646.1,2125.5 L647.4,2125.5 L648.7,2125.4 L649.9,2125.4 L651.2,2125.4 L652.5,2125.4 L653.7,2125.4 L655.0,2125.3 L656.3,2125.3 L657.5,2125.3 L658.8,2125.3 L660.1,2125.3 L661.4,2125.2 L662.6,2125.2 L663.9,2125.2 L665.2,2125.2 L666.4,2125.1 L667.7,2125.1 L669.0,2125.1 L670.2,2125.1 L671.5,2125.0 L672.8,2125.0 L674.0,2125.0 L675.3,2125.0 L676.6,2124.9 L677.8,2124.9 L679.1,2124.9 L680.4,2124.9 L681.6,2124.8 L682.9,2124.8 L684.2,2124.8 L685.4,2124.7 L686.7,2124.7 L688.0,2124.7 L689.2,2124.6 L690.5,2124.6 L691.8,2124.6 L693.0,2124.5 L694.3,2124.5 L695.6,2124.5 L696.8,2124.4 L698.1,2124.4 L699.4,2124.3 L700.6,2124.3 L701.9,2124.2 L703.2,2124.2 L704.4,2124.2 L705.7,2124.1 L707.0,2124.1 L708.2,2124.0 L709.5,2124.0 L710.8,2123.9 L712.0,2123.9 L713.3,2123.8 L714.6,2123.7 L715.8,2123.7 L717.1,2123.6 L718.4,2123.6 L719.6,2123.5 L720.9,2123.4 L722.2,2123.4 L723.4,2123.3 L724.7,2123.2 L726.0,2123.1 L727.2,2123.1 L728.5,2123.0 L729.8,2122.9 L731.0,2122.8 L732.3,2122.7 L733.6,2122.6 L734.8,2122.5 L736.1,2122.4 L737.4,2122.3 L738.6,2122.2 L739.9,2122.1 L741.2,2122.0 L742.5,2121.9 L743.7,2121.8 L745.0,2121.6 L746.3,2121.5 L747.5,2121.3 L748.8,2121.2 L750.1,2121.0 L751.3,2120.9 L752.6,2120.7 L753.9,2120.5 L755.1,2120.3 L756.4,2120.1 L757.7,2119.9 L758.9,2119.7 L760.2,2119.5 L761.5,2119.2 L762.7,2119.0 L764.0,2118.7 L765.3,2118.4 L766.5,2118.1 L767.8,2117.8 L769.1,2117.4 L770.3,2117.0 L771.6,2116.6 L772.9,2116.2 L774.1,2115.7 L775.4,2115.3 L776.7,2114.7 L777.9,2114.2 L779.2,2113.6 L780.5,2112.9 L781.7,2112.2 L783.0,2111.5 L784.3,2110.7 L785.5,2109.9 L786.8,2109.0 L788.1,2108.0 L789.3,2106.9 L790.6,2105.8 L791.9,2104.6 L793.1,2103.2 L794.4,2101.8 L795.7,2100.2 L796.9,2098.5 L798.2,2096.6 L799.5,2094.5 L800.7,2092.2 L802.0,2089.7 L803.3,2087.0 L804.5,2083.9 L805.8,2080.5 L807.1,2076.7 L808.3,2072.5 L809.6,2067.8 L810.9,2062.6 L812.1,2056.7 L813.4,2050.3 L814.7,2043.1 L815.9,2035.2 L817.2,2026.6 L818.5,2017.2 L819.8,2007.2 L821.0,1996.7 L822.3,1985.9 L823.6,1975.2 L824.8,1964.9 L826.1,1955.7 L827.4,1947.9 L828.6,1942.0 L829.9,1938.4 L831.2,1937.0 L832.4,1937.6 L833.7,1940.4 L835.0,1945.6 L836.2,1952.9 L837.5,1962.0 L838.8,1972.2 L840.0,1983.1 L841.3,1994.2 L842.6,2005.0 L843.8,2015.4 L845.1,2025.1 L846.4,2034.0 L847.6,2042.2 L848.9,2049.5 L850.2,2056.2 L851.4,2062.2 L852.7,2067.5 L854.0,2072.3 L855.2,2076.6 L856.5,2080.4 L857.8,2083.8 L859.0,2086.9 L860.3,2089.7 L861.6,2092.2 L862.8,2094.4 L864.1,2096.4 L865.4,2098.2 L866.6,2099.8 L867.9,2101.3 L869.2,2102.6 L870.4,2103.8 L871.7,2104.9 L873.0,2105.9 L874.2,2106.8 L875.5,2107.6 L876.8,2108.4 L878.0,2109.0 L879.3,2109.7 L880.6,2110.3 L881.8,2110.8 L883.1,2111.3 L884.4,2111.8 L885.6,2112.2 L886.9,2112.7 L888.2,2113.1 L889.4,2113.4 L890.7,2113.8 L892.0,2114.1 L893.2,2114.5 L894.5,2114.8 L895.8,2115.1 L897.0,2115.4 L898.3,2115.7 L899.6,2115.9 L900.9,2116.2 L902.1,2116.5 L903.4,2116.7 L904.7,2116.9 L905.9,2117.1 L907.2,2117.3 L908.5,2117.5 L909.7,2117.7 L911.0,2117.9 L912.3,2118.0 L913.5,2118.2 L914.8,2118.3 L916.1,2118.5 L917.3,2118.6 L918.6,2118.8 L919.9,2118.9 L921.1,2119.0 L922.4,2119.1 L923.7,2119.2 L924.9,2119.4 L926.2,2119.5 L927.5,2119.6 L928.7,2119.7 L930.0,2119.7 L931.3,2119.8 L932.5,2119.9 L933.8,2120.0 L935.1,2120.1 L936.3,2120.2 L937.6,2120.2 L938.9,2120.3 L940.1,2120.4 L941.4,2120.4 L942.7,2120.5 L943.9,2120.5 L945.2,2120.6 L946.5,2120.7 L947.7,2120.7 L949.0,2120.8 L950.3,2120.8 L951.5,2120.9 L952.8,2120.9 L954.1,2120.9 L955.3,2121.0 L956.6,2121.0 L957.9,2121.1 L959.1,2121.1 L960.4,2121.1 L961.7,2121.2 L962.9,2121.2 L964.2,2121.2 L965.5,2121.3 L966.7,2121.3 L968.0,2121.3 L969.3,2121.3 L970.5,2121.4 L971.8,2121.4 L973.1,2121.4 L974.3,2121.4 L975.6,2121.4 L976.9,2121.5 L978.2,2121.5 L979.4,2121.5 L980.7,2121.5 L982.0,2121.5 L983.2,2121.5 L984.5,2121.6 L985.8,2121.6 L987.0,2121.6 L988.3,2121.6 L989.6,2121.6 L990.8,2121.6 L992.1,2121.6 L993.4,2121.6 L994.6,2121.6 L995.9,2121.6 L997.2,2121.6 L998.4,2121.6 L999.7,2121.6 L1001.0,2121.6 L1002.2,2121.6 L1003.5,2121.6 L1004.8,2121.6 L1006.0,2121.6 L1007.3,2121.6 L1008.6,2121.6 L1009.8,2121.6 L1011.1,2121.6 L1012.4,2121.6 L1013.6,2121.6 L1014.9,2121.6 L1016.2,2121.6 L1017.4,2121.6 L1018.7,2121.6 L1020.0,2121.6 L1021.2,2121.5 L1022.5,2121.5 L1023.8,2121.5 L1025.0,2121.5 L1026.3,2121.5 L1027.6,2121.5 L1028.8,2121.5 L1030.1,2121.5 L1031.4,2121.4 L1032.6,2121.4 L1033.9,2121.4 L1035.2,2121.4 L1036.4,2121.4 L1037.7,2121.3 L1039.0,2121.3 L1040.2,2121.3 L1041.5,2121.3 L1042.8,2121.3 L1044.0,2121.2 L1045.3,2121.2 L1046.6,2121.2 L1047.8,2121.2 L1049.1,2121.2 L1050.4,2121.1 L1051.6,2121.1 L1052.9,2121.1 L1054.2,2121.0 L1055.4,2121.0 L1056.7,2121.0 L1058.0,2121.0 L1059.3,2120.9 L1060.5,2120.9 L1061.8,2120.9 L1063.1,2120.8 L1064.3,2120.8 L1065.6,2120.8 L1066.9,2120.8 L1068.1,2120.7 L1069.4,2120.7 L1070.7,2120.7 L1071.9,2120.6 L1073.2,2120.6 L1074.5,2120.5 L1075.7,2120.5 L1077.0,2120.5 L1078.3,2120.4 L1079.5,2120.4 L1080.8,2120.4 L1082.1,2120.3 L1083.3,2120.3 L1084.6,2120.2 L1085.9,2120.2 L1087.1,2120.2 L1088.4,2120.1 L1089.7,2120.1 L1090.9,2120.0 L1092.2,2120.0 L1093.5,2119.9 L1094.7,2119.9 L1096.0,2119.9 L1097.3,2119.8 L1098.5,2119.8 L1099.8,2119.7 L1101.1,2119.7 L1102.3,2119.6 L1103.6,2119.6 L1104.9,2119.5 L1106.1,2119.5 L1107.4,2119.4 L1108.7,2119.4 L1109.9,2119.3 L1111.2,2119.3 L1112.5,2119.2 L1113.7,2119.2 L1115.0,2119.1 L1116.3,2119.0 L1117.5,2119.0 L1118.8,2118.9 L1120.1,2118.9 L1121.3,2118.8 L1122.6,2118.8 L1123.9,2118.7 L1125.1,2118.6 L1126.4,2118.6 L1127.7,2118.5 L1128.9,2118.5 L1130.2,2118.4 L1131.5,2118.3 L1132.7,2118.3 L1134.0,2118.2 L1135.3,2118.1 L1136.6,2118.1 L1137.8,2118.0 L1139.1,2117.9 L1140.4,2117.9 L1141.6,2117.8 L1142.9,2117.7 L1144.2,2117.7 L1145.4,2117.6 L1146.7,2117.5 L1148.0,2117.4 L1149.2,2117.4 L1150.5,2117.3 L1151.8,2117.2 L1153.0,2117.1 L1154.3,2117.1 L1155.6,2117.0 L1156.8,2116.9 L1158.1,2116.8 L1159.4,2116.8 L1160.6,2116.7 L1161.9,2116.6 L1163.2,2116.5 L1164.4,2116.4 L1165.7,2116.3 L1167.0,2116.3 L1168.2,2116.2 L1169.5,2116.1 L1170.8,2116.0 L1172.0,2115.9 L1173.3,2115.8 L1174.6,2115.7 L1175.8,2115.6 L1177.1,2115.6 L1178.4,2115.5 L1179.6,2115.4 L1180.9,2115.3 L1182.2,2115.2 L1183.4,2115.1 L1184.7,2115.0 L1186.0,2114.9 L1187.2,2114.8 L1188.5,2114.7 L1189.8,2114.6 L1191.0,2114.5 L1192.3,2114.4 L1193.6,2114.3 L1194.8,2114.2 L1196.1,2114.0 L1197.4,2113.9 L1198.6,2113.8 L1199.9,2113.7 L1201.2,2113.6 L1202.4,2113.5 L1203.7,2113.4 L1205.0,2113.3 L1206.2,2113.1 L1207.5,2113.0 L1208.8,2112.9 L1210.0,2112.8 L1211.3,2112.7 L1212.6,2112.5 L1213.8,2112.4 L1215.1,2112.3 L1216.4,2112.2 L1217.7,2112.0 L1218.9,2111.9 L1220.2,2111.8 L1221.5,2111.6 L1222.7,2111.5 L1224.0,2111.3 L1225.3,2111.2 L1226.5,2111.1 L1227.8,2110.9 L1229.1,2110.8 L1230.3,2110.6 L1231.6,2110.5 L1232.9,2110.3 L1234.1,2110.2 L1235.4,2110.0 L1236.7,2109.9 L1237.9,2109.7 L1239.2,2109.6 L1240.5,2109.4 L1241.7,2109.2 L1243.0,2109.1 L1244.3,2108.9 L1245.5,2108.7 L1246.8,2108.6 L1248.1,2108.4 L1249.3,2108.2 L1250.6,2108.0 L1251.9,2107.8 L1253.1,2107.7 L1254.4,2107.5 L1255.7,2107.3 L1256.9,2107.1 L1258.2,2106.9 L1259.5,2106.7 L1260.7,2106.5 L1262.0,2106.3 L1263.3,2106.1 L1264.5,2105.9 L1265.8,2105.7 L1267.1,2105.5 L1268.3,2105.3 L1269.6,2105.0 L1270.9,2104.8 L1272.1,2104.6 L1273.4,2104.4 L1274.7,2104.1 L1275.9,2103.9 L1277.2,2103.7 L1278.5,2103.4 L1279.7,2103.2 L1281.0,2102.9 L1282.3,2102.7 L1283.5,2102.4 L1284.8,2102.2 L1286.1,2101.9 L1287.3,2101.6 L1288.6,2101.3 L1289.9,2101.0 L1291.1,2100.7 L1292.4,2100.3 L1293.7,2099.9 L1295.0,2099.5 L1296.2,2099.1 L1297.5,2098.7 L1298.8,2098.3 L1300.0,2097.8 L1301.3,2097.3 L1302.6,2096.7 L1303.8,2096.1 L1305.1,2095.5 L1306.4,2094.9 L1307.6,2094.2 L1308.9,2093.5 L1310.2,2092.9 L1311.4,2092.2 L1312.7,2091.5 L1314.0,2090.8 L1315.2,2090.1 L1316.5,2089.4 L1317.8,2088.6 L1319.0,2087.8 L1320.3,2087.0 L1321.6,2086.2 L1322.8,2085.4 L1324.1,2084.5 L1325.4,2083.7 L1326.6,2082.8 L1327.9,2081.9 L1329.2,2080.9 L1330.4,2080.0 L1331.7,2079.0 L1333.0,2078.0 L1334.2,2077.0 L1335.5,2077.0 L1336.8,2077.0 L1338.0,2077.0 L1339.3,2077.0 L1340.6,2077.0 L1341.8,2077.0 L1343.1,2077.0 L1344.4,2077.0 L1345.6,2077.0 L1346.9,2077.0 L1348.2,2077.0 L1349.4,2077.0 L1350.7,2077.0 L1352.0,2077.0 L1353.2,2077.0 L1354.5,2076.3 L1355.8,2075.6 L1357.0,2074.8 L1358.3,2074.0 L1359.6,2073.2 L1360.8,2072.4 L1362.1,2071.5 L1363.4,2070.7 L1364.6,2069.8 L1365.9,2068.9 L1367.2,2067.9 L1368.4,2066.9 L1369.7,2066.0 L1371.0,2065.0 L1372.2,2063.9 L1373.5,2062.9 L1374.8,2061.8 L1376.1,2060.7 L1377.3,2059.5 L1378.6,2058.3 L1379.9,2057.1 L1381.1,2055.9 L1382.4,2054.7 L1383.7,2053.4 L1384.9,2052.0 L1386.2,2050.7 L1387.5,2049.3 L1388.7,2047.9 L1390.0,2046.4 L1391.3,2044.9 L1392.5,2043.4 L1393.8,2041.8 L1395.1,2040.2 L1396.3,2038.6 L1397.6,2036.9 L1398.9,2035.2 L1400.1,2033.4 L1401.4,2031.6 L1402.7,2029.7 L1403.9,2027.8 L1405.2,2025.8 L1406.5,2023.8 L1407.7,2021.7 L1409.0,2019.6 L1410.3,2017.4 L1411.5,2015.2 L1412.8,2012.9 L1414.1,2010.6 L1415.3,2008.1 L1416.6,2005.7 L1417.9,2003.2 L1419.1,2000.6 L1420.4,1997.9 L1421.7,1995.2 L1422.9,1992.4 L1424.2,1989.5 L1425.5,1986.6 L1426.7,1983.6 L1428.0,1980.5 L1429.3,1977.4 L1430.5,1974.2 L1431.8,1970.9 L1433.1,1967.6 L1434.3,1964.1 L1435.6,1960.6 L1436.9,1957.1 L1438.1,1953.4 L1439.4,1949.7 L1440.7,1946.0 L1441.9,1942.1 L1443.2,1938.2 L1444.5,1934.3 L1445.7,1930.3 L1447.0,1926.2 L1448.3,1922.1 L1449.5,1917.9 L1450.8,1913.7 L1452.1,1909.5 L1453.4,1905.2 L1454.6,1901.0 L1455.9,1896.7 L1457.2,1892.4 L1458.4,1888.1 L1459.7,1883.8 L1461.0,1879.6 L1462.2,1875.4 L1463.5,1871.2 L1464.8,1867.0 L1466.0,1863.0 L1467.3,1858.9 L1468.6,1855.0 L1469.8,1851.1 L1471.1,1847.4 L1472.4,1843.7 L1473.6,1840.1 L1474.9,1836.7 L1476.2,1833.4 L1477.4,1830.2 L1478.7,1827.1 L1480.0,1824.2 L1481.2,1821.5 L1482.5,1818.9 L1483.8,1816.4 L1485.0,1814.1 L1486.3,1811.7 L1487.6,1809.5 L1488.8,1807.5 L1490.1,1805.6 L1491.4,1803.9 L1492.6,1802.4 L1493.9,1801.1 L1495.2,1799.9 L1496.4,1799.0 L1497.7,1798.3 L1499.0,1797.9 L1500.2,1797.9 L1501.5,1798.2 L1502.8,1798.8 L1504.0,1799.6 L1505.3,1800.6 L1506.6,1801.7 L1507.8,1803.0 L1509.1,1804.5 L1510.4,1806.2 L1511.6,1808.0 L1512.9,1810.0 L1514.2,1812.2 L1515.4,1814.1 L1516.7,1816.1 L1518.0,1818.3 L1519.2,1820.6 L1520.5,1823.1 L1521.8,1825.7 L1523.0,1828.5 L1524.3,1831.4 L1525.6,1834.4 L1526.8,1837.6 L1528.1,1840.9 L1529.4,1844.3 L1530.6,1847.8 L1531.9,1851.5 L1533.2,1855.2 L1534.5,1859.0 L1535.7,1862.8 L1537.0,1866.8 L1538.3,1870.8 L1539.5,1874.8 L1540.8,1878.8 L1542.1,1882.9 L1543.3,1887.0 L1544.6,1891.1 L1545.9,1895.2 L1547.1,1899.3 L1548.4,1903.4 L1549.7,1907.5 L1550.9,1911.5 L1552.2,1915.5 L1553.5,1919.4 L1554.7,1923.3 L1556.0,1927.2 L1557.3,1931.0 L1558.5,1934.7 L1559.8,1938.4 L1561.1,1942.0 L1562.3,1945.6 L1563.6,1949.1 L1564.9,1952.5 L1566.1,1955.8 L1567.4,1959.1 L1568.7,1962.3 L1569.9,1965.4 L1571.2,1968.5 L1572.5,1971.5 L1573.7,1974.4 L1575.0,1977.2 L1576.3,1980.0 L1577.5,1982.7 L1578.8,1985.4 L1580.1,1987.9 L1581.3,1990.4 L1582.6,1992.9 L1583.9,1995.3 L1585.1,1997.6 L1586.4,1999.8 L1587.7,2002.0 L1588.9,2004.2 L1590.2,2006.3 L1591.5,2008.3 L1592.7,2010.3 L1594.0,2012.2 L1595.3,2014.1 L1596.5,2015.9 L1597.8,2017.7 L1599.1,2019.4 L1600.3,2021.1 L1601.6,2022.8 L1602.9,2024.4 L1604.1,2025.9 L1605.4,2027.5 L1606.7,2029.0 L1607.9,2030.4 L1609.2,2031.8 L1610.5,2033.2 L1611.8,2034.5 L1613.0,2035.9 L1614.3,2037.1 L1615.6,2038.4 L1616.8,2039.6 L1618.1,2040.8 L1619.4,2042.0 L1620.6,2043.1 L1621.9,2044.2 L1623.2,2045.3 L1624.4,2046.4 L1625.7,2047.4 L1627.0,2048.4 L1628.2,2049.4 L1629.5,2050.4 L1630.8,2051.3 L1632.0,2052.3 L1633.3,2053.2 L1634.6,2054.1 L1635.8,2054.9 L1637.1,2055.8 L1638.4,2056.6 L1639.6,2057.5 L1640.9,2058.3 L1642.2,2059.1 L1643.4,2059.8 L1644.7,2060.6 L1646.0,2061.3 L1647.2,2062.1 L1648.5,2062.8 L1649.8,2063.5 L1651.0,2064.2 L1652.3,2064.9 L1653.6,2065.5 L1654.8,2066.2 L1656.1,2066.8 L1657.4,2067.5 L1658.6,2068.1 L1659.9,2068.7 L1661.2,2069.3 L1662.4,2069.9 L1663.7,2070.5 L1665.0,2071.1 L1666.2,2071.6 L1667.5,2072.2 L1668.8,2072.7 L1670.0,2073.3 L1671.3,2073.8 L1672.6,2074.3 L1673.8,2074.9 L1675.1,2075.4 L1676.4,2075.9 L1677.6,2076.4 L1678.9,2076.8 L1680.2,2077.3 L1681.4,2077.8 L1682.7,2078.3 L1684.0,2078.7 L1685.2,2079.2 L1686.5,2079.6 L1687.8,2080.0 L1689.0,2080.5 L1690.3,2080.9 L1691.6,2081.3 L1692.9,2081.7 L1694.1,2082.2 L1695.4,2082.6 L1696.7,2083.0 L1697.9,2083.4 L1699.2,2083.8 L1700.5,2084.1 L1701.7,2084.5 L1703.0,2084.9 L1704.3,2085.3 L1705.5,2085.6 L1706.8,2086.0 L1708.1,2086.4 L1709.3,2086.7 L1710.6,2087.1 L1711.9,2087.4 L1713.1,2087.7 L1714.4,2088.1 L1715.7,2088.4 L1716.9,2088.7 L1718.2,2089.1 L1719.5,2089.4 L1720.7,2089.7 L1722.0,2090.0 L1723.3,2090.3 L1724.5,2090.6 L1725.8,2090.9 L1727.1,2091.2 L1728.3,2091.5 L1729.6,2091.8 L1730.9,2092.1 L1732.1,2092.4 L1733.4,2092.7 L1734.7,2092.9 L1735.9,2093.2 L1737.2,2093.5 L1738.5,2093.7 L1739.7,2094.0 L1741.0,2094.3 L1742.3,2094.5 L1743.5,2094.8 L1744.8,2095.0 L1746.1,2095.3 L1747.3,2095.5 L1748.6,2095.8 L1749.9,2096.0 L1751.1,2096.2 L1752.4,2096.5 L1753.7,2096.7 L1754.9,2096.9 L1756.2,2097.2 L1757.5,2097.4 L1758.7,2097.6 L1760.0,2097.8 L1761.3,2098.0 L1762.5,2098.2 L1763.8,2098.4 L1765.1,2098.6 L1766.3,2098.8 L1767.6,2099.0 L1768.9,2099.2 L1770.2,2099.4 L1771.4,2099.6 L1772.7,2099.8 L1774.0,2100.0 L1775.2,2100.2 L1776.5,2100.4 L1777.8,2100.5 L1779.0,2100.7 L1780.3,2100.9 L1781.6,2101.1 L1782.8,2101.2 L1784.1,2101.4 L1785.4,2101.5 L1786.6,2101.7 L1787.9,2101.9 L1789.2,2102.0 L1790.4,2102.2 L1791.7,2102.3 L1793.0,2102.5 L1794.2,2102.6 L1795.5,2102.7 L1796.8,2102.9 L1798.0,2103.0 L1799.3,2103.2 L1800.6,2103.3 L1801.8,2103.4 L1803.1,2103.5 L1804.4,2103.7 L1805.6,2103.8 L1806.9,2103.9 L1808.2,2104.0 L1809.4,2104.1 L1810.7,2104.2 L1812.0,2104.4 L1813.2,2104.5 L1814.5,2104.6 L1815.8,2104.7 L1817.0,2104.8 L1818.3,2104.9 L1819.6,2105.0 L1820.8,2105.1 L1822.1,2105.1 L1823.4,2105.2 L1824.6,2105.3 L1825.9,2105.4 L1827.2,2105.5 L1828.4,2105.6 L1829.7,2105.6 L1831.0,2105.7 L1832.2,2105.8 L1833.5,2105.9 L1834.8,2105.9 L1836.0,2106.0 L1837.3,2106.1 L1838.6,2106.1 L1839.8,2106.2 L1841.1,2106.2 L1842.4,2106.3 L1843.6,2106.3 L1844.9,2106.4 L1846.2,2106.4 L1847.4,2106.5 L1848.7,2106.5 L1850.0,2106.6 L1851.3,2106.6 L1852.5,2106.6 L1853.8,2106.7 L1855.1,2106.7 L1856.3,2106.7 L1857.6,2106.8 L1858.9,2106.8 L1860.1,2106.8 L1861.4,2106.8 L1862.7,2106.9 L1863.9,2106.9 L1865.2,2106.9 L1866.5,2106.9 L1867.7,2106.9 L1869.0,2106.9 L1870.3,2106.9 L1871.5,2106.9 L1872.8,2107.0 L1874.1,2107.0 L1875.3,2107.0 L1876.6,2107.0 L1877.9,2107.0 L1879.1,2106.9 L1880.4,2106.9 L1881.7,2106.9 L1882.9,2106.9 L1884.2,2106.9 L1885.5,2106.9 L1886.7,2106.9 L1888.0,2106.9 L1892.0,2106.9"/></g>
<g clip-path="url(#c6)"><path stroke="#808080" d="M298.0,2472.0 L304.0,2472.0 L305.3,2472.0 L306.5,2472.0 L307.8,2472.0 L309.1,2472.0 L310.3,2472.0 L311.6,2472.0 L312.9,2472.0 L314.1,2472.0 L315.4,2472.0 L316.7,2472.0 L317.9,2472.0 L319.2,2472.0 L320.5,2472.0 L321.7,2472.0 L323.0,2472.0 L324.3,2472.0 L325.5,2472.0 L326.8,2472.0 L328.1,2472.0 L329.3,2472.0 L330.6,2472.0 L331.9,2472.0 L333.1,2472.0 L334.4,2472.0 L335.7,2472.0 L336.9,2472.0 L338.2,2472.0 L339.5,2472.0 L340.7,2472.0 L342.0,2472.0 L343.3,2472.0 L344.6,2472.0 L345.8,2472.0 L347.1,2472.0 L348.4,2472.0 L349.6,2472.0 L350.9,2472.0 L352.2,2472.0 L353.4,2472.0 L354.7,2472.0 L356.0,2472.0 L357.2,2472.0 L358.5,2472.0 L359.8,2472.0 L361.0,2472.0 L362.3,2472.0 L363.6,2472.0 L364.8,2472.0 L366.1,2472.0 L367.4,2472.0 L368.6,2472.0 L369.9,2472.0 L371.2,2472.0 L372.4,2472.0 L373.7,2472.0 L375.0,2472.0 L376.2,2472.0 L377.5,2472.0 L378.8,2472.0 L380.0,2472.0 L381.3,2472.0 L382.6,2472.0 L383.8,2472.0 L385.1,2472.0 L386.4,2472.0 L387.6,2472.0 L388.9,2472.0 L390.2,2472.0 L391.4,2472.0 L392.7,2472.0 L394.0,2472.0 L395.2,2472.0 L396.5,2472.0 L397.8,2472.0 L399.0,2472.0 L400.3,2472.0 L401.6,2472.0 L402.8,2472.0 L404.1,2472.0 L405.4,2472.0 L406.6,2472.0 L407.9,2472.0 L409.2,2472.0 L410.4,2472.0 L411.7,2472.0 L413.0,2472.0 L414.2,2472.0 L415.5,2472.0 L416.8,2472.0 L418.0,2472.0 L419.3,2472.0 L420.6,2472.0 L421.8,2472.0 L423.1,2472.0 L424.4,2472.0 L425.7,2472.0 L426.9,2472.0 L428.2,2472.0 L429.5,2472.0 L430.7,2472.0 L432.0,2472.0 L433.3,2472.0 L434.5,2472.0 L435.8,2472.0 L437.1,2472.0 L438.3,2472.0 L439.6,2472.0 L440.9,2472.0 L442.1,2472.0 L443.4,2472.0 L444.7,2472.0 L445.9,2472.0 L447.2,2472.0 L448.5,2472.0 L449.7,2472.0 L451.0,2472.0 L452.3,2472.0 L453.5,2472.0 L454.8,2472.0 L456.1,2472.0 L457.3,2472.0 L458.6,2472.0 L459.9,2472.0 L461.1,2472.0 L462.4,2472.0 L463.7,2472.0 L464.9,2472.0 L466.2,2472.0 L467.5,2472.0 L468.7,2472.0 L470.0,2472.0 L471.3,2472.0 L472.5,2472.0 L473.8,2472.0 L475.1,2472.0 L476.3,2472.0 L477.6,2472.0 L478.9,2472.0 L480.1,2472.0 L481.4,2472.0 L482.7,2472.0 L483.9,2472.0 L485.2,2472.0 L486.5,2472.0 L487.7,2472.0 L489.0,2472.0 L490.3,2472.0 L491.5,2472.0 L492.8,2472.0 L494.1,2472.0 L495.3,2472.0 L496.6,2472.0 L497.9,2472.0 L499.1,2472.0 L500.4,2472.0 L501.7,2472.0 L503.0,2472.0 L504.2,2472.0 L505.5,2472.0 L506.8,2472.0 L508.0,2472.0 L509.3,2472.0 L510.6,2472.0 L511.8,2472.0 L513.1,2472.0 L514.4,2472.0 L515.6,2472.0 L516.9,2472.0 L518.2,2472.0 L519.4,2472.0 L520.7,2472.0 L522.0,2472.0 L523.2,2472.0 L524.5,2472.0 L525.8,2472.0 L527.0,2472.0 L528.3,2472.0 L529.6,2472.0 L530.8,2472.0 L532.1,2472.0 L533.4,2472.0 L534.6,2472.0 L535.9,2472.0 L537.2,2472.0 L538.4,2472.0 L539.7,2472.0 L541.0,2472.0 L542.2,2472.0 L543.5,2472.0 L544.8,2472.0 L546.0,2472.0 L547.3,2472.0 L548.6,2472.0 L549.8,2472.0 L551.1,2472.0 L552.4,2472.0 L553.6,2472.0 L554.9,2472.0 L556.2,2472.0 L557.4,2472.0 L558.7,2472.0 L560.0,2472.0 L561.2,2472.0 L562.5,2472.0 L563.8,2472.0 L565.0,2472.0 L566.3,2472.0 L567.6,2472.0 L568.8,2472.0 L570.1,2472.0 L571.4,2472.0 L572.6,2472.0 L573.9,2472.0 L575.2,2472.0 L576.4,2472.0 L577.7,2472.0 L579.0,2472.0 L580.2,2472.0 L581.5,2472.0 L582.8,2472.0 L584.1,2472.0 L585.3,2472.0 L586.6,2472.0 L587.9,2472.0 L589.1,2472.0 L590.4,2472.0 L591.7,2472.0 L592.9,2472.0 L594.2,2472.0 L595.5,2472.0 L596.7,2472.0 L598.0,2472.0 L599.3,2472.0 L600.5,2472.0 L601.8,2472.0 L603.1,2472.0 L604.3,2472.0 L605.6,2472.0 L606.9,2472.0 L608.1,2472.0 L609.4,2472.0 L610.7,2472.0 L611.9,2472.0 L613.2,2472.0 L614.5,2471.9 L615.7,2471.9 L617.0,2471.9 L618.3,2471.9 L619.5,2471.9 L620.8,2471.9 L622.1,2471.9 L623.3,2471.9 L624.6,2471.9 L625.9,2471.9 L627.1,2471.9 L628.4,2471.9 L629.7,2471.9 L630.9,2471.9 L632.2,2471.9 L633.5,2471.9 L634.7,2471.9 L636.0,2471.9 L637.3,2471.9 L638.5,2471.9 L639.8,2471.9 L641.1,2471.9 L642.3,2471.9 L643.6,2471.9 L644.9,2471.9 L646.1,2471.9 L647.4,2471.9 L648.7,2471.9 L649.9,2471.9 L651.2,2471.9 L652.5,2471.9 L653.7,2471.9 L655.0,2471.9 L656.3,2471.9 L657.5,2471.9 L658.8,2471.9 L660.1,2471.9 L661.4,2471.9 L662.6,2471.9 L663.9,2471.9 L665.2,2471.9 L666.4,2471.9 L667.7,2471.9 L669.0,2471.9 L670.2,2471.9 L671.5,2471.9 L672.8,2471.9 L674.0,2471.9 L675.3,2471.8 L676.6,2471.8 L677.8,2471.8 L679.1,2471.8 L680.4,2471.8 L681.6,2471.8 L682.9,2471.8 L684.2,2471.8 L685.4,2471.8 L686.7,2471.8 L688.0,2471.8 L689.2,2471.8 L690.5,2471.8 L691.8,2471.8 L693.0,2471.8 L694.3,2471.8 L695.6,2471.8 L696.8,2471.8 L698.1,2471.8 L699.4,2471.8 L700.6,2471.8 L701.9,2471.8 L703.2,2471.8 L704.4,2471.8 L705.7,2471.8 L707.0,2471.8 L708.2,2471.8 L709.5,2471.8 L710.8,2471.8 L712.0,2471.8 L713.3,2471.8 L714.6,2471.8 L715.8,2471.7 L717.1,2471.7 L718.4,2471.7 L719.6,2471.7 L720.9,2471.7 L722.2,2471.7 L723.4,2471.7 L724.7,2471.7 L726.0,2471.7 L727.2,2471.7 L728.5,2471.7 L729.8,2471.7 L731.0,2471.7 L732.3,2471.7 L733.6,2471.7 L734.8,2471.7 L736.1,2471.7 L737.4,2471.7 L738.6,2471.7 L739.9,2471.7 L741.2,2471.7 L742.5,2471.7 L743.7,2471.7 L745.0,2471.7 L746.3,2471.7 L747.5,2471.6 L748.8,2471.6 L750.1,2471.6 L751.3,2471.6 L752.6,2471.6 L753.9,2471.6 L755.1,2471.6 L756.4,2471.6 L757.7,2471.6 L758.9,2471.6 L760.2,2471.6 L761.5,2471.6 L762.7,2471.6 L764.0,2471.6 L765.3,2471.6 L766.5,2471.6 L767.8,2471.6 L769.1,2471.6 L770.3,2471.6 L771.6,2471.6 L772.9,2471.5 L774.1,2471.5 L775.4,2471.5 L776.7,2471.5 L777.9,2471.5 L779.2,2471.5 L780.5,2471.5 L781.7,2471.5 L783.0,2471.5 L784.3,2471.5 L785.5,2471.5 L786.8,2471.5 L788.1,2471.5 L789.3,2471.5 L790.6,2471.5 L791.9,2471.5 L793.1,2471.5 L794.4,2471.5 L795.7,2471.4 L796.9,2471.4 L798.2,2471.4 L799.5,2471.4 L800.7,2471.4 L802.0,2471.4 L803.3,2471.4 L804.5,2471.4 L805.8,2471.4 L807.1,2471.4 L808.3,2471.4 L809.6,2471.4 L810.9,2471.4 L812.1,2471.4 L813.4,2471.4 L814.7,2471.3 L815.9,2471.3 L817.2,2471.3 L818.5,2471.3 L819.8,2471.3 L821.0,2471.3 L822.3,2471.3 L823.6,2471.3 L824.8,2471.3 L826.1,2471.3 L827.4,2471.3 L828.6,2471.3 L829.9,2471.3 L831.2,2471.3 L832.4,2471.2 L833.7,2471.2 L835.0,2471.2 L836.2,2471.2 L837.5,2471.2 L838.8,2471.2 L840.0,2471.2 L841.3,2471.2 L842.6,2471.2 L843.8,2471.2 L845.1,2471.2 L846.4,2471.2 L847.6,2471.2 L848.9,2471.1 L850.2,2471.1 L851.4,2471.1 L852.7,2471.1 L854.0,2471.1 L855.2,2471.1 L856.5,2471.1 L857.8,2471.1 L859.0,2471.1 L860.3,2471.1 L861.6,2471.1 L862.8,2471.0 L864.1,2471.0 L865.4,2471.0 L866.6,2471.0 L867.9,2471.0 L869.2,2471.0 L870.4,2471.0 L871.7,2471.0 L873.0,2471.0 L874.2,2471.0 L875.5,2471.0 L876.8,2470.9 L878.0,2470.9 L879.3,2470.9 L880.6,2470.9 L881.8,2470.9 L883.1,2470.9 L884.4,2470.9 L885.6,2470.9 L886.9,2470.9 L888.2,2470.9 L889.4,2470.8 L890.7,2470.8 L892.0,2470.8 L893.2,2470.8 L894.5,2470.8 L895.8,2470.8 L897.0,2470.8 L898.3,2470.8 L899.6,2470.8 L900.9,2470.7 L902.1,2470.7 L903.4,2470.7 L904.7,2470.7 L905.9,2470.7 L907.2,2470.7 L908.5,2470.7 L909.7,2470.7 L911.0,2470.7 L912.3,2470.6 L913.5,2470.6 L914.8,2470.6 L916.1,2470.6 L917.3,2470.6 L918.6,2470.6 L919.9,2470.6 L921.1,2470.6 L922.4,2470.5 L923.7,2470.5 L924.9,2470.5 L926.2,2470.5 L927.5,2470.5 L928.7,2470.5 L930.0,2470.5 L931.3,2470.4 L932.5,2470.4 L933.8,2470.4 L935.1,2470.4 L936.3,2470.4 L937.6,2470.4 L938.9,2470.4 L940.1,2470.4 L941.4,2470.3 L942.7,2470.3 L943.9,2470.3 L945.2,2470.3 L946.5,2470.3 L947.7,2470.3 L949.0,2470.3 L950.3,2470.2 L951.5,2470.2 L952.8,2470.2 L954.1,2470.2 L955.3,2470.2 L956.6,2470.2 L957.9,2470.1 L959.1,2470.1 L960.4,2470.1 L961.7,2470.1 L962.9,2470.1 L964.2,2470.1 L965.5,2470.1 L966.7,2470.0 L968.0,2470.0 L969.3,2470.0 L970.5,2470.0 L971.8,2470.0 L973.1,2470.0 L974.3,2469.9 L975.6,2469.9 L976.9,2469.9 L978.2,2469.9 L979.4,2469.9 L980.7,2469.9 L982.0,2469.8 L983.2,2469.8 L984.5,2469.8 L985.8,2469.8 L987.0,2469.8 L988.3,2469.7 L989.6,2469.7 L990.8,2469.7 L992.1,2469.7 L993.4,2469.7 L994.6,2469.7 L995.9,2469.6 L997.2,2469.6 L998.4,2469.6 L999.7,2469.6 L1001.0,2469.6 L1002.2,2469.5 L1003.5,2469.5 L1004.8,2469.5 L1006.0,2469.5 L1007.3,2469.5 L1008.6,2469.4 L1009.8,2469.4 L1011.1,2469.4 L1012.4,2469.4 L1013.6,2469.4 L1014.9,2469.3 L1016.2,2469.3 L1017.4,2469.3 L1018.7,2469.3 L1020.0,2469.2 L1021.2,2469.2 L1022.5,2469.2 L1023.8,2469.2 L1025.0,2469.2 L1026.3,2469.1 L1027.6,2469.1 L1028.8,2469.1 L1030.1,2469.1 L1031.4,2469.0 L1032.6,2469.0 L1033.9,2469.0 L1035.2,2469.0 L1036.4,2468.9 L1037.7,2468.9 L1039.0,2468.9 L1040.2,2468.9 L1041.5,2468.9 L1042.8,2468.8 L1044.0,2468.8 L1045.3,2468.8 L1046.6,2468.8 L1047.8,2468.7 L1049.1,2468.7 L1050.4,2468.7 L1051.6,2468.6 L1052.9,2468.6 L1054.2,2468.6 L1055.4,2468.6 L1056.7,2468.5 L1058.0,2468.5 L1059.3,2468.5 L1060.5,2468.5 L1061.8,2468.4 L1063.1,2468.4 L1064.3,2468.4 L1065.6,2468.3 L1066.9,2468.3 L1068.1,2468.3 L1069.4,2468.3 L1070.7,2468.2 L1071.9,2468.2 L1073.2,2468.2 L1074.5,2468.1 L1075.7,2468.1 L1077.0,2468.1 L1078.3,2468.1 L1079.5,2468.0 L1080.8,2468.0 L1082.1,2468.0 L1083.3,2467.9 L1084.6,2467.9 L1085.9,2467.9 L1087.1,2467.8 L1088.4,2467.8 L1089.7,2467.8 L1090.9,2467.7 L1092.2,2467.7 L1093.5,2467.7 L1094.7,2467.6 L1096.0,2467.6 L1097.3,2467.6 L1098.5,2467.5 L1099.8,2467.5 L1101.1,2467.5 L1102.3,2467.4 L1103.6,2467.4 L1104.9,2467.4 L1106.1,2467.3 L1107.4,2467.3 L1108.7,2467.3 L1109.9,2467.2 L1111.2,2467.2 L1112.5,2467.1 L1113.7,2467.1 L1115.0,2467.1 L1116.3,2467.0 L1117.5,2467.0 L1118.8,2467.0 L1120.1,2466.9 L1121.3,2466.9 L1122.6,2466.8 L1123.9,2466.8 L1125.1,2466.8 L1126.4,2466.7 L1127.7,2466.7 L1128.9,2466.6 L1130.2,2466.6 L1131.5,2466.6 L1132.7,2466.5 L1134.0,2466.5 L1135.3,2466.4 L1136.6,2466.4 L1137.8,2466.3 L1139.1,2466.3 L1140.4,2466.3 L1141.6,2466.2 L1142.9,2466.2 L1144.2,2466.1 L1145.4,2466.1 L1146.7,2466.0 L1148.0,2466.0 L1149.2,2465.9 L1150.5,2465.9 L1151.8,2465.8 L1153.0,2465.8 L1154.3,2465.7 L1155.6,2465.7 L1156.8,2465.6 L1158.1,2465.6 L1159.4,2465.5 L1160.6,2465.5 L1161.9,2465.4 L1163.2,2465.4 L1164.4,2465.3 L1165.7,2465.3 L1167.0,2465.2 L1168.2,2465.2 L1169.5,2465.1 L1170.8,2465.1 L1172.0,2465.0 L1173.3,2465.0 L1174.6,2464.9 L1175.8,2464.9 L1177.1,2464.8 L1178.4,2464.8 L1179.6,2464.7 L1180.9,2464.6 L1182.2,2464.6 L1183.4,2464.5 L1184.7,2464.5 L1186.0,2464.4 L1187.2,2464.3 L1188.5,2464.3 L1189.8,2464.2 L1191.0,2464.2 L1192.3,2464.1 L1193.6,2464.0 L1194.8,2464.0 L1196.1,2463.9 L1197.4,2463.8 L1198.6,2463.8 L1199.9,2463.7 L1201.2,2463.6 L1202.4,2463.6 L1203.7,2463.5 L1205.0,2463.4 L1206.2,2463.4 L1207.5,2463.3 L1208.8,2463.2 L1210.0,2463.2 L1211.3,2463.1 L1212.6,2463.0 L1213.8,2463.0 L1215.1,2462.9 L1216.4,2462.8 L1217.7,2462.7 L1218.9,2462.7 L1220.2,2462.6 L1221.5,2462.5 L1222.7,2462.4 L1224.0,2462.4 L1225.3,2462.3 L1226.5,2462.2 L1227.8,2462.1 L1229.1,2462.0 L1230.3,2462.0 L1231.6,2461.9 L1232.9,2461.8 L1234.1,2461.7 L1235.4,2461.6 L1236.7,2461.5 L1237.9,2461.5 L1239.2,2461.4 L1240.5,2461.3 L1241.7,2461.2 L1243.0,2461.1 L1244.3,2461.0 L1245.5,2460.9 L1246.8,2460.8 L1248.1,2460.7 L1249.3,2460.6 L1250.6,2460.6 L1251.9,2460.5 L1253.1,2460.4 L1254.4,2460.3 L1255.7,2460.2 L1256.9,2460.1 L1258.2,2460.0 L1259.5,2459.9 L1260.7,2459.8 L1262.0,2459.7 L1263.3,2459.6 L1264.5,2459.5 L1265.8,2459.3 L1267.1,2459.2 L1268.3,2459.1 L1269.6,2459.0 L1270.9,2458.9 L1272.1,2458.8 L1273.4,2458.7 L1274.7,2458.6 L1275.9,2458.5 L1277.2,2458.3 L1278.5,2458.2 L1279.7,2458.1 L1281.0,2458.0 L1282.3,2457.9 L1283.5,2457.7 L1284.8,2457.6 L1286.1,2457.5 L1287.3,2457.3 L1288.6,2457.1 L1289.9,2456.9 L1291.1,2456.7 L1292.4,2456.4 L1293.7,2456.1 L1295.0,2455.8 L1296.2,2455.5 L1297.5,2455.1 L1298.8,2454.8 L1300.0,2454.4 L1301.3,2454.0 L1302.6,2453.6 L1303.8,2453.2 L1305.1,2452.8 L1306.4,2452.5 L1307.6,2452.1 L1308.9,2451.8 L1310.2,2451.5 L1311.4,2451.2 L1312.7,2450.9 L1314.0,2450.6 L1315.2,2450.3 L1316.5,2450.1 L1317.8,2449.8 L1319.0,2449.4 L1320.3,2449.1 L1321.6,2448.8 L1322.8,2448.5 L1324.1,2448.2 L1325.4,2447.8 L1326.6,2447.5 L1327.9,2447.1 L1329.2,2446.8 L1330.4,2446.4 L1331.7,2446.1 L1333.0,2445.7 L1334.2,2445.3 L1335.5,2445.3 L1336.8,2445.3 L1338.0,2445.3 L1339.3,2445.3 L1340.6,2445.3 L1341.8,2445.3 L1343.1,2445.3 L1344.4,2445.3 L1345.6,2445.3 L1346.9,2445.3 L1348.2,2445.3 L1349.4,2445.3 L1350.7,2445.3 L1352.0,2445.3 L1353.2,2445.3 L1354.5,2445.1 L1355.8,2444.8 L1357.0,2444.7 L1358.3,2444.6 L1359.6,2444.4 L1360.8,2444.3 L1362.1,2444.1 L1363.4,2443.9 L1364.6,2443.8 L1365.9,2443.6 L1367.2,2443.4 L1368.4,2443.2 L1369.7,2442.9 L1371.0,2442.7 L1372.2,2442.5 L1373.5,2442.2 L1374.8,2442.0 L1376.1,2441.7 L1377.3,2441.4 L1378.6,2441.1 L1379.9,2440.8 L1381.1,2440.5 L1382.4,2440.2 L1383.7,2439.9 L1384.9,2439.6 L1386.2,2439.2 L1387.5,2438.9 L1388.7,2438.5 L1390.0,2438.1 L1391.3,2437.7 L1392.5,2437.3 L1393.8,2436.9 L1395.1,2436.5 L1396.3,2436.1 L1397.6,2435.7 L1398.9,2435.2 L1400.1,2434.8 L1401.4,2434.3 L1402.7,2433.8 L1403.9,2433.3 L1405.2,2432.8 L1406.5,2432.3 L1407.7,2431.8 L1409.0,2431.3 L1410.3,2430.7 L1411.5,2430.2 L1412.8,2429.6 L1414.1,2429.0 L1415.3,2428.4 L1416.6,2427.8 L1417.9,2427.2 L1419.1,2426.6 L1420.4,2426.0 L1421.7,2425.3 L1422.9,2424.6 L1424.2,2424.0 L1425.5,2423.3 L1426.7,2422.6 L1428.0,2421.9 L1429.3,2421.1 L1430.5,2420.4 L1431.8,2419.6 L1433.1,2418.8 L1434.3,2418.1 L1435.6,2417.2 L1436.9,2416.4 L1438.1,2415.6 L1439.4,2414.7 L1440.7,2413.9 L1441.9,2413.0 L1443.2,2412.1 L1444.5,2411.2 L1445.7,2410.2 L1447.0,2409.3 L1448.3,2408.3 L1449.5,2407.3 L1450.8,2406.3 L1452.1,2405.2 L1453.4,2404.2 L1454.6,2403.1 L1455.9,2402.0 L1457.2,2400.9 L1458.4,2399.7 L1459.7,2398.6 L1461.0,2397.4 L1462.2,2396.2 L1463.5,2394.9 L1464.8,2393.6 L1466.0,2392.4 L1467.3,2391.0 L1468.6,2389.7 L1469.8,2388.3 L1471.1,2386.9 L1472.4,2385.4 L1473.6,2384.0 L1474.9,2382.4 L1476.2,2380.9 L1477.4,2379.3 L1478.7,2377.7 L1480.0,2376.1 L1481.2,2374.4 L1482.5,2372.6 L1483.8,2370.9 L1485.0,2369.1 L1486.3,2367.2 L1487.6,2365.3 L1488.8,2363.4 L1490.1,2361.4 L1491.4,2359.3 L1492.6,2357.3 L1493.9,2355.1 L1495.2,2352.9 L1496.4,2350.7 L1497.7,2348.4 L1499.0,2346.1 L1500.2,2343.7 L1501.5,2341.2 L1502.8,2338.7 L1504.0,2336.1 L1505.3,2333.5 L1506.6,2330.8 L1507.8,2328.0 L1509.1,2325.2 L1510.4,2322.3 L1511.6,2319.3 L1512.9,2316.3 L1514.2,2313.2 L1515.4,2310.0 L1516.7,2306.8 L1518.0,2303.5 L1519.2,2300.1 L1520.5,2296.7 L1521.8,2293.2 L1523.0,2289.7 L1524.3,2286.0 L1525.6,2282.4 L1526.8,2278.6 L1528.1,2274.8 L1529.4,2271.0 L1530.6,2267.1 L1531.9,2263.2 L1533.2,2259.2 L1534.5,2255.2 L1535.7,2251.2 L1537.0,2247.1 L1538.3,2243.0 L1539.5,2239.0 L1540.8,2234.9 L1542.1,2230.8 L1543.3,2226.8 L1544.6,2222.7 L1545.9,2218.8 L1547.1,2214.8 L1548.4,2210.9 L1549.7,2207.1 L1550.9,2203.4 L1552.2,2199.7 L1553.5,2196.1 L1554.7,2192.7 L1556.0,2189.3 L1557.3,2186.1 L1558.5,2182.9 L1559.8,2180.0 L1561.1,2177.1 L1562.3,2174.4 L1563.6,2171.8 L1564.9,2169.4 L1566.1,2167.2 L1567.4,2165.1 L1568.7,2163.1 L1569.9,2161.3 L1571.2,2159.6 L1572.5,2158.0 L1573.7,2156.3 L1575.0,2154.8 L1576.3,2153.4 L1577.5,2152.1 L1578.8,2150.9 L1580.1,2149.9 L1581.3,2148.9 L1582.6,2148.1 L1583.9,2147.5 L1585.1,2146.9 L1586.4,2146.6 L1587.7,2147.3 L1588.9,2148.2 L1590.2,2149.2 L1591.5,2150.4 L1592.7,2151.7 L1594.0,2153.0 L1595.3,2154.4 L1596.5,2156.0 L1597.8,2157.6 L1599.1,2159.3 L1600.3,2161.1 L1601.6,2163.0 L1602.9,2164.9 L1604.1,2166.8 L1605.4,2168.9 L1606.7,2171.1 L1607.9,2173.4 L1609.2,2175.8 L1610.5,2178.3 L1611.8,2180.9 L1613.0,2183.7 L1614.3,2186.5 L1615.6,2189.4 L1616.8,2192.4 L1618.1,2195.5 L1619.4,2198.6 L1620.6,2201.9 L1621.9,2205.2 L1623.2,2208.5 L1624.4,2211.9 L1625.7,2215.4 L1627.0,2218.9 L1628.2,2222.4 L1629.5,2225.9 L1630.8,2229.5 L1632.0,2233.0 L1633.3,2236.6 L1634.6,2240.1 L1635.8,2243.7 L1637.1,2247.2 L1638.4,2250.7 L1639.6,2254.2 L1640.9,2257.7 L1642.2,2261.2 L1643.4,2264.6 L1644.7,2267.9 L1646.0,2271.3 L1647.2,2274.5 L1648.5,2277.8 L1649.8,2281.0 L1651.0,2284.1 L1652.3,2287.2 L1653.6,2290.3 L1654.8,2293.3 L1656.1,2296.2 L1657.4,2299.1 L1658.6,2301.9 L1659.9,2304.7 L1661.2,2307.5 L1662.4,2310.2 L1663.7,2312.8 L1665.0,2315.4 L1666.2,2317.9 L1667.5,2320.4 L1668.8,2322.8 L1670.0,2325.2 L1671.3,2327.5 L1672.6,2329.8 L1673.8,2332.0 L1675.1,2334.2 L1676.4,2336.3 L1677.6,2338.4 L1678.9,2340.5 L1680.2,2342.5 L1681.4,2344.4 L1682.7,2346.4 L1684.0,2348.3 L1685.2,2350.1 L1686.5,2351.9 L1687.8,2353.7 L1689.0,2355.4 L1690.3,2357.1 L1691.6,2358.8 L1692.9,2360.4 L1694.1,2362.0 L1695.4,2363.5 L1696.7,2365.1 L1697.9,2366.6 L1699.2,2368.0 L1700.5,2369.5 L1701.7,2370.9 L1703.0,2372.3 L1704.3,2373.6 L1705.5,2374.9 L1706.8,2376.2 L1708.1,2377.5 L1709.3,2378.8 L1710.6,2380.0 L1711.9,2381.2 L1713.1,2382.4 L1714.4,2383.5 L1715.7,2384.6 L1716.9,2385.8 L1718.2,2386.8 L1719.5,2387.9 L1720.7,2389.0 L1722.0,2390.0 L1723.3,2391.0 L1724.5,2392.0 L1725.8,2393.0 L1727.1,2393.9 L1728.3,2394.8 L1729.6,2395.8 L1730.9,2396.7 L1732.1,2397.5 L1733.4,2398.4 L1734.7,2399.3 L1735.9,2400.1 L1737.2,2400.9 L1738.5,2401.7 L1739.7,2402.5 L1741.0,2403.3 L1742.3,2404.1 L1743.5,2404.8 L1744.8,2405.6 L1746.1,2406.3 L1747.3,2407.0 L1748.6,2407.7 L1749.9,2408.4 L1751.1,2409.0 L1752.4,2409.7 L1753.7,2410.4 L1754.9,2411.0 L1756.2,2411.6 L1757.5,2412.2 L1758.7,2412.8 L1760.0,2413.4 L1761.3,2414.0 L1762.5,2414.6 L1763.8,2415.1 L1765.1,2415.7 L1766.3,2416.2 L1767.6,2416.8 L1768.9,2417.3 L1770.2,2417.8 L1771.4,2418.3 L1772.7,2418.8 L1774.0,2419.3 L1775.2,2419.8 L1776.5,2420.2 L1777.8,2420.7 L1779.0,2421.1 L1780.3,2421.6 L1781.6,2422.0 L1782.8,2422.5 L1784.1,2422.9 L1785.4,2423.3 L1786.6,2423.7 L1787.9,2424.1 L1789.2,2424.5 L1790.4,2424.9 L1791.7,2425.2 L1793.0,2425.6 L1794.2,2426.0 L1795.5,2426.3 L1796.8,2426.6 L1798.0,2427.0 L1799.3,2427.3 L1800.6,2427.6 L1801.8,2428.0 L1803.1,2428.3 L1804.4,2428.6 L1805.6,2428.9 L1806.9,2429.2 L1808.2,2429.5 L1809.4,2429.8 L1810.7,2430.0 L1812.0,2430.3 L1813.2,2430.6 L1814.5,2430.8 L1815.8,2431.1 L1817.0,2431.3 L1818.3,2431.6 L1819.6,2431.8 L1820.8,2432.1 L1822.1,2432.3 L1823.4,2432.5 L1824.6,2432.7 L1825.9,2432.9 L1827.2,2433.2 L1828.4,2433.4 L1829.7,2433.6 L1831.0,2433.8 L1832.2,2434.0 L1833.5,2434.1 L1834.8,2434.3 L1836.0,2434.5 L1837.3,2434.7 L1838.6,2434.9 L1839.8,2435.0 L1841.1,2435.2 L1842.4,2435.4 L1843.6,2435.5 L1844.9,2435.7 L1846.2,2435.8 L1847.4,2436.0 L1848.7,2436.1 L1850.0,2436.2 L1851.3,2436.4 L1852.5,2436.5 L1853.8,2436.6 L1855.1,2436.8 L1856.3,2436.9 L1857.6,2437.0 L1858.9,2437.1 L1860.1,2437.3 L1861.4,2437.4 L1862.7,2437.5 L1863.9,2437.6 L1865.2,2437.7 L1866.5,2437.8 L1867.7,2437.9 L1869.0,2438.0 L1870.3,2438.1 L1871.5,2438.2 L1872.8,2438.3 L1874.1,2438.4 L1875.3,2438.5 L1876.6,2438.6 L1877.9,2438.7 L1879.1,2438.8 L1880.4,2438.9 L1881.7,2439.0 L1882.9,2439.0 L1884.2,2439.1 L1885.5,2439.2 L1886.7,2439.3 L1888.0,2439.4 L1892.0,2439.4"/></g>
</g>
<g font-size="76" text-anchor="end" filter="url(#bin)">
<text transform="translate(262.2,79.8) scale(0.965,1)">1.00</text>
<text transform="translate(262.2,166.1) scale(0.965,1)">0.75</text>
<text transform="translate(262.2,252.3) scale(0.965,1)">0.50</text>
<text transform="translate(262.2,338.6) scale(0.965,1)">0.25</text>
<text transform="translate(262.2,424.8) scale(0.965,1)">0.00</text>
<text transform="translate(262.2,424.8) scale(0.965,1)">1.00</text>
<text transform="translate(262.2,511.1) scale(0.965,1)">0.75</text>
<text transform="translate(262.2,597.3) scale(0.965,1)">0.50</text>
<text transform="translate(262.2,683.5) scale(0.965,1)">0.25</text>
<text transform="translate(262.2,769.8) scale(0.965,1)">0.00</text>
<text transform="translate(262.2,769.8) scale(0.965,1)">1.00</text>
<text transform="translate(262.2,856.0) scale(0.965,1)">0.75</text>
<text transform="translate(262.2,942.3) scale(0.965,1)">0.50</text>
<text transform="translate(262.2,1028.5) scale(0.965,1)">0.25</text>
<text transform="translate(262.2,1114.8) scale(0.965,1)">0.00</text>
<text transform="translate(262.2,1114.8) scale(0.965,1)">1.00</text>
<text transform="translate(262.2,1201.0) scale(0.965,1)">0.75</text>
<text transform="translate(262.2,1287.3) scale(0.965,1)">0.50</text>
<text transform="translate(262.2,1373.5) scale(0.965,1)">0.25</text>
<text transform="translate(262.2,1459.8) scale(0.965,1)">0.00</text>
<text transform="translate(262.2,1459.8) scale(0.965,1)">1.00</text>
<text transform="translate(262.2,1546.0) scale(0.965,1)">0.75</text>
<text transform="translate(262.2,1632.3) scale(0.965,1)">0.50</text>
<text transform="translate(262.2,1718.5) scale(0.965,1)">0.25</text>
<text transform="translate(262.2,1804.8) scale(0.965,1)">0.00</text>
<text transform="translate(262.2,1804.8) scale(0.965,1)">1.00</text>
<text transform="translate(262.2,1891.0) scale(0.965,1)">0.75</text>
<text transform="translate(262.2,1977.3) scale(0.965,1)">0.50</text>
<text transform="translate(262.2,2063.6) scale(0.965,1)">0.25</text>
<text transform="translate(262.2,2149.8) scale(0.965,1)">0.00</text>
<text transform="translate(262.2,2149.8) scale(0.965,1)">1.00</text>
<text transform="translate(262.2,2236.1) scale(0.965,1)">0.75</text>
<text transform="translate(262.2,2322.3) scale(0.965,1)">0.50</text>
<text transform="translate(262.2,2408.6) scale(0.965,1)">0.25</text>
<text transform="translate(262.2,2494.8) scale(0.965,1)">0.00</text>
</g>
<g font-size="76" text-anchor="middle" filter="url(#bin)">
<text transform="translate(303.6,2571.2) scale(0.965,1)">15</text>
<text transform="translate(620.4,2571.2) scale(0.965,1)">20</text>
<text transform="translate(937.2,2571.2) scale(0.965,1)">25</text>
<text transform="translate(1254.0,2571.2) scale(0.965,1)">30</text>
<text transform="translate(1570.8,2571.2) scale(0.965,1)">35</text>
<text transform="translate(1887.6,2571.2) scale(0.965,1)">40</text>
</g>
<text x="673.5" y="2672" font-size="103.2" text-anchor="start" filter="url(#bin)">Frequency (GHz)</text>
<g filter="url(#bin)"><text transform="translate(85.2,1526.4) rotate(-90)" font-size="102.2" text-anchor="start">Absorption</text></g>
<rect x="1036.5" y="72.5" width="245" height="131" fill="#fff" stroke="#000" stroke-width="3" shape-rendering="crispEdges"/>
<rect x="947.5" y="421.5" width="439" height="122" fill="#fff" stroke="#000" stroke-width="3" shape-rendering="crispEdges"/>
<rect x="959.5" y="762.5" width="395" height="124" fill="#fff" stroke="#000" stroke-width="3" shape-rendering="crispEdges"/>
<rect x="946.5" y="1108.5" width="395" height="122" fill="#fff" stroke="#000" stroke-width="3" shape-rendering="crispEdges"/>
<rect x="941.5" y="1452.5" width="461" height="123" fill="#fff" stroke="#000" stroke-width="3" shape-rendering="crispEdges"/>
<rect x="959.5" y="1798.5" width="395" height="122" fill="#fff" stroke="#000" stroke-width="3" shape-rendering="crispEdges"/>
<rect x="932.5" y="2143.5" width="462" height="123" fill="#fff" stroke="#000" stroke-width="3" shape-rendering="crispEdges"/>
<g filter="url(#bin)">
<text x="1048" y="172.9" font-size="88" xml:space="preserve">R = <tspan x="1205.5" dy="4.3" font-size="93" font-weight="normal" style="font-weight:normal">∞</tspan></text>
<text x="959" y="514.2" font-size="88">R = 10 mm</text>
<text x="971" y="854.6" font-size="88">R = 8 mm</text>
<text x="958" y="1199.5" font-size="88">R = 4 mm</text>
<text x="953" y="1544.6" font-size="88">R = 1.5 mm</text>
<text x="971" y="1889.5" font-size="88">R = 1 mm</text>
<text x="944" y="2234.6" font-size="88">R = 0.7 mm</text>
</g>
</svg></body></html>
